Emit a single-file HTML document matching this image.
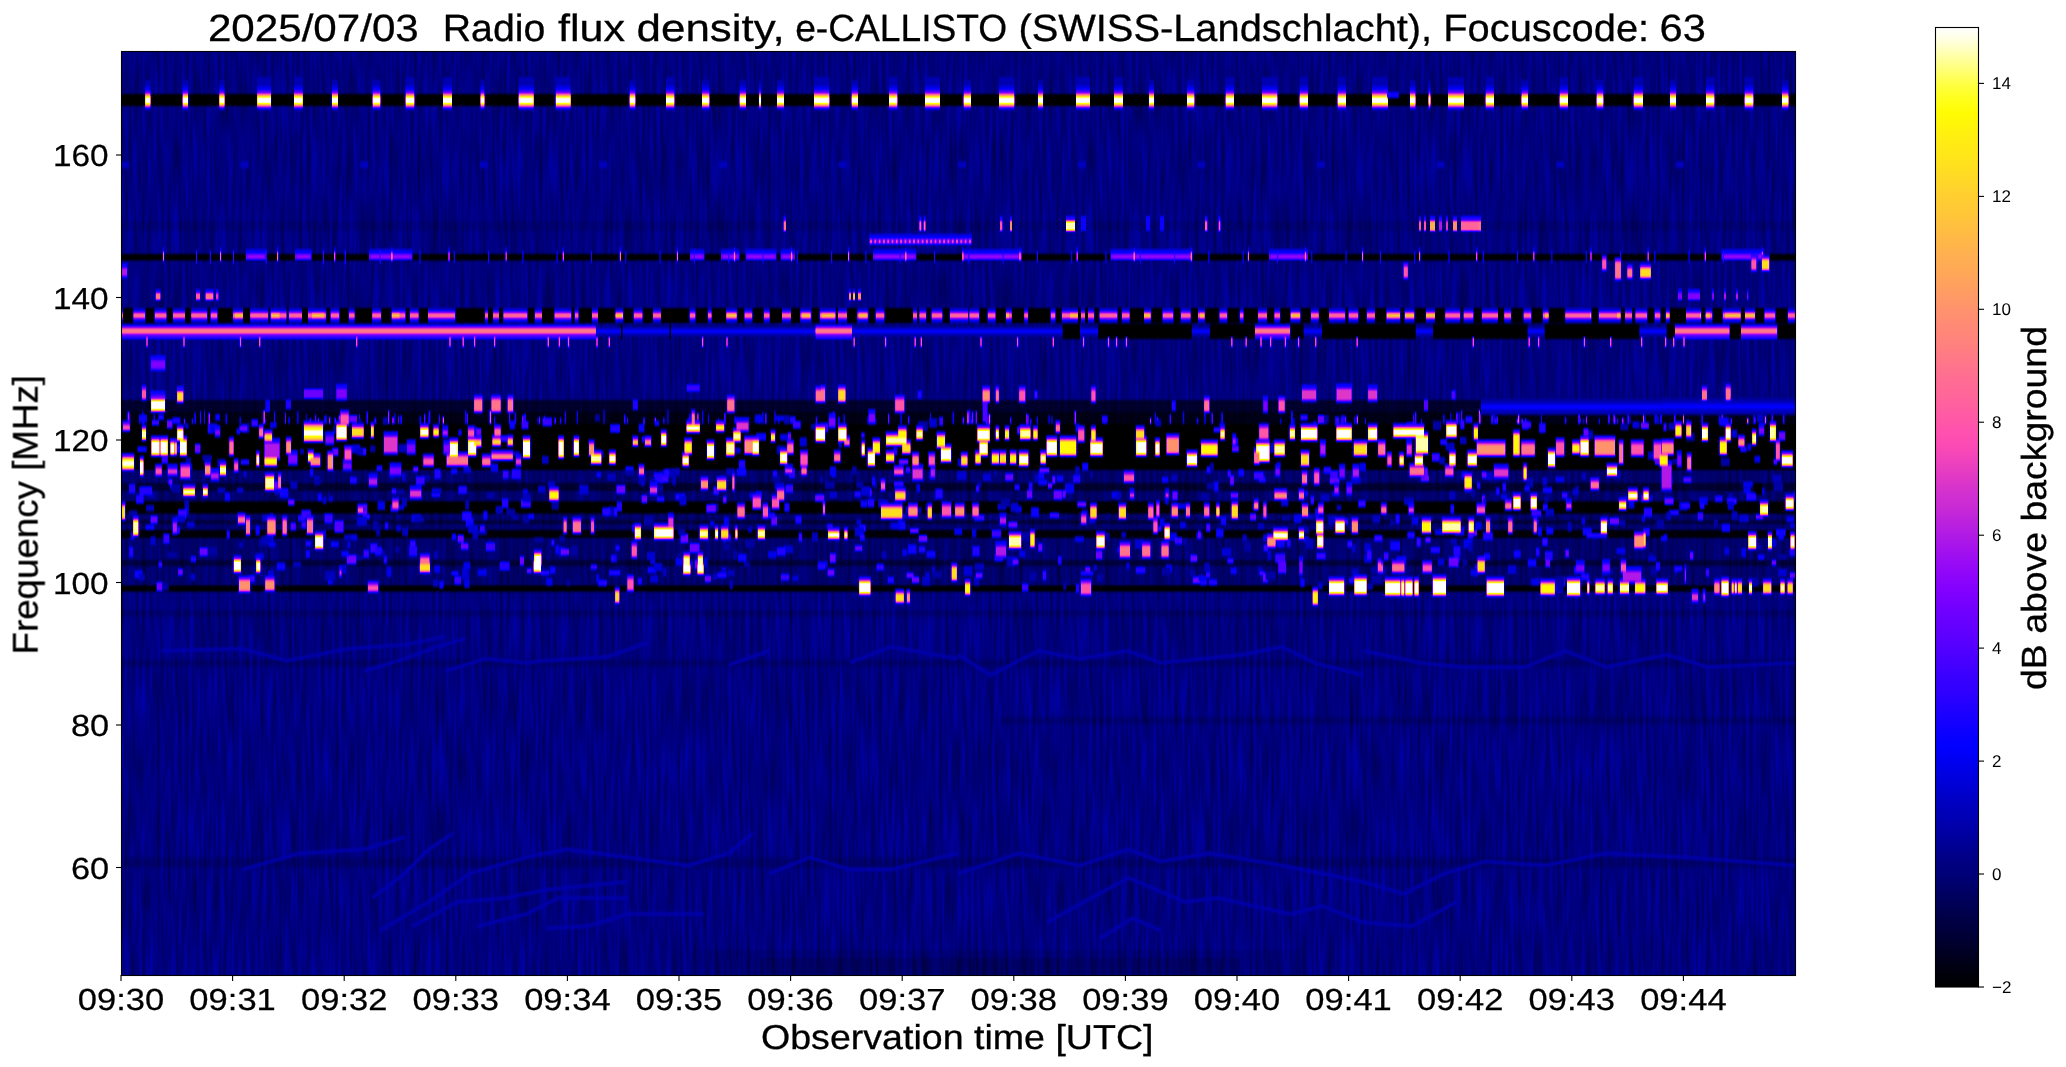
<!DOCTYPE html><html><head><meta charset="utf-8"><style>html,body{margin:0;padding:0;background:#fff}body{width:2066px;height:1067px;overflow:hidden}svg{display:block}text{will-change:transform}</style></head><body>
<svg width="2066" height="1067" viewBox="0 0 2066 1067" font-family="Liberation Sans, sans-serif" text-rendering="geometricPrecision">
<defs>
<linearGradient id="cbar" x1="0" y1="0" x2="0" y2="1"><stop offset="0.0000" stop-color="#ffffff"/><stop offset="0.0147" stop-color="#ffffda"/><stop offset="0.0294" stop-color="#ffffa7"/><stop offset="0.0441" stop-color="#ffff75"/><stop offset="0.0588" stop-color="#ffff43"/><stop offset="0.0735" stop-color="#ffff1e"/><stop offset="0.0882" stop-color="#fffc03"/><stop offset="0.1029" stop-color="#fff40b"/><stop offset="0.1176" stop-color="#ffec13"/><stop offset="0.1324" stop-color="#ffe619"/><stop offset="0.1471" stop-color="#ffde21"/><stop offset="0.1618" stop-color="#ffd629"/><stop offset="0.1765" stop-color="#ffce31"/><stop offset="0.1912" stop-color="#ffc837"/><stop offset="0.2059" stop-color="#ffc03f"/><stop offset="0.2206" stop-color="#ffb847"/><stop offset="0.2353" stop-color="#ffb04f"/><stop offset="0.2500" stop-color="#ffaa55"/><stop offset="0.2647" stop-color="#ffa25d"/><stop offset="0.2794" stop-color="#ff9a65"/><stop offset="0.2941" stop-color="#ff926d"/><stop offset="0.3088" stop-color="#ff8a75"/><stop offset="0.3235" stop-color="#ff847b"/><stop offset="0.3382" stop-color="#ff7c83"/><stop offset="0.3529" stop-color="#ff748b"/><stop offset="0.3676" stop-color="#ff6c93"/><stop offset="0.3824" stop-color="#ff6699"/><stop offset="0.3971" stop-color="#ff5ea1"/><stop offset="0.4118" stop-color="#ff56a9"/><stop offset="0.4265" stop-color="#ff4eb1"/><stop offset="0.4412" stop-color="#f848b7"/><stop offset="0.4559" stop-color="#eb40bf"/><stop offset="0.4706" stop-color="#df38c7"/><stop offset="0.4853" stop-color="#d230cf"/><stop offset="0.5000" stop-color="#c92ad5"/><stop offset="0.5147" stop-color="#bc22dd"/><stop offset="0.5294" stop-color="#b01ae5"/><stop offset="0.5441" stop-color="#a312ed"/><stop offset="0.5588" stop-color="#970af5"/><stop offset="0.5735" stop-color="#8d04fb"/><stop offset="0.5882" stop-color="#8100ff"/><stop offset="0.6029" stop-color="#7400ff"/><stop offset="0.6176" stop-color="#6800ff"/><stop offset="0.6324" stop-color="#5f00ff"/><stop offset="0.6471" stop-color="#5200ff"/><stop offset="0.6618" stop-color="#4600ff"/><stop offset="0.6765" stop-color="#3900ff"/><stop offset="0.6912" stop-color="#3000ff"/><stop offset="0.7059" stop-color="#2300ff"/><stop offset="0.7206" stop-color="#1700ff"/><stop offset="0.7353" stop-color="#0a00ff"/><stop offset="0.7500" stop-color="#0100ff"/><stop offset="0.7647" stop-color="#0000f0"/><stop offset="0.7794" stop-color="#0000e0"/><stop offset="0.7941" stop-color="#0000d0"/><stop offset="0.8088" stop-color="#0000c0"/><stop offset="0.8235" stop-color="#0000b4"/><stop offset="0.8382" stop-color="#0000a4"/><stop offset="0.8529" stop-color="#000094"/><stop offset="0.8676" stop-color="#000084"/><stop offset="0.8824" stop-color="#000078"/><stop offset="0.8971" stop-color="#000068"/><stop offset="0.9118" stop-color="#000058"/><stop offset="0.9265" stop-color="#000048"/><stop offset="0.9412" stop-color="#00003c"/><stop offset="0.9559" stop-color="#00002c"/><stop offset="0.9706" stop-color="#00001c"/><stop offset="0.9853" stop-color="#00000c"/><stop offset="1.0000" stop-color="#000000"/></linearGradient>
<clipPath id="pc"><rect x="121" y="51" width="1674" height="924"/></clipPath>
<filter id="cm" filterUnits="userSpaceOnUse" x="111" y="41" width="1694" height="944" color-interpolation-filters="sRGB">
<feGaussianBlur stdDeviation="0.7 1.3"/>
<feComponentTransfer><feFuncR type="table" tableValues="0.000 0.000 0.000 0.000 0.000 0.000 0.000 0.000 0.000 0.000 0.000 0.000 0.000 0.000 0.000 0.000 0.000 0.000 0.000 0.000 0.000 0.000 0.000 0.000 0.000 0.003 0.028 0.064 0.089 0.126 0.150 0.187 0.211 0.248 0.285 0.309 0.346 0.371 0.407 0.432 0.469 0.493 0.530 0.567 0.591 0.628 0.653 0.689 0.714 0.751 0.787 0.812 0.849 0.873 0.910 0.934 0.971 0.996 1.000 1.000 1.000 1.000 1.000 1.000 1.000 1.000 1.000 1.000 1.000 1.000 1.000 1.000 1.000 1.000 1.000 1.000 1.000 1.000 1.000 1.000 1.000 1.000 1.000 1.000 1.000 1.000 1.000 1.000 1.000 1.000 1.000 1.000 1.000 1.000 1.000 1.000 1.000 1.000 1.000 1.000 1.000"/><feFuncG type="table" tableValues="0.000 0.000 0.000 0.000 0.000 0.000 0.000 0.000 0.000 0.000 0.000 0.000 0.000 0.000 0.000 0.000 0.000 0.000 0.000 0.000 0.000 0.000 0.000 0.000 0.000 0.000 0.000 0.000 0.000 0.000 0.000 0.000 0.000 0.000 0.000 0.000 0.000 0.000 0.000 0.000 0.000 0.000 0.000 0.023 0.038 0.062 0.078 0.101 0.117 0.140 0.164 0.180 0.203 0.219 0.242 0.258 0.282 0.297 0.321 0.344 0.360 0.384 0.399 0.423 0.438 0.462 0.478 0.501 0.525 0.540 0.564 0.580 0.603 0.619 0.642 0.666 0.682 0.705 0.721 0.744 0.760 0.784 0.799 0.823 0.846 0.862 0.885 0.901 0.925 0.940 0.964 0.980 1.000 1.000 1.000 1.000 1.000 1.000 1.000 1.000 1.000"/><feFuncB type="table" tableValues="0.000 0.031 0.078 0.110 0.157 0.188 0.235 0.267 0.314 0.361 0.392 0.439 0.471 0.518 0.549 0.596 0.627 0.675 0.722 0.753 0.800 0.831 0.878 0.910 0.957 1.000 1.000 1.000 1.000 1.000 1.000 1.000 1.000 1.000 1.000 1.000 1.000 1.000 1.000 1.000 1.000 1.000 1.000 0.977 0.962 0.938 0.922 0.899 0.883 0.860 0.836 0.820 0.797 0.781 0.758 0.742 0.718 0.703 0.679 0.656 0.640 0.616 0.601 0.577 0.562 0.538 0.522 0.499 0.475 0.460 0.436 0.420 0.397 0.381 0.358 0.334 0.318 0.295 0.279 0.256 0.240 0.216 0.201 0.177 0.154 0.138 0.115 0.099 0.075 0.060 0.036 0.020 0.020 0.167 0.265 0.412 0.510 0.657 0.755 0.902 1.000"/></feComponentTransfer>
</filter>
<filter id="nz" filterUnits="userSpaceOnUse" x="111" y="41" width="1694" height="944" color-interpolation-filters="sRGB">
<feTurbulence type="fractalNoise" baseFrequency="0.28 0.015" numOctaves="2" seed="3" result="t"/>
<feColorMatrix in="t" type="matrix" values="0.1200 0 0 0 0.0660  0.1200 0 0 0 0.0660  0.1200 0 0 0 0.0660  0 0 0 0 1"/>
</filter>
</defs>
<g clip-path="url(#pc)"><g filter="url(#cm)">
<rect x="111" y="41" width="1694" height="944" fill="#262626" filter="url(#nz)"/>
<rect x="111.0" y="94.0" width="1694.0" height="12.0" fill="#000000"/>
<rect x="145.1" y="80.0" width="5.5" height="6.0" fill="#2d2d2d"/>
<rect x="145.1" y="86.0" width="5.5" height="4.0" fill="#3c3c3c"/>
<rect x="145.1" y="90.0" width="5.5" height="3.0" fill="#575757"/>
<rect x="145.1" y="93.0" width="5.5" height="2.0" fill="#878787"/>
<rect x="145.1" y="95.0" width="5.5" height="2.0" fill="#d2d2d2"/>
<rect x="145.1" y="97.0" width="5.5" height="7.0" fill="#ffffff"/>
<rect x="145.1" y="104.0" width="5.5" height="2.0" fill="#c3c3c3"/>
<rect x="145.1" y="106.0" width="5.5" height="2.0" fill="#696969"/>
<rect x="145.1" y="108.0" width="5.5" height="2.0" fill="#3c3c3c"/>
<rect x="182.5" y="80.0" width="5.7" height="6.0" fill="#2d2d2d"/>
<rect x="182.5" y="86.0" width="5.7" height="4.0" fill="#3c3c3c"/>
<rect x="182.5" y="90.0" width="5.7" height="3.0" fill="#575757"/>
<rect x="182.5" y="93.0" width="5.7" height="2.0" fill="#878787"/>
<rect x="182.5" y="95.0" width="5.7" height="2.0" fill="#d2d2d2"/>
<rect x="182.5" y="97.0" width="5.7" height="7.0" fill="#ffffff"/>
<rect x="182.5" y="104.0" width="5.7" height="2.0" fill="#c3c3c3"/>
<rect x="182.5" y="106.0" width="5.7" height="2.0" fill="#696969"/>
<rect x="182.5" y="108.0" width="5.7" height="2.0" fill="#3c3c3c"/>
<rect x="219.2" y="80.0" width="5.5" height="6.0" fill="#2d2d2d"/>
<rect x="219.2" y="86.0" width="5.5" height="4.0" fill="#3c3c3c"/>
<rect x="219.2" y="90.0" width="5.5" height="3.0" fill="#575757"/>
<rect x="219.2" y="93.0" width="5.5" height="2.0" fill="#878787"/>
<rect x="219.2" y="95.0" width="5.5" height="2.0" fill="#d2d2d2"/>
<rect x="219.2" y="97.0" width="5.5" height="7.0" fill="#ffffff"/>
<rect x="219.2" y="104.0" width="5.5" height="2.0" fill="#c3c3c3"/>
<rect x="219.2" y="106.0" width="5.5" height="2.0" fill="#696969"/>
<rect x="219.2" y="108.0" width="5.5" height="2.0" fill="#3c3c3c"/>
<rect x="257.1" y="77.0" width="14.0" height="9.0" fill="#2d2d2d"/>
<rect x="257.1" y="86.0" width="14.0" height="4.0" fill="#3c3c3c"/>
<rect x="257.1" y="90.0" width="14.0" height="3.0" fill="#575757"/>
<rect x="257.1" y="93.0" width="14.0" height="2.0" fill="#878787"/>
<rect x="257.1" y="95.0" width="14.0" height="2.0" fill="#d2d2d2"/>
<rect x="257.1" y="97.0" width="14.0" height="7.0" fill="#ffffff"/>
<rect x="257.1" y="104.0" width="14.0" height="2.0" fill="#c3c3c3"/>
<rect x="257.1" y="106.0" width="14.0" height="2.0" fill="#696969"/>
<rect x="257.1" y="108.0" width="14.0" height="2.0" fill="#3c3c3c"/>
<rect x="294.0" y="77.0" width="8.9" height="9.0" fill="#2d2d2d"/>
<rect x="294.0" y="86.0" width="8.9" height="4.0" fill="#3c3c3c"/>
<rect x="294.0" y="90.0" width="8.9" height="3.0" fill="#575757"/>
<rect x="294.0" y="93.0" width="8.9" height="2.0" fill="#878787"/>
<rect x="294.0" y="95.0" width="8.9" height="2.0" fill="#d2d2d2"/>
<rect x="294.0" y="97.0" width="8.9" height="7.0" fill="#ffffff"/>
<rect x="294.0" y="104.0" width="8.9" height="2.0" fill="#c3c3c3"/>
<rect x="294.0" y="106.0" width="8.9" height="2.0" fill="#696969"/>
<rect x="294.0" y="108.0" width="8.9" height="2.0" fill="#3c3c3c"/>
<rect x="331.8" y="80.0" width="6.2" height="6.0" fill="#2d2d2d"/>
<rect x="331.8" y="86.0" width="6.2" height="4.0" fill="#3c3c3c"/>
<rect x="331.8" y="90.0" width="6.2" height="3.0" fill="#575757"/>
<rect x="331.8" y="93.0" width="6.2" height="2.0" fill="#878787"/>
<rect x="331.8" y="95.0" width="6.2" height="2.0" fill="#d2d2d2"/>
<rect x="331.8" y="97.0" width="6.2" height="7.0" fill="#ffffff"/>
<rect x="331.8" y="104.0" width="6.2" height="2.0" fill="#c3c3c3"/>
<rect x="331.8" y="106.0" width="6.2" height="2.0" fill="#696969"/>
<rect x="331.8" y="108.0" width="6.2" height="2.0" fill="#3c3c3c"/>
<rect x="372.5" y="80.0" width="8.0" height="6.0" fill="#2d2d2d"/>
<rect x="372.5" y="86.0" width="8.0" height="4.0" fill="#3c3c3c"/>
<rect x="372.5" y="90.0" width="8.0" height="3.0" fill="#575757"/>
<rect x="372.5" y="93.0" width="8.0" height="2.0" fill="#878787"/>
<rect x="372.5" y="95.0" width="8.0" height="2.0" fill="#d2d2d2"/>
<rect x="372.5" y="97.0" width="8.0" height="7.0" fill="#ffffff"/>
<rect x="372.5" y="104.0" width="8.0" height="2.0" fill="#c3c3c3"/>
<rect x="372.5" y="106.0" width="8.0" height="2.0" fill="#696969"/>
<rect x="372.5" y="108.0" width="8.0" height="2.0" fill="#3c3c3c"/>
<rect x="405.5" y="77.0" width="9.0" height="9.0" fill="#2d2d2d"/>
<rect x="405.5" y="86.0" width="9.0" height="4.0" fill="#3c3c3c"/>
<rect x="405.5" y="90.0" width="9.0" height="3.0" fill="#575757"/>
<rect x="405.5" y="93.0" width="9.0" height="2.0" fill="#878787"/>
<rect x="405.5" y="95.0" width="9.0" height="2.0" fill="#d2d2d2"/>
<rect x="405.5" y="97.0" width="9.0" height="7.0" fill="#ffffff"/>
<rect x="405.5" y="104.0" width="9.0" height="2.0" fill="#c3c3c3"/>
<rect x="405.5" y="106.0" width="9.0" height="2.0" fill="#696969"/>
<rect x="405.5" y="108.0" width="9.0" height="2.0" fill="#3c3c3c"/>
<rect x="443.0" y="77.0" width="9.0" height="9.0" fill="#2d2d2d"/>
<rect x="443.0" y="86.0" width="9.0" height="4.0" fill="#3c3c3c"/>
<rect x="443.0" y="90.0" width="9.0" height="3.0" fill="#575757"/>
<rect x="443.0" y="93.0" width="9.0" height="2.0" fill="#878787"/>
<rect x="443.0" y="95.0" width="9.0" height="2.0" fill="#d2d2d2"/>
<rect x="443.0" y="97.0" width="9.0" height="7.0" fill="#ffffff"/>
<rect x="443.0" y="104.0" width="9.0" height="2.0" fill="#c3c3c3"/>
<rect x="443.0" y="106.0" width="9.0" height="2.0" fill="#696969"/>
<rect x="443.0" y="108.0" width="9.0" height="2.0" fill="#3c3c3c"/>
<rect x="480.4" y="80.0" width="4.2" height="6.0" fill="#2d2d2d"/>
<rect x="480.4" y="86.0" width="4.2" height="4.0" fill="#3c3c3c"/>
<rect x="480.4" y="90.0" width="4.2" height="3.0" fill="#575757"/>
<rect x="480.4" y="93.0" width="4.2" height="2.0" fill="#878787"/>
<rect x="480.4" y="95.0" width="4.2" height="2.0" fill="#d2d2d2"/>
<rect x="480.4" y="97.0" width="4.2" height="7.0" fill="#ffffff"/>
<rect x="480.4" y="104.0" width="4.2" height="2.0" fill="#c3c3c3"/>
<rect x="480.4" y="106.0" width="4.2" height="2.0" fill="#696969"/>
<rect x="480.4" y="108.0" width="4.2" height="2.0" fill="#3c3c3c"/>
<rect x="518.5" y="77.0" width="15.3" height="9.0" fill="#2d2d2d"/>
<rect x="518.5" y="86.0" width="15.3" height="4.0" fill="#3c3c3c"/>
<rect x="518.5" y="90.0" width="15.3" height="3.0" fill="#575757"/>
<rect x="518.5" y="93.0" width="15.3" height="2.0" fill="#878787"/>
<rect x="518.5" y="95.0" width="15.3" height="2.0" fill="#d2d2d2"/>
<rect x="518.5" y="97.0" width="15.3" height="7.0" fill="#ffffff"/>
<rect x="518.5" y="104.0" width="15.3" height="2.0" fill="#c3c3c3"/>
<rect x="518.5" y="106.0" width="15.3" height="2.0" fill="#696969"/>
<rect x="518.5" y="108.0" width="15.3" height="2.0" fill="#3c3c3c"/>
<rect x="555.6" y="77.0" width="15.2" height="9.0" fill="#2d2d2d"/>
<rect x="555.6" y="86.0" width="15.2" height="4.0" fill="#3c3c3c"/>
<rect x="555.6" y="90.0" width="15.2" height="3.0" fill="#575757"/>
<rect x="555.6" y="93.0" width="15.2" height="2.0" fill="#878787"/>
<rect x="555.6" y="95.0" width="15.2" height="2.0" fill="#d2d2d2"/>
<rect x="555.6" y="97.0" width="15.2" height="7.0" fill="#ffffff"/>
<rect x="555.6" y="104.0" width="15.2" height="2.0" fill="#c3c3c3"/>
<rect x="555.6" y="106.0" width="15.2" height="2.0" fill="#696969"/>
<rect x="555.6" y="108.0" width="15.2" height="2.0" fill="#3c3c3c"/>
<rect x="629.5" y="80.0" width="6.0" height="6.0" fill="#2d2d2d"/>
<rect x="629.5" y="86.0" width="6.0" height="4.0" fill="#3c3c3c"/>
<rect x="629.5" y="90.0" width="6.0" height="3.0" fill="#575757"/>
<rect x="629.5" y="93.0" width="6.0" height="2.0" fill="#878787"/>
<rect x="629.5" y="95.0" width="6.0" height="2.0" fill="#d2d2d2"/>
<rect x="629.5" y="97.0" width="6.0" height="7.0" fill="#ffffff"/>
<rect x="629.5" y="104.0" width="6.0" height="2.0" fill="#c3c3c3"/>
<rect x="629.5" y="106.0" width="6.0" height="2.0" fill="#696969"/>
<rect x="629.5" y="108.0" width="6.0" height="2.0" fill="#3c3c3c"/>
<rect x="666.0" y="77.0" width="8.5" height="9.0" fill="#2d2d2d"/>
<rect x="666.0" y="86.0" width="8.5" height="4.0" fill="#3c3c3c"/>
<rect x="666.0" y="90.0" width="8.5" height="3.0" fill="#575757"/>
<rect x="666.0" y="93.0" width="8.5" height="2.0" fill="#878787"/>
<rect x="666.0" y="95.0" width="8.5" height="2.0" fill="#d2d2d2"/>
<rect x="666.0" y="97.0" width="8.5" height="7.0" fill="#ffffff"/>
<rect x="666.0" y="104.0" width="8.5" height="2.0" fill="#c3c3c3"/>
<rect x="666.0" y="106.0" width="8.5" height="2.0" fill="#696969"/>
<rect x="666.0" y="108.0" width="8.5" height="2.0" fill="#3c3c3c"/>
<rect x="702.0" y="80.0" width="7.5" height="6.0" fill="#2d2d2d"/>
<rect x="702.0" y="86.0" width="7.5" height="4.0" fill="#3c3c3c"/>
<rect x="702.0" y="90.0" width="7.5" height="3.0" fill="#575757"/>
<rect x="702.0" y="93.0" width="7.5" height="2.0" fill="#878787"/>
<rect x="702.0" y="95.0" width="7.5" height="2.0" fill="#d2d2d2"/>
<rect x="702.0" y="97.0" width="7.5" height="7.0" fill="#ffffff"/>
<rect x="702.0" y="104.0" width="7.5" height="2.0" fill="#c3c3c3"/>
<rect x="702.0" y="106.0" width="7.5" height="2.0" fill="#696969"/>
<rect x="702.0" y="108.0" width="7.5" height="2.0" fill="#3c3c3c"/>
<rect x="739.5" y="80.0" width="6.5" height="6.0" fill="#2d2d2d"/>
<rect x="739.5" y="86.0" width="6.5" height="4.0" fill="#3c3c3c"/>
<rect x="739.5" y="90.0" width="6.5" height="3.0" fill="#575757"/>
<rect x="739.5" y="93.0" width="6.5" height="2.0" fill="#878787"/>
<rect x="739.5" y="95.0" width="6.5" height="2.0" fill="#d2d2d2"/>
<rect x="739.5" y="97.0" width="6.5" height="7.0" fill="#ffffff"/>
<rect x="739.5" y="104.0" width="6.5" height="2.0" fill="#c3c3c3"/>
<rect x="739.5" y="106.0" width="6.5" height="2.0" fill="#696969"/>
<rect x="739.5" y="108.0" width="6.5" height="2.0" fill="#3c3c3c"/>
<rect x="758.9" y="80.0" width="2.2" height="6.0" fill="#2d2d2d"/>
<rect x="758.9" y="86.0" width="2.2" height="4.0" fill="#3c3c3c"/>
<rect x="758.9" y="90.0" width="2.2" height="3.0" fill="#575757"/>
<rect x="758.9" y="93.0" width="2.2" height="2.0" fill="#878787"/>
<rect x="758.9" y="95.0" width="2.2" height="2.0" fill="#d2d2d2"/>
<rect x="758.9" y="97.0" width="2.2" height="7.0" fill="#ffffff"/>
<rect x="758.9" y="104.0" width="2.2" height="2.0" fill="#c3c3c3"/>
<rect x="758.9" y="106.0" width="2.2" height="2.0" fill="#696969"/>
<rect x="758.9" y="108.0" width="2.2" height="2.0" fill="#3c3c3c"/>
<rect x="777.0" y="80.0" width="7.0" height="6.0" fill="#2d2d2d"/>
<rect x="777.0" y="86.0" width="7.0" height="4.0" fill="#3c3c3c"/>
<rect x="777.0" y="90.0" width="7.0" height="3.0" fill="#575757"/>
<rect x="777.0" y="93.0" width="7.0" height="2.0" fill="#878787"/>
<rect x="777.0" y="95.0" width="7.0" height="2.0" fill="#d2d2d2"/>
<rect x="777.0" y="97.0" width="7.0" height="7.0" fill="#ffffff"/>
<rect x="777.0" y="104.0" width="7.0" height="2.0" fill="#c3c3c3"/>
<rect x="777.0" y="106.0" width="7.0" height="2.0" fill="#696969"/>
<rect x="777.0" y="108.0" width="7.0" height="2.0" fill="#3c3c3c"/>
<rect x="814.0" y="77.0" width="15.5" height="9.0" fill="#2d2d2d"/>
<rect x="814.0" y="86.0" width="15.5" height="4.0" fill="#3c3c3c"/>
<rect x="814.0" y="90.0" width="15.5" height="3.0" fill="#575757"/>
<rect x="814.0" y="93.0" width="15.5" height="2.0" fill="#878787"/>
<rect x="814.0" y="95.0" width="15.5" height="2.0" fill="#d2d2d2"/>
<rect x="814.0" y="97.0" width="15.5" height="7.0" fill="#ffffff"/>
<rect x="814.0" y="104.0" width="15.5" height="2.0" fill="#c3c3c3"/>
<rect x="814.0" y="106.0" width="15.5" height="2.0" fill="#696969"/>
<rect x="814.0" y="108.0" width="15.5" height="2.0" fill="#3c3c3c"/>
<rect x="851.5" y="80.0" width="6.5" height="6.0" fill="#2d2d2d"/>
<rect x="851.5" y="86.0" width="6.5" height="4.0" fill="#3c3c3c"/>
<rect x="851.5" y="90.0" width="6.5" height="3.0" fill="#575757"/>
<rect x="851.5" y="93.0" width="6.5" height="2.0" fill="#878787"/>
<rect x="851.5" y="95.0" width="6.5" height="2.0" fill="#d2d2d2"/>
<rect x="851.5" y="97.0" width="6.5" height="7.0" fill="#ffffff"/>
<rect x="851.5" y="104.0" width="6.5" height="2.0" fill="#c3c3c3"/>
<rect x="851.5" y="106.0" width="6.5" height="2.0" fill="#696969"/>
<rect x="851.5" y="108.0" width="6.5" height="2.0" fill="#3c3c3c"/>
<rect x="889.0" y="77.0" width="8.5" height="9.0" fill="#2d2d2d"/>
<rect x="889.0" y="86.0" width="8.5" height="4.0" fill="#3c3c3c"/>
<rect x="889.0" y="90.0" width="8.5" height="3.0" fill="#575757"/>
<rect x="889.0" y="93.0" width="8.5" height="2.0" fill="#878787"/>
<rect x="889.0" y="95.0" width="8.5" height="2.0" fill="#d2d2d2"/>
<rect x="889.0" y="97.0" width="8.5" height="7.0" fill="#ffffff"/>
<rect x="889.0" y="104.0" width="8.5" height="2.0" fill="#c3c3c3"/>
<rect x="889.0" y="106.0" width="8.5" height="2.0" fill="#696969"/>
<rect x="889.0" y="108.0" width="8.5" height="2.0" fill="#3c3c3c"/>
<rect x="925.0" y="77.0" width="15.0" height="9.0" fill="#2d2d2d"/>
<rect x="925.0" y="86.0" width="15.0" height="4.0" fill="#3c3c3c"/>
<rect x="925.0" y="90.0" width="15.0" height="3.0" fill="#575757"/>
<rect x="925.0" y="93.0" width="15.0" height="2.0" fill="#878787"/>
<rect x="925.0" y="95.0" width="15.0" height="2.0" fill="#d2d2d2"/>
<rect x="925.0" y="97.0" width="15.0" height="7.0" fill="#ffffff"/>
<rect x="925.0" y="104.0" width="15.0" height="2.0" fill="#c3c3c3"/>
<rect x="925.0" y="106.0" width="15.0" height="2.0" fill="#696969"/>
<rect x="925.0" y="108.0" width="15.0" height="2.0" fill="#3c3c3c"/>
<rect x="963.5" y="80.0" width="7.5" height="6.0" fill="#2d2d2d"/>
<rect x="963.5" y="86.0" width="7.5" height="4.0" fill="#3c3c3c"/>
<rect x="963.5" y="90.0" width="7.5" height="3.0" fill="#575757"/>
<rect x="963.5" y="93.0" width="7.5" height="2.0" fill="#878787"/>
<rect x="963.5" y="95.0" width="7.5" height="2.0" fill="#d2d2d2"/>
<rect x="963.5" y="97.0" width="7.5" height="7.0" fill="#ffffff"/>
<rect x="963.5" y="104.0" width="7.5" height="2.0" fill="#c3c3c3"/>
<rect x="963.5" y="106.0" width="7.5" height="2.0" fill="#696969"/>
<rect x="963.5" y="108.0" width="7.5" height="2.0" fill="#3c3c3c"/>
<rect x="999.0" y="77.0" width="15.5" height="9.0" fill="#2d2d2d"/>
<rect x="999.0" y="86.0" width="15.5" height="4.0" fill="#3c3c3c"/>
<rect x="999.0" y="90.0" width="15.5" height="3.0" fill="#575757"/>
<rect x="999.0" y="93.0" width="15.5" height="2.0" fill="#878787"/>
<rect x="999.0" y="95.0" width="15.5" height="2.0" fill="#d2d2d2"/>
<rect x="999.0" y="97.0" width="15.5" height="7.0" fill="#ffffff"/>
<rect x="999.0" y="104.0" width="15.5" height="2.0" fill="#c3c3c3"/>
<rect x="999.0" y="106.0" width="15.5" height="2.0" fill="#696969"/>
<rect x="999.0" y="108.0" width="15.5" height="2.0" fill="#3c3c3c"/>
<rect x="1037.9" y="80.0" width="5.2" height="6.0" fill="#2d2d2d"/>
<rect x="1037.9" y="86.0" width="5.2" height="4.0" fill="#3c3c3c"/>
<rect x="1037.9" y="90.0" width="5.2" height="3.0" fill="#575757"/>
<rect x="1037.9" y="93.0" width="5.2" height="2.0" fill="#878787"/>
<rect x="1037.9" y="95.0" width="5.2" height="2.0" fill="#d2d2d2"/>
<rect x="1037.9" y="97.0" width="5.2" height="7.0" fill="#ffffff"/>
<rect x="1037.9" y="104.0" width="5.2" height="2.0" fill="#c3c3c3"/>
<rect x="1037.9" y="106.0" width="5.2" height="2.0" fill="#696969"/>
<rect x="1037.9" y="108.0" width="5.2" height="2.0" fill="#3c3c3c"/>
<rect x="1076.0" y="77.0" width="14.0" height="9.0" fill="#2d2d2d"/>
<rect x="1076.0" y="86.0" width="14.0" height="4.0" fill="#3c3c3c"/>
<rect x="1076.0" y="90.0" width="14.0" height="3.0" fill="#575757"/>
<rect x="1076.0" y="93.0" width="14.0" height="2.0" fill="#878787"/>
<rect x="1076.0" y="95.0" width="14.0" height="2.0" fill="#d2d2d2"/>
<rect x="1076.0" y="97.0" width="14.0" height="7.0" fill="#ffffff"/>
<rect x="1076.0" y="104.0" width="14.0" height="2.0" fill="#c3c3c3"/>
<rect x="1076.0" y="106.0" width="14.0" height="2.0" fill="#696969"/>
<rect x="1076.0" y="108.0" width="14.0" height="2.0" fill="#3c3c3c"/>
<rect x="1114.0" y="77.0" width="9.0" height="9.0" fill="#2d2d2d"/>
<rect x="1114.0" y="86.0" width="9.0" height="4.0" fill="#3c3c3c"/>
<rect x="1114.0" y="90.0" width="9.0" height="3.0" fill="#575757"/>
<rect x="1114.0" y="93.0" width="9.0" height="2.0" fill="#878787"/>
<rect x="1114.0" y="95.0" width="9.0" height="2.0" fill="#d2d2d2"/>
<rect x="1114.0" y="97.0" width="9.0" height="7.0" fill="#ffffff"/>
<rect x="1114.0" y="104.0" width="9.0" height="2.0" fill="#c3c3c3"/>
<rect x="1114.0" y="106.0" width="9.0" height="2.0" fill="#696969"/>
<rect x="1114.0" y="108.0" width="9.0" height="2.0" fill="#3c3c3c"/>
<rect x="1148.9" y="80.0" width="5.2" height="6.0" fill="#2d2d2d"/>
<rect x="1148.9" y="86.0" width="5.2" height="4.0" fill="#3c3c3c"/>
<rect x="1148.9" y="90.0" width="5.2" height="3.0" fill="#575757"/>
<rect x="1148.9" y="93.0" width="5.2" height="2.0" fill="#878787"/>
<rect x="1148.9" y="95.0" width="5.2" height="2.0" fill="#d2d2d2"/>
<rect x="1148.9" y="97.0" width="5.2" height="7.0" fill="#ffffff"/>
<rect x="1148.9" y="104.0" width="5.2" height="2.0" fill="#c3c3c3"/>
<rect x="1148.9" y="106.0" width="5.2" height="2.0" fill="#696969"/>
<rect x="1148.9" y="108.0" width="5.2" height="2.0" fill="#3c3c3c"/>
<rect x="1187.0" y="80.0" width="7.5" height="6.0" fill="#2d2d2d"/>
<rect x="1187.0" y="86.0" width="7.5" height="4.0" fill="#3c3c3c"/>
<rect x="1187.0" y="90.0" width="7.5" height="3.0" fill="#575757"/>
<rect x="1187.0" y="93.0" width="7.5" height="2.0" fill="#878787"/>
<rect x="1187.0" y="95.0" width="7.5" height="2.0" fill="#d2d2d2"/>
<rect x="1187.0" y="97.0" width="7.5" height="7.0" fill="#ffffff"/>
<rect x="1187.0" y="104.0" width="7.5" height="2.0" fill="#c3c3c3"/>
<rect x="1187.0" y="106.0" width="7.5" height="2.0" fill="#696969"/>
<rect x="1187.0" y="108.0" width="7.5" height="2.0" fill="#3c3c3c"/>
<rect x="1225.5" y="77.0" width="8.5" height="9.0" fill="#2d2d2d"/>
<rect x="1225.5" y="86.0" width="8.5" height="4.0" fill="#3c3c3c"/>
<rect x="1225.5" y="90.0" width="8.5" height="3.0" fill="#575757"/>
<rect x="1225.5" y="93.0" width="8.5" height="2.0" fill="#878787"/>
<rect x="1225.5" y="95.0" width="8.5" height="2.0" fill="#d2d2d2"/>
<rect x="1225.5" y="97.0" width="8.5" height="7.0" fill="#ffffff"/>
<rect x="1225.5" y="104.0" width="8.5" height="2.0" fill="#c3c3c3"/>
<rect x="1225.5" y="106.0" width="8.5" height="2.0" fill="#696969"/>
<rect x="1225.5" y="108.0" width="8.5" height="2.0" fill="#3c3c3c"/>
<rect x="1262.0" y="77.0" width="15.5" height="9.0" fill="#2d2d2d"/>
<rect x="1262.0" y="86.0" width="15.5" height="4.0" fill="#3c3c3c"/>
<rect x="1262.0" y="90.0" width="15.5" height="3.0" fill="#575757"/>
<rect x="1262.0" y="93.0" width="15.5" height="2.0" fill="#878787"/>
<rect x="1262.0" y="95.0" width="15.5" height="2.0" fill="#d2d2d2"/>
<rect x="1262.0" y="97.0" width="15.5" height="7.0" fill="#ffffff"/>
<rect x="1262.0" y="104.0" width="15.5" height="2.0" fill="#c3c3c3"/>
<rect x="1262.0" y="106.0" width="15.5" height="2.0" fill="#696969"/>
<rect x="1262.0" y="108.0" width="15.5" height="2.0" fill="#3c3c3c"/>
<rect x="1299.5" y="77.0" width="8.5" height="9.0" fill="#2d2d2d"/>
<rect x="1299.5" y="86.0" width="8.5" height="4.0" fill="#3c3c3c"/>
<rect x="1299.5" y="90.0" width="8.5" height="3.0" fill="#575757"/>
<rect x="1299.5" y="93.0" width="8.5" height="2.0" fill="#878787"/>
<rect x="1299.5" y="95.0" width="8.5" height="2.0" fill="#d2d2d2"/>
<rect x="1299.5" y="97.0" width="8.5" height="7.0" fill="#ffffff"/>
<rect x="1299.5" y="104.0" width="8.5" height="2.0" fill="#c3c3c3"/>
<rect x="1299.5" y="106.0" width="8.5" height="2.0" fill="#696969"/>
<rect x="1299.5" y="108.0" width="8.5" height="2.0" fill="#3c3c3c"/>
<rect x="1337.5" y="77.0" width="8.5" height="9.0" fill="#2d2d2d"/>
<rect x="1337.5" y="86.0" width="8.5" height="4.0" fill="#3c3c3c"/>
<rect x="1337.5" y="90.0" width="8.5" height="3.0" fill="#575757"/>
<rect x="1337.5" y="93.0" width="8.5" height="2.0" fill="#878787"/>
<rect x="1337.5" y="95.0" width="8.5" height="2.0" fill="#d2d2d2"/>
<rect x="1337.5" y="97.0" width="8.5" height="7.0" fill="#ffffff"/>
<rect x="1337.5" y="104.0" width="8.5" height="2.0" fill="#c3c3c3"/>
<rect x="1337.5" y="106.0" width="8.5" height="2.0" fill="#696969"/>
<rect x="1337.5" y="108.0" width="8.5" height="2.0" fill="#3c3c3c"/>
<rect x="1372.0" y="77.0" width="16.0" height="9.0" fill="#2d2d2d"/>
<rect x="1372.0" y="86.0" width="16.0" height="4.0" fill="#3c3c3c"/>
<rect x="1372.0" y="90.0" width="16.0" height="3.0" fill="#575757"/>
<rect x="1372.0" y="93.0" width="16.0" height="2.0" fill="#878787"/>
<rect x="1372.0" y="95.0" width="16.0" height="2.0" fill="#d2d2d2"/>
<rect x="1372.0" y="97.0" width="16.0" height="7.0" fill="#ffffff"/>
<rect x="1372.0" y="104.0" width="16.0" height="2.0" fill="#c3c3c3"/>
<rect x="1372.0" y="106.0" width="16.0" height="2.0" fill="#696969"/>
<rect x="1372.0" y="108.0" width="16.0" height="2.0" fill="#3c3c3c"/>
<rect x="1409.9" y="80.0" width="5.7" height="6.0" fill="#2d2d2d"/>
<rect x="1409.9" y="86.0" width="5.7" height="4.0" fill="#3c3c3c"/>
<rect x="1409.9" y="90.0" width="5.7" height="3.0" fill="#575757"/>
<rect x="1409.9" y="93.0" width="5.7" height="2.0" fill="#878787"/>
<rect x="1409.9" y="95.0" width="5.7" height="2.0" fill="#d2d2d2"/>
<rect x="1409.9" y="97.0" width="5.7" height="7.0" fill="#ffffff"/>
<rect x="1409.9" y="104.0" width="5.7" height="2.0" fill="#c3c3c3"/>
<rect x="1409.9" y="106.0" width="5.7" height="2.0" fill="#696969"/>
<rect x="1409.9" y="108.0" width="5.7" height="2.0" fill="#3c3c3c"/>
<rect x="1428.4" y="80.0" width="2.2" height="6.0" fill="#2d2d2d"/>
<rect x="1428.4" y="86.0" width="2.2" height="4.0" fill="#3c3c3c"/>
<rect x="1428.4" y="90.0" width="2.2" height="3.0" fill="#575757"/>
<rect x="1428.4" y="93.0" width="2.2" height="2.0" fill="#878787"/>
<rect x="1428.4" y="95.0" width="2.2" height="2.0" fill="#d2d2d2"/>
<rect x="1428.4" y="97.0" width="2.2" height="7.0" fill="#ffffff"/>
<rect x="1428.4" y="104.0" width="2.2" height="2.0" fill="#c3c3c3"/>
<rect x="1428.4" y="106.0" width="2.2" height="2.0" fill="#696969"/>
<rect x="1428.4" y="108.0" width="2.2" height="2.0" fill="#3c3c3c"/>
<rect x="1448.0" y="77.0" width="16.0" height="9.0" fill="#2d2d2d"/>
<rect x="1448.0" y="86.0" width="16.0" height="4.0" fill="#3c3c3c"/>
<rect x="1448.0" y="90.0" width="16.0" height="3.0" fill="#575757"/>
<rect x="1448.0" y="93.0" width="16.0" height="2.0" fill="#878787"/>
<rect x="1448.0" y="95.0" width="16.0" height="2.0" fill="#d2d2d2"/>
<rect x="1448.0" y="97.0" width="16.0" height="7.0" fill="#ffffff"/>
<rect x="1448.0" y="104.0" width="16.0" height="2.0" fill="#c3c3c3"/>
<rect x="1448.0" y="106.0" width="16.0" height="2.0" fill="#696969"/>
<rect x="1448.0" y="108.0" width="16.0" height="2.0" fill="#3c3c3c"/>
<rect x="1485.5" y="77.0" width="8.5" height="9.0" fill="#2d2d2d"/>
<rect x="1485.5" y="86.0" width="8.5" height="4.0" fill="#3c3c3c"/>
<rect x="1485.5" y="90.0" width="8.5" height="3.0" fill="#575757"/>
<rect x="1485.5" y="93.0" width="8.5" height="2.0" fill="#878787"/>
<rect x="1485.5" y="95.0" width="8.5" height="2.0" fill="#d2d2d2"/>
<rect x="1485.5" y="97.0" width="8.5" height="7.0" fill="#ffffff"/>
<rect x="1485.5" y="104.0" width="8.5" height="2.0" fill="#c3c3c3"/>
<rect x="1485.5" y="106.0" width="8.5" height="2.0" fill="#696969"/>
<rect x="1485.5" y="108.0" width="8.5" height="2.0" fill="#3c3c3c"/>
<rect x="1521.4" y="80.0" width="6.7" height="6.0" fill="#2d2d2d"/>
<rect x="1521.4" y="86.0" width="6.7" height="4.0" fill="#3c3c3c"/>
<rect x="1521.4" y="90.0" width="6.7" height="3.0" fill="#575757"/>
<rect x="1521.4" y="93.0" width="6.7" height="2.0" fill="#878787"/>
<rect x="1521.4" y="95.0" width="6.7" height="2.0" fill="#d2d2d2"/>
<rect x="1521.4" y="97.0" width="6.7" height="7.0" fill="#ffffff"/>
<rect x="1521.4" y="104.0" width="6.7" height="2.0" fill="#c3c3c3"/>
<rect x="1521.4" y="106.0" width="6.7" height="2.0" fill="#696969"/>
<rect x="1521.4" y="108.0" width="6.7" height="2.0" fill="#3c3c3c"/>
<rect x="1559.5" y="77.0" width="8.5" height="9.0" fill="#2d2d2d"/>
<rect x="1559.5" y="86.0" width="8.5" height="4.0" fill="#3c3c3c"/>
<rect x="1559.5" y="90.0" width="8.5" height="3.0" fill="#575757"/>
<rect x="1559.5" y="93.0" width="8.5" height="2.0" fill="#878787"/>
<rect x="1559.5" y="95.0" width="8.5" height="2.0" fill="#d2d2d2"/>
<rect x="1559.5" y="97.0" width="8.5" height="7.0" fill="#ffffff"/>
<rect x="1559.5" y="104.0" width="8.5" height="2.0" fill="#c3c3c3"/>
<rect x="1559.5" y="106.0" width="8.5" height="2.0" fill="#696969"/>
<rect x="1559.5" y="108.0" width="8.5" height="2.0" fill="#3c3c3c"/>
<rect x="1596.5" y="80.0" width="7.0" height="6.0" fill="#2d2d2d"/>
<rect x="1596.5" y="86.0" width="7.0" height="4.0" fill="#3c3c3c"/>
<rect x="1596.5" y="90.0" width="7.0" height="3.0" fill="#575757"/>
<rect x="1596.5" y="93.0" width="7.0" height="2.0" fill="#878787"/>
<rect x="1596.5" y="95.0" width="7.0" height="2.0" fill="#d2d2d2"/>
<rect x="1596.5" y="97.0" width="7.0" height="7.0" fill="#ffffff"/>
<rect x="1596.5" y="104.0" width="7.0" height="2.0" fill="#c3c3c3"/>
<rect x="1596.5" y="106.0" width="7.0" height="2.0" fill="#696969"/>
<rect x="1596.5" y="108.0" width="7.0" height="2.0" fill="#3c3c3c"/>
<rect x="1633.5" y="77.0" width="9.5" height="9.0" fill="#2d2d2d"/>
<rect x="1633.5" y="86.0" width="9.5" height="4.0" fill="#3c3c3c"/>
<rect x="1633.5" y="90.0" width="9.5" height="3.0" fill="#575757"/>
<rect x="1633.5" y="93.0" width="9.5" height="2.0" fill="#878787"/>
<rect x="1633.5" y="95.0" width="9.5" height="2.0" fill="#d2d2d2"/>
<rect x="1633.5" y="97.0" width="9.5" height="7.0" fill="#ffffff"/>
<rect x="1633.5" y="104.0" width="9.5" height="2.0" fill="#c3c3c3"/>
<rect x="1633.5" y="106.0" width="9.5" height="2.0" fill="#696969"/>
<rect x="1633.5" y="108.0" width="9.5" height="2.0" fill="#3c3c3c"/>
<rect x="1669.9" y="80.0" width="6.2" height="6.0" fill="#2d2d2d"/>
<rect x="1669.9" y="86.0" width="6.2" height="4.0" fill="#3c3c3c"/>
<rect x="1669.9" y="90.0" width="6.2" height="3.0" fill="#575757"/>
<rect x="1669.9" y="93.0" width="6.2" height="2.0" fill="#878787"/>
<rect x="1669.9" y="95.0" width="6.2" height="2.0" fill="#d2d2d2"/>
<rect x="1669.9" y="97.0" width="6.2" height="7.0" fill="#ffffff"/>
<rect x="1669.9" y="104.0" width="6.2" height="2.0" fill="#c3c3c3"/>
<rect x="1669.9" y="106.0" width="6.2" height="2.0" fill="#696969"/>
<rect x="1669.9" y="108.0" width="6.2" height="2.0" fill="#3c3c3c"/>
<rect x="1706.0" y="77.0" width="8.5" height="9.0" fill="#2d2d2d"/>
<rect x="1706.0" y="86.0" width="8.5" height="4.0" fill="#3c3c3c"/>
<rect x="1706.0" y="90.0" width="8.5" height="3.0" fill="#575757"/>
<rect x="1706.0" y="93.0" width="8.5" height="2.0" fill="#878787"/>
<rect x="1706.0" y="95.0" width="8.5" height="2.0" fill="#d2d2d2"/>
<rect x="1706.0" y="97.0" width="8.5" height="7.0" fill="#ffffff"/>
<rect x="1706.0" y="104.0" width="8.5" height="2.0" fill="#c3c3c3"/>
<rect x="1706.0" y="106.0" width="8.5" height="2.0" fill="#696969"/>
<rect x="1706.0" y="108.0" width="8.5" height="2.0" fill="#3c3c3c"/>
<rect x="1744.5" y="77.0" width="9.0" height="9.0" fill="#2d2d2d"/>
<rect x="1744.5" y="86.0" width="9.0" height="4.0" fill="#3c3c3c"/>
<rect x="1744.5" y="90.0" width="9.0" height="3.0" fill="#575757"/>
<rect x="1744.5" y="93.0" width="9.0" height="2.0" fill="#878787"/>
<rect x="1744.5" y="95.0" width="9.0" height="2.0" fill="#d2d2d2"/>
<rect x="1744.5" y="97.0" width="9.0" height="7.0" fill="#ffffff"/>
<rect x="1744.5" y="104.0" width="9.0" height="2.0" fill="#c3c3c3"/>
<rect x="1744.5" y="106.0" width="9.0" height="2.0" fill="#696969"/>
<rect x="1744.5" y="108.0" width="9.0" height="2.0" fill="#3c3c3c"/>
<rect x="1781.9" y="80.0" width="6.7" height="6.0" fill="#2d2d2d"/>
<rect x="1781.9" y="86.0" width="6.7" height="4.0" fill="#3c3c3c"/>
<rect x="1781.9" y="90.0" width="6.7" height="3.0" fill="#575757"/>
<rect x="1781.9" y="93.0" width="6.7" height="2.0" fill="#878787"/>
<rect x="1781.9" y="95.0" width="6.7" height="2.0" fill="#d2d2d2"/>
<rect x="1781.9" y="97.0" width="6.7" height="7.0" fill="#ffffff"/>
<rect x="1781.9" y="104.0" width="6.7" height="2.0" fill="#c3c3c3"/>
<rect x="1781.9" y="106.0" width="6.7" height="2.0" fill="#696969"/>
<rect x="1781.9" y="108.0" width="6.7" height="2.0" fill="#3c3c3c"/>
<rect x="1387.0" y="92.0" width="12.0" height="6.0" fill="#444444"/>
<rect x="121.0" y="161.5" width="8.0" height="6.5" fill="#303030"/>
<rect x="240.6" y="161.5" width="8.0" height="6.5" fill="#303030"/>
<rect x="360.2" y="161.5" width="8.0" height="6.5" fill="#303030"/>
<rect x="479.8" y="161.5" width="8.0" height="6.5" fill="#303030"/>
<rect x="599.4" y="161.5" width="8.0" height="6.5" fill="#303030"/>
<rect x="719.0" y="161.5" width="8.0" height="6.5" fill="#303030"/>
<rect x="838.6" y="161.5" width="8.0" height="6.5" fill="#303030"/>
<rect x="958.2" y="161.5" width="8.0" height="6.5" fill="#303030"/>
<rect x="1077.8" y="161.5" width="8.0" height="6.5" fill="#303030"/>
<rect x="1197.4" y="161.5" width="8.0" height="6.5" fill="#303030"/>
<rect x="1317.0" y="161.5" width="8.0" height="6.5" fill="#303030"/>
<rect x="1436.6" y="161.5" width="8.0" height="6.5" fill="#303030"/>
<rect x="1556.2" y="161.5" width="8.0" height="6.5" fill="#303030"/>
<rect x="1675.8" y="161.5" width="8.0" height="6.5" fill="#303030"/>
<rect x="1795.4" y="161.5" width="8.0" height="6.5" fill="#303030"/>
<rect x="111.0" y="221.0" width="1694.0" height="10.0" fill="#000" fill-opacity="0.087"/>
<rect x="783.5" y="221.0" width="2.5" height="10.0" fill="#a5a5a5"/>
<rect x="783.5" y="216.0" width="2.5" height="5.0" fill="#4b4b4b"/>
<rect x="919.3" y="221.0" width="2.2" height="10.0" fill="#a5a5a5"/>
<rect x="919.3" y="216.0" width="2.2" height="5.0" fill="#4b4b4b"/>
<rect x="923.5" y="221.0" width="2.2" height="10.0" fill="#a5a5a5"/>
<rect x="923.5" y="216.0" width="2.2" height="5.0" fill="#4b4b4b"/>
<rect x="1000.0" y="221.0" width="2.5" height="10.0" fill="#969696"/>
<rect x="1000.0" y="216.0" width="2.5" height="5.0" fill="#4b4b4b"/>
<rect x="1010.0" y="221.0" width="2.0" height="10.0" fill="#b4b4b4"/>
<rect x="1010.0" y="216.0" width="2.0" height="5.0" fill="#4b4b4b"/>
<rect x="1066.0" y="221.0" width="9.0" height="10.0" fill="#f8f8f8"/>
<rect x="1066.0" y="216.0" width="9.0" height="5.0" fill="#4b4b4b"/>
<rect x="1081.0" y="221.0" width="5.0" height="10.0" fill="#444444"/>
<rect x="1081.0" y="216.0" width="5.0" height="5.0" fill="#444444"/>
<rect x="1146.0" y="221.0" width="4.0" height="10.0" fill="#444444"/>
<rect x="1146.0" y="216.0" width="4.0" height="5.0" fill="#444444"/>
<rect x="1160.0" y="221.0" width="4.0" height="10.0" fill="#444444"/>
<rect x="1160.0" y="216.0" width="4.0" height="5.0" fill="#444444"/>
<rect x="1205.0" y="221.0" width="2.5" height="10.0" fill="#9e9e9e"/>
<rect x="1205.0" y="216.0" width="2.5" height="5.0" fill="#4b4b4b"/>
<rect x="1218.5" y="221.0" width="2.0" height="10.0" fill="#9e9e9e"/>
<rect x="1218.5" y="216.0" width="2.0" height="5.0" fill="#4b4b4b"/>
<rect x="1419.0" y="221.0" width="2.0" height="10.0" fill="#969696"/>
<rect x="1419.0" y="216.0" width="2.0" height="5.0" fill="#4b4b4b"/>
<rect x="1424.0" y="221.0" width="2.0" height="10.0" fill="#969696"/>
<rect x="1424.0" y="216.0" width="2.0" height="5.0" fill="#4b4b4b"/>
<rect x="1430.0" y="221.0" width="5.0" height="10.0" fill="#c3c3c3"/>
<rect x="1430.0" y="216.0" width="5.0" height="5.0" fill="#4b4b4b"/>
<rect x="1439.0" y="221.0" width="3.0" height="10.0" fill="#787878"/>
<rect x="1439.0" y="216.0" width="3.0" height="5.0" fill="#4b4b4b"/>
<rect x="1446.0" y="221.0" width="2.0" height="10.0" fill="#878787"/>
<rect x="1446.0" y="216.0" width="2.0" height="5.0" fill="#4b4b4b"/>
<rect x="1453.0" y="221.0" width="4.0" height="10.0" fill="#b4b4b4"/>
<rect x="1453.0" y="216.0" width="4.0" height="5.0" fill="#4b4b4b"/>
<rect x="1461.0" y="221.0" width="17.0" height="10.0" fill="#9e9e9e"/>
<rect x="1461.0" y="216.0" width="17.0" height="5.0" fill="#4b4b4b"/>
<rect x="1478.0" y="221.0" width="3.0" height="10.0" fill="#a5a5a5"/>
<rect x="1478.0" y="216.0" width="3.0" height="5.0" fill="#4b4b4b"/>
<rect x="869.0" y="234.0" width="103.0" height="11.0" fill="#3c3c3c"/>
<rect x="869.0" y="238.5" width="103.0" height="5.5" fill="#5a5a5a"/>
<rect x="870.0" y="239.5" width="2.0" height="4.0" fill="#969696"/>
<rect x="874.3" y="239.5" width="2.0" height="4.0" fill="#969696"/>
<rect x="878.6" y="239.5" width="2.0" height="4.0" fill="#969696"/>
<rect x="882.9" y="239.5" width="2.0" height="4.0" fill="#969696"/>
<rect x="887.2" y="239.5" width="2.0" height="4.0" fill="#969696"/>
<rect x="891.5" y="239.5" width="2.0" height="4.0" fill="#969696"/>
<rect x="895.8" y="239.5" width="2.0" height="4.0" fill="#969696"/>
<rect x="900.1" y="239.5" width="2.0" height="4.0" fill="#969696"/>
<rect x="904.4" y="239.5" width="2.0" height="4.0" fill="#969696"/>
<rect x="908.7" y="239.5" width="2.0" height="4.0" fill="#969696"/>
<rect x="913.0" y="239.5" width="2.0" height="4.0" fill="#969696"/>
<rect x="917.3" y="239.5" width="2.0" height="4.0" fill="#969696"/>
<rect x="921.6" y="239.5" width="2.0" height="4.0" fill="#969696"/>
<rect x="925.9" y="239.5" width="2.0" height="4.0" fill="#969696"/>
<rect x="930.2" y="239.5" width="2.0" height="4.0" fill="#969696"/>
<rect x="934.5" y="239.5" width="2.0" height="4.0" fill="#969696"/>
<rect x="938.8" y="239.5" width="2.0" height="4.0" fill="#969696"/>
<rect x="943.1" y="239.5" width="2.0" height="4.0" fill="#969696"/>
<rect x="947.4" y="239.5" width="2.0" height="4.0" fill="#969696"/>
<rect x="951.7" y="239.5" width="2.0" height="4.0" fill="#969696"/>
<rect x="956.0" y="239.5" width="2.0" height="4.0" fill="#969696"/>
<rect x="960.3" y="239.5" width="2.0" height="4.0" fill="#969696"/>
<rect x="964.6" y="239.5" width="2.0" height="4.0" fill="#969696"/>
<rect x="968.9" y="239.5" width="2.0" height="4.0" fill="#969696"/>
<rect x="111.0" y="254.0" width="1694.0" height="6.5" fill="#000000"/>
<rect x="245.8" y="249.0" width="20.5" height="4.5" fill="#3c3c3c"/>
<rect x="245.8" y="253.5" width="20.5" height="6.5" fill="#626262"/>
<rect x="247.8" y="255.0" width="16.5" height="3.0" fill="#707070"/>
<rect x="295.0" y="249.0" width="16.6" height="4.5" fill="#3c3c3c"/>
<rect x="295.0" y="253.5" width="16.6" height="6.5" fill="#626262"/>
<rect x="297.0" y="255.0" width="12.6" height="3.0" fill="#707070"/>
<rect x="369.0" y="249.0" width="43.4" height="4.5" fill="#3c3c3c"/>
<rect x="369.0" y="253.5" width="43.4" height="6.5" fill="#626262"/>
<rect x="371.0" y="255.0" width="39.4" height="3.0" fill="#707070"/>
<rect x="690.0" y="249.0" width="14.5" height="4.5" fill="#3c3c3c"/>
<rect x="690.0" y="253.5" width="14.5" height="6.5" fill="#626262"/>
<rect x="692.0" y="255.0" width="10.5" height="3.0" fill="#707070"/>
<rect x="721.0" y="249.0" width="18.5" height="4.5" fill="#3c3c3c"/>
<rect x="721.0" y="253.5" width="18.5" height="6.5" fill="#626262"/>
<rect x="723.0" y="255.0" width="14.5" height="3.0" fill="#707070"/>
<rect x="745.6" y="249.0" width="30.9" height="4.5" fill="#3c3c3c"/>
<rect x="745.6" y="253.5" width="30.9" height="6.5" fill="#626262"/>
<rect x="747.6" y="255.0" width="26.9" height="3.0" fill="#707070"/>
<rect x="780.6" y="249.0" width="14.4" height="4.5" fill="#3c3c3c"/>
<rect x="780.6" y="253.5" width="14.4" height="6.5" fill="#626262"/>
<rect x="782.6" y="255.0" width="10.4" height="3.0" fill="#707070"/>
<rect x="873.0" y="249.0" width="43.4" height="4.5" fill="#3c3c3c"/>
<rect x="873.0" y="253.5" width="43.4" height="6.5" fill="#626262"/>
<rect x="875.0" y="255.0" width="39.4" height="3.0" fill="#707070"/>
<rect x="962.0" y="249.0" width="60.0" height="4.5" fill="#3c3c3c"/>
<rect x="962.0" y="253.5" width="60.0" height="6.5" fill="#626262"/>
<rect x="964.0" y="255.0" width="56.0" height="3.0" fill="#707070"/>
<rect x="1110.5" y="249.0" width="82.2" height="4.5" fill="#3c3c3c"/>
<rect x="1110.5" y="253.5" width="82.2" height="6.5" fill="#626262"/>
<rect x="1112.5" y="255.0" width="78.2" height="3.0" fill="#707070"/>
<rect x="1269.0" y="249.0" width="39.0" height="4.5" fill="#3c3c3c"/>
<rect x="1269.0" y="253.5" width="39.0" height="6.5" fill="#626262"/>
<rect x="1271.0" y="255.0" width="35.0" height="3.0" fill="#707070"/>
<rect x="1721.4" y="249.0" width="43.2" height="4.5" fill="#3c3c3c"/>
<rect x="1721.4" y="253.5" width="43.2" height="6.5" fill="#626262"/>
<rect x="1723.4" y="255.0" width="39.2" height="3.0" fill="#707070"/>
<rect x="162.8" y="252.0" width="1.4" height="9.0" fill="#a5a5a5"/>
<rect x="162.8" y="247.0" width="1.4" height="5.0" fill="#444444"/>
<rect x="219.9" y="252.0" width="1.4" height="9.0" fill="#a5a5a5"/>
<rect x="219.9" y="247.0" width="1.4" height="5.0" fill="#444444"/>
<rect x="277.0" y="252.0" width="1.4" height="9.0" fill="#a5a5a5"/>
<rect x="277.0" y="247.0" width="1.4" height="5.0" fill="#444444"/>
<rect x="334.1" y="252.0" width="1.4" height="9.0" fill="#a5a5a5"/>
<rect x="334.1" y="247.0" width="1.4" height="5.0" fill="#444444"/>
<rect x="391.2" y="252.0" width="1.4" height="9.0" fill="#a5a5a5"/>
<rect x="391.2" y="247.0" width="1.4" height="5.0" fill="#444444"/>
<rect x="448.3" y="252.0" width="1.4" height="9.0" fill="#a5a5a5"/>
<rect x="448.3" y="247.0" width="1.4" height="5.0" fill="#444444"/>
<rect x="505.4" y="252.0" width="1.4" height="9.0" fill="#a5a5a5"/>
<rect x="505.4" y="247.0" width="1.4" height="5.0" fill="#444444"/>
<rect x="562.5" y="252.0" width="1.4" height="9.0" fill="#a5a5a5"/>
<rect x="562.5" y="247.0" width="1.4" height="5.0" fill="#444444"/>
<rect x="619.6" y="252.0" width="1.4" height="9.0" fill="#a5a5a5"/>
<rect x="619.6" y="247.0" width="1.4" height="5.0" fill="#444444"/>
<rect x="676.7" y="252.0" width="1.4" height="9.0" fill="#a5a5a5"/>
<rect x="676.7" y="247.0" width="1.4" height="5.0" fill="#444444"/>
<rect x="733.8" y="252.0" width="1.4" height="9.0" fill="#a5a5a5"/>
<rect x="733.8" y="247.0" width="1.4" height="5.0" fill="#444444"/>
<rect x="790.9" y="252.0" width="1.4" height="9.0" fill="#a5a5a5"/>
<rect x="790.9" y="247.0" width="1.4" height="5.0" fill="#444444"/>
<rect x="848.0" y="252.0" width="1.4" height="9.0" fill="#a5a5a5"/>
<rect x="848.0" y="247.0" width="1.4" height="5.0" fill="#444444"/>
<rect x="905.1" y="252.0" width="1.4" height="9.0" fill="#a5a5a5"/>
<rect x="905.1" y="247.0" width="1.4" height="5.0" fill="#444444"/>
<rect x="962.2" y="252.0" width="1.4" height="9.0" fill="#a5a5a5"/>
<rect x="962.2" y="247.0" width="1.4" height="5.0" fill="#444444"/>
<rect x="1019.3" y="252.0" width="1.4" height="9.0" fill="#a5a5a5"/>
<rect x="1019.3" y="247.0" width="1.4" height="5.0" fill="#444444"/>
<rect x="1076.4" y="252.0" width="1.4" height="9.0" fill="#a5a5a5"/>
<rect x="1076.4" y="247.0" width="1.4" height="5.0" fill="#444444"/>
<rect x="1133.5" y="252.0" width="1.4" height="9.0" fill="#a5a5a5"/>
<rect x="1133.5" y="247.0" width="1.4" height="5.0" fill="#444444"/>
<rect x="1190.6" y="252.0" width="1.4" height="9.0" fill="#a5a5a5"/>
<rect x="1190.6" y="247.0" width="1.4" height="5.0" fill="#444444"/>
<rect x="1247.7" y="252.0" width="1.4" height="9.0" fill="#a5a5a5"/>
<rect x="1247.7" y="247.0" width="1.4" height="5.0" fill="#444444"/>
<rect x="1304.8" y="252.0" width="1.4" height="9.0" fill="#a5a5a5"/>
<rect x="1304.8" y="247.0" width="1.4" height="5.0" fill="#444444"/>
<rect x="1361.9" y="252.0" width="1.4" height="9.0" fill="#a5a5a5"/>
<rect x="1361.9" y="247.0" width="1.4" height="5.0" fill="#444444"/>
<rect x="1419.0" y="252.0" width="1.4" height="9.0" fill="#a5a5a5"/>
<rect x="1419.0" y="247.0" width="1.4" height="5.0" fill="#444444"/>
<rect x="1476.1" y="252.0" width="1.4" height="9.0" fill="#a5a5a5"/>
<rect x="1476.1" y="247.0" width="1.4" height="5.0" fill="#444444"/>
<rect x="1533.2" y="252.0" width="1.4" height="9.0" fill="#a5a5a5"/>
<rect x="1533.2" y="247.0" width="1.4" height="5.0" fill="#444444"/>
<rect x="1590.3" y="252.0" width="1.4" height="9.0" fill="#a5a5a5"/>
<rect x="1590.3" y="247.0" width="1.4" height="5.0" fill="#444444"/>
<rect x="1647.4" y="252.0" width="1.4" height="9.0" fill="#a5a5a5"/>
<rect x="1647.4" y="247.0" width="1.4" height="5.0" fill="#444444"/>
<rect x="1704.5" y="252.0" width="1.4" height="9.0" fill="#a5a5a5"/>
<rect x="1704.5" y="247.0" width="1.4" height="5.0" fill="#444444"/>
<rect x="1761.6" y="252.0" width="1.4" height="9.0" fill="#a5a5a5"/>
<rect x="1761.6" y="247.0" width="1.4" height="5.0" fill="#444444"/>
<rect x="195.9" y="250.0" width="1.2" height="14.0" fill="#525252"/>
<rect x="209.7" y="250.0" width="1.2" height="14.0" fill="#525252"/>
<rect x="232.9" y="250.0" width="1.2" height="14.0" fill="#525252"/>
<rect x="265.6" y="250.0" width="1.2" height="14.0" fill="#525252"/>
<rect x="322.9" y="250.0" width="1.2" height="14.0" fill="#525252"/>
<rect x="344.7" y="250.0" width="1.2" height="14.0" fill="#525252"/>
<rect x="379.6" y="250.0" width="1.2" height="14.0" fill="#525252"/>
<rect x="419.4" y="251.0" width="1.2" height="12.0" fill="#4b4b4b"/>
<rect x="453.7" y="251.0" width="1.2" height="12.0" fill="#4b4b4b"/>
<rect x="488.0" y="251.0" width="1.2" height="12.0" fill="#4b4b4b"/>
<rect x="522.3" y="251.0" width="1.2" height="12.0" fill="#4b4b4b"/>
<rect x="556.6" y="251.0" width="1.2" height="12.0" fill="#4b4b4b"/>
<rect x="590.9" y="251.0" width="1.2" height="12.0" fill="#4b4b4b"/>
<rect x="625.2" y="251.0" width="1.2" height="12.0" fill="#4b4b4b"/>
<rect x="659.5" y="251.0" width="1.2" height="12.0" fill="#4b4b4b"/>
<rect x="693.8" y="251.0" width="1.2" height="12.0" fill="#4b4b4b"/>
<rect x="728.1" y="251.0" width="1.2" height="12.0" fill="#4b4b4b"/>
<rect x="762.4" y="251.0" width="1.2" height="12.0" fill="#4b4b4b"/>
<rect x="796.7" y="251.0" width="1.2" height="12.0" fill="#4b4b4b"/>
<rect x="831.0" y="251.0" width="1.2" height="12.0" fill="#4b4b4b"/>
<rect x="865.3" y="251.0" width="1.2" height="12.0" fill="#4b4b4b"/>
<rect x="899.6" y="251.0" width="1.2" height="12.0" fill="#4b4b4b"/>
<rect x="933.9" y="251.0" width="1.2" height="12.0" fill="#4b4b4b"/>
<rect x="968.2" y="251.0" width="1.2" height="12.0" fill="#4b4b4b"/>
<rect x="1002.5" y="251.0" width="1.2" height="12.0" fill="#4b4b4b"/>
<rect x="1036.8" y="251.0" width="1.2" height="12.0" fill="#4b4b4b"/>
<rect x="1071.1" y="251.0" width="1.2" height="12.0" fill="#4b4b4b"/>
<rect x="1105.4" y="251.0" width="1.2" height="12.0" fill="#4b4b4b"/>
<rect x="1139.7" y="251.0" width="1.2" height="12.0" fill="#4b4b4b"/>
<rect x="1174.0" y="251.0" width="1.2" height="12.0" fill="#4b4b4b"/>
<rect x="1208.3" y="251.0" width="1.2" height="12.0" fill="#4b4b4b"/>
<rect x="1242.6" y="251.0" width="1.2" height="12.0" fill="#4b4b4b"/>
<rect x="1276.9" y="251.0" width="1.2" height="12.0" fill="#4b4b4b"/>
<rect x="1311.2" y="251.0" width="1.2" height="12.0" fill="#4b4b4b"/>
<rect x="1345.5" y="251.0" width="1.2" height="12.0" fill="#4b4b4b"/>
<rect x="1379.8" y="251.0" width="1.2" height="12.0" fill="#4b4b4b"/>
<rect x="1414.1" y="251.0" width="1.2" height="12.0" fill="#4b4b4b"/>
<rect x="1448.4" y="251.0" width="1.2" height="12.0" fill="#4b4b4b"/>
<rect x="1482.7" y="251.0" width="1.2" height="12.0" fill="#4b4b4b"/>
<rect x="1517.0" y="251.0" width="1.2" height="12.0" fill="#4b4b4b"/>
<rect x="1551.3" y="251.0" width="1.2" height="12.0" fill="#4b4b4b"/>
<rect x="1585.6" y="251.0" width="1.2" height="12.0" fill="#4b4b4b"/>
<rect x="1619.9" y="251.0" width="1.2" height="12.0" fill="#4b4b4b"/>
<rect x="1654.2" y="251.0" width="1.2" height="12.0" fill="#4b4b4b"/>
<rect x="1688.5" y="251.0" width="1.2" height="12.0" fill="#4b4b4b"/>
<rect x="1722.8" y="251.0" width="1.2" height="12.0" fill="#4b4b4b"/>
<rect x="1757.1" y="251.0" width="1.2" height="12.0" fill="#4b4b4b"/>
<rect x="111.0" y="308.0" width="1694.0" height="15.0" fill="#343434"/>
<rect x="111.0" y="311.0" width="1694.0" height="9.0" fill="#626262"/>
<rect x="111.0" y="313.5" width="1694.0" height="4.0" fill="#a5a5a5"/>
<rect x="234.8" y="313.5" width="8.2" height="4.0" fill="#d2d2d2"/>
<rect x="271.4" y="313.5" width="8.2" height="4.0" fill="#d2d2d2"/>
<rect x="312.0" y="313.5" width="12.3" height="4.0" fill="#d2d2d2"/>
<rect x="391.4" y="313.5" width="8.1" height="4.0" fill="#d2d2d2"/>
<rect x="615.0" y="313.5" width="8.0" height="4.0" fill="#d2d2d2"/>
<rect x="802.0" y="313.5" width="8.0" height="4.0" fill="#d2d2d2"/>
<rect x="821.6" y="313.5" width="13.2" height="4.0" fill="#d2d2d2"/>
<rect x="727.0" y="313.5" width="9.0" height="4.0" fill="#d2d2d2"/>
<rect x="859.0" y="313.5" width="8.0" height="4.0" fill="#d2d2d2"/>
<rect x="1700.0" y="313.5" width="10.0" height="4.0" fill="#d2d2d2"/>
<rect x="1745.0" y="313.5" width="10.0" height="4.0" fill="#d2d2d2"/>
<rect x="1663.0" y="313.5" width="7.0" height="4.0" fill="#d2d2d2"/>
<rect x="1545.0" y="313.5" width="7.0" height="4.0" fill="#d2d2d2"/>
<rect x="1387.0" y="313.5" width="13.0" height="4.0" fill="#d2d2d2"/>
<rect x="1405.0" y="313.5" width="9.0" height="4.0" fill="#d2d2d2"/>
<rect x="1426.0" y="313.5" width="9.0" height="4.0" fill="#d2d2d2"/>
<rect x="1590.0" y="313.5" width="3.0" height="4.0" fill="#d2d2d2"/>
<rect x="1617.0" y="313.5" width="3.0" height="4.0" fill="#d2d2d2"/>
<rect x="1725.0" y="313.5" width="15.0" height="4.0" fill="#d2d2d2"/>
<rect x="1003.0" y="313.5" width="6.0" height="4.0" fill="#d2d2d2"/>
<rect x="1070.0" y="313.5" width="8.0" height="4.0" fill="#d2d2d2"/>
<rect x="1142.0" y="313.5" width="8.0" height="4.0" fill="#d2d2d2"/>
<rect x="1200.0" y="313.5" width="4.0" height="4.0" fill="#d2d2d2"/>
<rect x="1290.0" y="313.5" width="10.0" height="4.0" fill="#d2d2d2"/>
<rect x="123.0" y="308.0" width="10.2" height="15.0" fill="#000000"/>
<rect x="145.4" y="308.0" width="9.1" height="15.0" fill="#000000"/>
<rect x="166.7" y="308.0" width="6.1" height="15.0" fill="#000000"/>
<rect x="185.0" y="308.0" width="6.1" height="15.0" fill="#000000"/>
<rect x="207.4" y="308.0" width="3.0" height="15.0" fill="#000000"/>
<rect x="217.6" y="308.0" width="15.2" height="15.0" fill="#000000"/>
<rect x="243.0" y="308.0" width="7.1" height="15.0" fill="#000000"/>
<rect x="268.4" y="308.0" width="2.0" height="15.0" fill="#000000"/>
<rect x="286.7" y="308.0" width="2.0" height="15.0" fill="#000000"/>
<rect x="302.0" y="308.0" width="6.0" height="15.0" fill="#000000"/>
<rect x="326.3" y="308.0" width="4.1" height="15.0" fill="#000000"/>
<rect x="339.5" y="308.0" width="9.2" height="15.0" fill="#000000"/>
<rect x="354.8" y="308.0" width="17.3" height="15.0" fill="#000000"/>
<rect x="381.2" y="308.0" width="10.2" height="15.0" fill="#000000"/>
<rect x="405.6" y="308.0" width="4.1" height="15.0" fill="#000000"/>
<rect x="418.8" y="308.0" width="9.2" height="15.0" fill="#000000"/>
<rect x="455.4" y="308.0" width="29.5" height="15.0" fill="#000000"/>
<rect x="488.0" y="308.0" width="5.0" height="15.0" fill="#000000"/>
<rect x="499.0" y="308.0" width="4.2" height="15.0" fill="#000000"/>
<rect x="527.6" y="308.0" width="7.1" height="15.0" fill="#000000"/>
<rect x="542.0" y="308.0" width="12.3" height="15.0" fill="#000000"/>
<rect x="571.5" y="308.0" width="3.1" height="15.0" fill="#000000"/>
<rect x="578.7" y="308.0" width="13.2" height="15.0" fill="#000000"/>
<rect x="598.0" y="308.0" width="17.3" height="15.0" fill="#000000"/>
<rect x="623.4" y="308.0" width="10.1" height="15.0" fill="#000000"/>
<rect x="642.7" y="308.0" width="10.2" height="15.0" fill="#000000"/>
<rect x="661.0" y="308.0" width="28.5" height="15.0" fill="#000000"/>
<rect x="695.6" y="308.0" width="12.1" height="15.0" fill="#000000"/>
<rect x="711.8" y="308.0" width="14.2" height="15.0" fill="#000000"/>
<rect x="737.2" y="308.0" width="7.1" height="15.0" fill="#000000"/>
<rect x="752.5" y="308.0" width="11.2" height="15.0" fill="#000000"/>
<rect x="769.8" y="308.0" width="12.2" height="15.0" fill="#000000"/>
<rect x="791.0" y="308.0" width="9.2" height="15.0" fill="#000000"/>
<rect x="811.4" y="308.0" width="8.2" height="15.0" fill="#000000"/>
<rect x="835.8" y="308.0" width="2.1" height="15.0" fill="#000000"/>
<rect x="847.0" y="308.0" width="10.2" height="15.0" fill="#000000"/>
<rect x="868.4" y="308.0" width="7.1" height="15.0" fill="#000000"/>
<rect x="884.6" y="308.0" width="28.4" height="15.0" fill="#000000"/>
<rect x="917.1" y="308.0" width="2.1" height="15.0" fill="#000000"/>
<rect x="926.3" y="308.0" width="5.1" height="15.0" fill="#000000"/>
<rect x="942.6" y="308.0" width="7.1" height="15.0" fill="#000000"/>
<rect x="968.2" y="308.0" width="1.0" height="15.0" fill="#000000"/>
<rect x="979.4" y="308.0" width="8.1" height="15.0" fill="#000000"/>
<rect x="995.7" y="308.0" width="10.1" height="15.0" fill="#000000"/>
<rect x="1011.9" y="308.0" width="12.2" height="15.0" fill="#000000"/>
<rect x="1028.2" y="308.0" width="22.3" height="15.0" fill="#000000"/>
<rect x="1055.6" y="308.0" width="6.1" height="15.0" fill="#000000"/>
<rect x="1078.0" y="308.0" width="3.0" height="15.0" fill="#000000"/>
<rect x="1085.0" y="308.0" width="3.0" height="15.0" fill="#000000"/>
<rect x="1094.3" y="308.0" width="5.0" height="15.0" fill="#000000"/>
<rect x="1117.6" y="308.0" width="4.1" height="15.0" fill="#000000"/>
<rect x="1129.8" y="308.0" width="14.2" height="15.0" fill="#000000"/>
<rect x="1151.2" y="308.0" width="11.2" height="15.0" fill="#000000"/>
<rect x="1173.5" y="308.0" width="7.2" height="15.0" fill="#000000"/>
<rect x="1190.8" y="308.0" width="7.2" height="15.0" fill="#000000"/>
<rect x="1205.0" y="308.0" width="14.3" height="15.0" fill="#000000"/>
<rect x="1227.4" y="308.0" width="12.2" height="15.0" fill="#000000"/>
<rect x="1243.7" y="308.0" width="14.2" height="15.0" fill="#000000"/>
<rect x="1267.0" y="308.0" width="7.2" height="15.0" fill="#000000"/>
<rect x="1280.3" y="308.0" width="10.1" height="15.0" fill="#000000"/>
<rect x="1300.6" y="308.0" width="10.2" height="15.0" fill="#000000"/>
<rect x="1318.9" y="308.0" width="10.1" height="15.0" fill="#000000"/>
<rect x="1345.3" y="308.0" width="3.1" height="15.0" fill="#000000"/>
<rect x="1358.5" y="308.0" width="8.2" height="15.0" fill="#000000"/>
<rect x="1375.0" y="308.0" width="11.2" height="15.0" fill="#000000"/>
<rect x="1400.4" y="308.0" width="4.1" height="15.0" fill="#000000"/>
<rect x="1414.6" y="308.0" width="11.2" height="15.0" fill="#000000"/>
<rect x="1435.0" y="308.0" width="10.1" height="15.0" fill="#000000"/>
<rect x="1460.4" y="308.0" width="3.0" height="15.0" fill="#000000"/>
<rect x="1473.6" y="308.0" width="8.1" height="15.0" fill="#000000"/>
<rect x="1498.0" y="308.0" width="6.1" height="15.0" fill="#000000"/>
<rect x="1511.2" y="308.0" width="12.2" height="15.0" fill="#000000"/>
<rect x="1531.5" y="308.0" width="11.2" height="15.0" fill="#000000"/>
<rect x="1548.8" y="308.0" width="16.3" height="15.0" fill="#000000"/>
<rect x="1591.5" y="308.0" width="7.1" height="15.0" fill="#000000"/>
<rect x="1621.0" y="308.0" width="4.0" height="15.0" fill="#000000"/>
<rect x="1632.2" y="308.0" width="3.0" height="15.0" fill="#000000"/>
<rect x="1647.4" y="308.0" width="7.1" height="15.0" fill="#000000"/>
<rect x="1660.6" y="308.0" width="5.1" height="15.0" fill="#000000"/>
<rect x="1669.8" y="308.0" width="16.2" height="15.0" fill="#000000"/>
<rect x="1701.3" y="308.0" width="4.1" height="15.0" fill="#000000"/>
<rect x="1712.5" y="308.0" width="10.1" height="15.0" fill="#000000"/>
<rect x="1741.0" y="308.0" width="4.0" height="15.0" fill="#000000"/>
<rect x="1755.2" y="308.0" width="9.1" height="15.0" fill="#000000"/>
<rect x="1775.5" y="308.0" width="12.2" height="15.0" fill="#000000"/>
<rect x="155.6" y="293.0" width="5.0" height="7.0" fill="#a5a5a5"/>
<rect x="155.6" y="289.0" width="5.0" height="4.0" fill="#444444"/>
<rect x="196.0" y="293.0" width="4.0" height="7.0" fill="#969696"/>
<rect x="196.0" y="289.0" width="4.0" height="4.0" fill="#444444"/>
<rect x="205.4" y="293.0" width="8.1" height="7.0" fill="#a5a5a5"/>
<rect x="205.4" y="289.0" width="8.1" height="4.0" fill="#444444"/>
<rect x="216.0" y="293.0" width="2.6" height="7.0" fill="#878787"/>
<rect x="216.0" y="289.0" width="2.6" height="4.0" fill="#444444"/>
<rect x="849.0" y="293.0" width="2.0" height="7.0" fill="#b4b4b4"/>
<rect x="849.0" y="289.0" width="2.0" height="4.0" fill="#444444"/>
<rect x="853.0" y="293.0" width="2.0" height="7.0" fill="#d2d2d2"/>
<rect x="853.0" y="289.0" width="2.0" height="4.0" fill="#444444"/>
<rect x="858.0" y="293.0" width="3.0" height="7.0" fill="#b4b4b4"/>
<rect x="858.0" y="289.0" width="3.0" height="4.0" fill="#444444"/>
<rect x="1678.0" y="293.0" width="4.0" height="7.0" fill="#696969"/>
<rect x="1678.0" y="289.0" width="4.0" height="4.0" fill="#444444"/>
<rect x="1688.0" y="293.0" width="12.0" height="7.0" fill="#696969"/>
<rect x="1688.0" y="289.0" width="12.0" height="4.0" fill="#444444"/>
<rect x="1712.0" y="293.0" width="2.0" height="7.0" fill="#696969"/>
<rect x="1712.0" y="289.0" width="2.0" height="4.0" fill="#444444"/>
<rect x="1724.0" y="293.0" width="2.0" height="7.0" fill="#787878"/>
<rect x="1724.0" y="289.0" width="2.0" height="4.0" fill="#444444"/>
<rect x="1736.0" y="293.0" width="2.0" height="7.0" fill="#787878"/>
<rect x="1736.0" y="289.0" width="2.0" height="4.0" fill="#444444"/>
<rect x="1747.0" y="293.0" width="1.5" height="7.0" fill="#696969"/>
<rect x="1747.0" y="289.0" width="1.5" height="4.0" fill="#444444"/>
<rect x="111.0" y="327.0" width="1694.0" height="9.0" fill="#2d2d2d"/>
<rect x="111.0" y="329.5" width="1694.0" height="3.5" fill="#424242"/>
<rect x="111.0" y="325.0" width="484.9" height="14.0" fill="#525252"/>
<rect x="111.0" y="327.0" width="484.9" height="8.0" fill="#787878"/>
<rect x="111.0" y="329.0" width="484.9" height="4.0" fill="#acacac"/>
<rect x="815.5" y="325.0" width="36.5" height="14.0" fill="#525252"/>
<rect x="815.5" y="327.0" width="36.5" height="8.0" fill="#787878"/>
<rect x="815.5" y="329.0" width="36.5" height="4.0" fill="#acacac"/>
<rect x="1254.9" y="325.0" width="35.5" height="14.0" fill="#525252"/>
<rect x="1254.9" y="327.0" width="35.5" height="8.0" fill="#787878"/>
<rect x="1254.9" y="329.0" width="35.5" height="4.0" fill="#acacac"/>
<rect x="1674.9" y="325.0" width="54.9" height="14.0" fill="#525252"/>
<rect x="1674.9" y="327.0" width="54.9" height="8.0" fill="#787878"/>
<rect x="1674.9" y="329.0" width="54.9" height="4.0" fill="#acacac"/>
<rect x="1741.0" y="325.0" width="36.5" height="14.0" fill="#525252"/>
<rect x="1741.0" y="327.0" width="36.5" height="8.0" fill="#787878"/>
<rect x="1741.0" y="329.0" width="36.5" height="4.0" fill="#acacac"/>
<rect x="621.0" y="323.6" width="1.5" height="15.4" fill="#000000"/>
<rect x="669.5" y="323.6" width="1.5" height="15.4" fill="#000000"/>
<rect x="1062.7" y="323.6" width="17.3" height="15.4" fill="#000000"/>
<rect x="1098.3" y="323.6" width="93.5" height="15.4" fill="#000000"/>
<rect x="1210.1" y="323.6" width="44.8" height="15.4" fill="#000000"/>
<rect x="1290.4" y="323.6" width="13.2" height="15.4" fill="#000000"/>
<rect x="1322.0" y="323.6" width="93.7" height="15.4" fill="#000000"/>
<rect x="1433.0" y="323.6" width="94.5" height="15.4" fill="#000000"/>
<rect x="1544.7" y="323.6" width="94.6" height="15.4" fill="#000000"/>
<rect x="1666.7" y="323.6" width="8.2" height="15.4" fill="#000000"/>
<rect x="1729.8" y="323.6" width="11.2" height="15.4" fill="#000000"/>
<rect x="1777.5" y="323.6" width="27.5" height="15.4" fill="#000000"/>
<rect x="146.2" y="337.0" width="1.6" height="10.0" fill="#969696"/>
<rect x="183.2" y="337.0" width="1.6" height="10.0" fill="#969696"/>
<rect x="239.7" y="337.0" width="1.6" height="10.0" fill="#969696"/>
<rect x="259.0" y="337.0" width="1.6" height="10.0" fill="#969696"/>
<rect x="356.0" y="337.0" width="1.6" height="10.0" fill="#969696"/>
<rect x="449.2" y="337.0" width="1.6" height="10.0" fill="#969696"/>
<rect x="462.3" y="337.0" width="1.6" height="10.0" fill="#969696"/>
<rect x="473.9" y="337.0" width="1.6" height="10.0" fill="#969696"/>
<rect x="493.9" y="337.0" width="1.6" height="10.0" fill="#969696"/>
<rect x="547.4" y="337.0" width="1.6" height="10.0" fill="#969696"/>
<rect x="558.5" y="337.0" width="1.6" height="10.0" fill="#969696"/>
<rect x="567.7" y="337.0" width="1.6" height="10.0" fill="#969696"/>
<rect x="596.2" y="337.0" width="1.6" height="10.0" fill="#969696"/>
<rect x="608.4" y="337.0" width="1.6" height="10.0" fill="#969696"/>
<rect x="701.9" y="337.0" width="1.6" height="10.0" fill="#969696"/>
<rect x="726.2" y="337.0" width="1.6" height="10.0" fill="#969696"/>
<rect x="853.3" y="337.0" width="1.6" height="10.0" fill="#969696"/>
<rect x="884.8" y="337.0" width="1.6" height="10.0" fill="#969696"/>
<rect x="914.3" y="337.0" width="1.6" height="10.0" fill="#969696"/>
<rect x="920.4" y="337.0" width="1.6" height="10.0" fill="#969696"/>
<rect x="980.2" y="337.0" width="1.6" height="10.0" fill="#969696"/>
<rect x="1016.8" y="337.0" width="1.6" height="10.0" fill="#969696"/>
<rect x="1052.4" y="337.0" width="1.6" height="10.0" fill="#969696"/>
<rect x="1082.7" y="337.0" width="1.6" height="10.0" fill="#969696"/>
<rect x="1107.7" y="337.0" width="1.6" height="10.0" fill="#969696"/>
<rect x="1115.8" y="337.0" width="1.6" height="10.0" fill="#969696"/>
<rect x="1125.6" y="337.0" width="1.6" height="10.0" fill="#969696"/>
<rect x="1231.1" y="337.0" width="1.6" height="10.0" fill="#969696"/>
<rect x="1245.3" y="337.0" width="1.6" height="10.0" fill="#969696"/>
<rect x="1260.2" y="337.0" width="1.6" height="10.0" fill="#969696"/>
<rect x="1269.9" y="337.0" width="1.6" height="10.0" fill="#969696"/>
<rect x="1284.6" y="337.0" width="1.6" height="10.0" fill="#969696"/>
<rect x="1297.8" y="337.0" width="1.6" height="10.0" fill="#969696"/>
<rect x="1315.0" y="337.0" width="1.6" height="10.0" fill="#969696"/>
<rect x="1356.3" y="337.0" width="1.6" height="10.0" fill="#969696"/>
<rect x="1472.4" y="337.0" width="1.6" height="10.0" fill="#969696"/>
<rect x="1528.3" y="337.0" width="1.6" height="10.0" fill="#969696"/>
<rect x="1537.9" y="337.0" width="1.6" height="10.0" fill="#969696"/>
<rect x="1583.6" y="337.0" width="1.6" height="10.0" fill="#969696"/>
<rect x="1610.0" y="337.0" width="1.6" height="10.0" fill="#969696"/>
<rect x="1640.9" y="337.0" width="1.6" height="10.0" fill="#969696"/>
<rect x="1664.9" y="337.0" width="1.6" height="10.0" fill="#969696"/>
<rect x="1673.0" y="337.0" width="1.6" height="10.0" fill="#969696"/>
<rect x="1683.2" y="337.0" width="1.6" height="10.0" fill="#969696"/>
<rect x="111.0" y="400.0" width="1694.0" height="12.0" fill="#000" fill-opacity="0.615"/>
<rect x="111.0" y="412.0" width="1694.0" height="12.0" fill="#000" fill-opacity="0.808"/>
<rect x="111.0" y="424.0" width="1694.0" height="46.0" fill="#000000"/>
<rect x="111.0" y="483.0" width="1694.0" height="8.0" fill="#000" fill-opacity="0.519"/>
<rect x="111.0" y="470.0" width="1694.0" height="115.5" fill="#000" fill-opacity="0.135"/>
<rect x="111.0" y="501.4" width="1694.0" height="12.2" fill="#000000"/>
<rect x="111.0" y="520.0" width="1694.0" height="4.0" fill="#000" fill-opacity="0.423"/>
<rect x="111.0" y="530.0" width="1694.0" height="8.0" fill="#000" fill-opacity="0.904"/>
<rect x="111.0" y="560.0" width="1694.0" height="6.0" fill="#000" fill-opacity="0.423"/>
<rect x="111.0" y="585.5" width="1694.0" height="6.1" fill="#000000"/>
<rect x="663.4" y="417.6" width="1.0" height="6.4" fill="#787878"/>
<rect x="1495.2" y="418.2" width="1.0" height="5.8" fill="#696969"/>
<rect x="970.4" y="418.7" width="1.3" height="5.3" fill="#5a5a5a"/>
<rect x="524.4" y="414.0" width="1.7" height="10.0" fill="#444444"/>
<rect x="329.0" y="417.0" width="1.5" height="7.0" fill="#787878"/>
<rect x="225.4" y="413.7" width="1.8" height="10.3" fill="#444444"/>
<rect x="199.9" y="411.3" width="1.3" height="12.7" fill="#525252"/>
<rect x="1026.0" y="413.9" width="1.7" height="10.1" fill="#696969"/>
<rect x="424.2" y="413.8" width="1.2" height="10.2" fill="#787878"/>
<rect x="284.9" y="412.6" width="1.0" height="11.4" fill="#696969"/>
<rect x="466.4" y="412.9" width="1.6" height="11.1" fill="#5a5a5a"/>
<rect x="900.5" y="410.7" width="1.2" height="13.3" fill="#525252"/>
<rect x="1450.2" y="412.7" width="1.1" height="11.3" fill="#4b4b4b"/>
<rect x="624.0" y="414.5" width="1.6" height="9.5" fill="#525252"/>
<rect x="603.4" y="410.2" width="1.4" height="13.8" fill="#444444"/>
<rect x="397.8" y="415.9" width="1.3" height="8.1" fill="#5a5a5a"/>
<rect x="1730.5" y="418.3" width="1.5" height="5.7" fill="#696969"/>
<rect x="1585.8" y="416.2" width="1.3" height="7.8" fill="#787878"/>
<rect x="952.4" y="411.8" width="1.7" height="12.2" fill="#444444"/>
<rect x="1701.5" y="414.7" width="1.1" height="9.3" fill="#787878"/>
<rect x="1344.5" y="416.2" width="1.8" height="7.8" fill="#696969"/>
<rect x="1496.3" y="416.4" width="1.7" height="7.6" fill="#5a5a5a"/>
<rect x="702.2" y="410.5" width="1.1" height="13.5" fill="#525252"/>
<rect x="317.8" y="418.5" width="1.2" height="5.5" fill="#969696"/>
<rect x="1356.5" y="415.4" width="1.4" height="8.6" fill="#969696"/>
<rect x="400.2" y="415.4" width="1.7" height="8.6" fill="#525252"/>
<rect x="1491.8" y="411.2" width="1.6" height="12.8" fill="#525252"/>
<rect x="1771.4" y="412.9" width="1.8" height="11.1" fill="#5a5a5a"/>
<rect x="374.3" y="417.4" width="1.5" height="6.6" fill="#4b4b4b"/>
<rect x="142.2" y="411.5" width="1.2" height="12.5" fill="#4b4b4b"/>
<rect x="128.8" y="415.2" width="1.5" height="8.8" fill="#525252"/>
<rect x="654.7" y="417.9" width="1.4" height="6.1" fill="#969696"/>
<rect x="1154.6" y="412.9" width="1.4" height="11.1" fill="#444444"/>
<rect x="1578.3" y="410.4" width="1.6" height="13.6" fill="#787878"/>
<rect x="778.1" y="415.4" width="1.4" height="8.6" fill="#444444"/>
<rect x="791.5" y="417.3" width="1.4" height="6.7" fill="#4b4b4b"/>
<rect x="305.8" y="413.6" width="1.0" height="10.4" fill="#444444"/>
<rect x="374.9" y="418.1" width="1.5" height="5.9" fill="#525252"/>
<rect x="239.6" y="417.1" width="1.1" height="6.9" fill="#5a5a5a"/>
<rect x="543.8" y="415.9" width="1.4" height="8.1" fill="#525252"/>
<rect x="314.9" y="414.6" width="1.4" height="9.4" fill="#5a5a5a"/>
<rect x="643.4" y="417.7" width="1.3" height="6.3" fill="#787878"/>
<rect x="564.7" y="411.5" width="1.4" height="12.5" fill="#4b4b4b"/>
<rect x="465.1" y="410.4" width="1.1" height="13.6" fill="#525252"/>
<rect x="1030.2" y="418.8" width="1.2" height="5.2" fill="#696969"/>
<rect x="1197.0" y="418.2" width="1.2" height="5.8" fill="#969696"/>
<rect x="735.1" y="417.5" width="1.2" height="6.5" fill="#969696"/>
<rect x="1027.5" y="414.5" width="1.2" height="9.5" fill="#787878"/>
<rect x="1478.8" y="410.1" width="1.2" height="13.9" fill="#969696"/>
<rect x="522.3" y="415.4" width="1.2" height="8.6" fill="#969696"/>
<rect x="987.5" y="415.8" width="1.8" height="8.2" fill="#444444"/>
<rect x="1443.1" y="414.7" width="1.6" height="9.3" fill="#4b4b4b"/>
<rect x="1721.3" y="415.0" width="1.8" height="9.0" fill="#787878"/>
<rect x="1718.8" y="415.7" width="1.1" height="8.3" fill="#4b4b4b"/>
<rect x="908.0" y="416.0" width="1.5" height="8.0" fill="#5a5a5a"/>
<rect x="1627.3" y="411.4" width="1.7" height="12.6" fill="#5a5a5a"/>
<rect x="697.2" y="413.2" width="1.5" height="10.8" fill="#969696"/>
<rect x="1643.1" y="412.0" width="1.2" height="12.0" fill="#969696"/>
<rect x="1608.4" y="415.1" width="1.3" height="8.9" fill="#787878"/>
<rect x="1461.0" y="410.3" width="1.4" height="13.7" fill="#5a5a5a"/>
<rect x="1364.9" y="418.2" width="1.1" height="5.8" fill="#4b4b4b"/>
<rect x="334.4" y="417.6" width="1.6" height="6.4" fill="#5a5a5a"/>
<rect x="366.4" y="411.6" width="1.5" height="12.4" fill="#5a5a5a"/>
<rect x="707.9" y="414.1" width="1.0" height="9.9" fill="#4b4b4b"/>
<rect x="1458.5" y="412.5" width="1.4" height="11.5" fill="#444444"/>
<rect x="1683.0" y="415.1" width="1.2" height="8.9" fill="#969696"/>
<rect x="1583.2" y="418.7" width="1.2" height="5.3" fill="#4b4b4b"/>
<rect x="524.2" y="413.7" width="1.4" height="10.3" fill="#525252"/>
<rect x="1516.8" y="418.5" width="1.3" height="5.5" fill="#787878"/>
<rect x="888.0" y="413.7" width="1.3" height="10.3" fill="#696969"/>
<rect x="1656.4" y="414.5" width="1.1" height="9.5" fill="#696969"/>
<rect x="975.6" y="411.1" width="1.1" height="12.9" fill="#969696"/>
<rect x="128.6" y="411.8" width="1.1" height="12.2" fill="#4b4b4b"/>
<rect x="1157.1" y="417.9" width="1.3" height="6.1" fill="#444444"/>
<rect x="988.7" y="414.0" width="1.6" height="10.0" fill="#969696"/>
<rect x="1598.8" y="418.5" width="1.2" height="5.5" fill="#4b4b4b"/>
<rect x="1413.2" y="414.4" width="1.0" height="9.6" fill="#696969"/>
<rect x="1616.8" y="418.4" width="1.5" height="5.6" fill="#525252"/>
<rect x="967.3" y="414.4" width="1.2" height="9.6" fill="#787878"/>
<rect x="971.6" y="411.7" width="1.8" height="12.3" fill="#696969"/>
<rect x="1291.1" y="411.1" width="1.7" height="12.9" fill="#525252"/>
<rect x="1614.7" y="417.2" width="1.1" height="6.8" fill="#5a5a5a"/>
<rect x="325.4" y="415.0" width="1.5" height="9.0" fill="#444444"/>
<rect x="838.2" y="417.1" width="1.6" height="6.9" fill="#525252"/>
<rect x="1621.8" y="417.6" width="1.5" height="6.4" fill="#787878"/>
<rect x="734.3" y="416.7" width="1.8" height="7.3" fill="#4b4b4b"/>
<rect x="489.2" y="410.4" width="1.7" height="13.6" fill="#5a5a5a"/>
<rect x="394.2" y="413.0" width="1.1" height="11.0" fill="#4b4b4b"/>
<rect x="843.5" y="414.4" width="1.3" height="9.6" fill="#525252"/>
<rect x="718.3" y="418.2" width="1.0" height="5.8" fill="#525252"/>
<rect x="1048.4" y="415.0" width="1.3" height="9.0" fill="#444444"/>
<rect x="987.1" y="416.3" width="1.1" height="7.7" fill="#444444"/>
<rect x="1657.8" y="416.9" width="1.1" height="7.1" fill="#444444"/>
<rect x="576.7" y="410.8" width="1.2" height="13.2" fill="#4b4b4b"/>
<rect x="338.6" y="415.2" width="1.7" height="8.8" fill="#787878"/>
<rect x="554.4" y="417.7" width="1.5" height="6.3" fill="#696969"/>
<rect x="1293.1" y="418.2" width="1.6" height="5.8" fill="#444444"/>
<rect x="428.6" y="410.9" width="1.8" height="13.1" fill="#525252"/>
<rect x="1182.8" y="411.8" width="1.5" height="12.2" fill="#444444"/>
<rect x="493.9" y="416.6" width="1.4" height="7.4" fill="#444444"/>
<rect x="689.1" y="414.0" width="1.5" height="10.0" fill="#525252"/>
<rect x="194.2" y="412.6" width="1.8" height="11.4" fill="#444444"/>
<rect x="559.9" y="417.4" width="1.5" height="6.6" fill="#525252"/>
<rect x="1010.0" y="417.1" width="1.4" height="6.9" fill="#5a5a5a"/>
<rect x="419.4" y="415.9" width="1.8" height="8.1" fill="#444444"/>
<rect x="183.8" y="418.8" width="1.4" height="5.2" fill="#696969"/>
<rect x="438.8" y="414.7" width="1.1" height="9.3" fill="#5a5a5a"/>
<rect x="1491.2" y="415.1" width="1.4" height="8.9" fill="#5a5a5a"/>
<rect x="1607.9" y="410.3" width="1.6" height="13.7" fill="#525252"/>
<rect x="1764.6" y="415.9" width="1.7" height="8.1" fill="#969696"/>
<rect x="1340.6" y="417.7" width="1.8" height="6.3" fill="#525252"/>
<rect x="1521.4" y="418.9" width="1.6" height="5.1" fill="#787878"/>
<rect x="549.4" y="417.5" width="1.5" height="6.5" fill="#444444"/>
<rect x="758.8" y="414.4" width="1.5" height="9.6" fill="#525252"/>
<rect x="1280.2" y="418.6" width="1.1" height="5.4" fill="#4b4b4b"/>
<rect x="867.4" y="416.6" width="1.8" height="7.4" fill="#525252"/>
<rect x="1036.7" y="416.8" width="1.2" height="7.2" fill="#525252"/>
<rect x="427.9" y="416.0" width="1.4" height="8.0" fill="#444444"/>
<rect x="962.6" y="417.2" width="1.6" height="6.8" fill="#696969"/>
<rect x="273.9" y="411.6" width="1.3" height="12.4" fill="#4b4b4b"/>
<rect x="191.7" y="418.8" width="1.5" height="5.2" fill="#525252"/>
<rect x="263.3" y="410.4" width="1.6" height="13.6" fill="#969696"/>
<rect x="1221.4" y="412.6" width="1.3" height="11.4" fill="#696969"/>
<rect x="667.3" y="410.1" width="1.2" height="13.9" fill="#4b4b4b"/>
<rect x="1156.5" y="417.7" width="1.7" height="6.3" fill="#969696"/>
<rect x="1613.3" y="413.4" width="1.6" height="10.6" fill="#787878"/>
<rect x="967.3" y="410.8" width="1.4" height="13.2" fill="#969696"/>
<rect x="1518.0" y="411.8" width="1.5" height="12.2" fill="#969696"/>
<rect x="1456.2" y="412.6" width="1.5" height="11.4" fill="#787878"/>
<rect x="264.3" y="418.6" width="1.3" height="5.4" fill="#787878"/>
<rect x="297.4" y="411.5" width="1.0" height="12.5" fill="#696969"/>
<rect x="153.5" y="414.2" width="1.4" height="9.8" fill="#4b4b4b"/>
<rect x="127.5" y="411.8" width="1.7" height="12.2" fill="#787878"/>
<rect x="1623.2" y="418.2" width="1.1" height="5.8" fill="#696969"/>
<rect x="1353.9" y="416.7" width="1.7" height="7.3" fill="#444444"/>
<rect x="514.6" y="412.2" width="1.6" height="11.8" fill="#4b4b4b"/>
<rect x="1753.4" y="414.6" width="1.1" height="9.4" fill="#5a5a5a"/>
<rect x="1644.3" y="416.4" width="1.5" height="7.6" fill="#444444"/>
<rect x="1196.7" y="418.3" width="1.3" height="5.7" fill="#4b4b4b"/>
<rect x="1211.4" y="412.8" width="1.5" height="11.2" fill="#696969"/>
<rect x="142.8" y="418.5" width="1.8" height="5.5" fill="#525252"/>
<rect x="288.4" y="417.0" width="1.2" height="7.0" fill="#5a5a5a"/>
<rect x="985.6" y="414.8" width="1.6" height="9.2" fill="#5a5a5a"/>
<rect x="1782.8" y="414.1" width="1.8" height="9.9" fill="#525252"/>
<rect x="1687.4" y="418.8" width="1.1" height="5.2" fill="#5a5a5a"/>
<rect x="969.1" y="410.0" width="1.3" height="14.0" fill="#525252"/>
<rect x="1654.5" y="410.6" width="1.5" height="13.4" fill="#444444"/>
<rect x="359.0" y="414.3" width="1.1" height="9.7" fill="#525252"/>
<rect x="1493.4" y="414.4" width="1.6" height="9.6" fill="#444444"/>
<rect x="508.9" y="410.9" width="1.3" height="13.1" fill="#5a5a5a"/>
<rect x="388.0" y="410.5" width="1.4" height="13.5" fill="#787878"/>
<rect x="626.9" y="417.7" width="1.3" height="6.3" fill="#525252"/>
<rect x="324.2" y="416.0" width="1.6" height="8.0" fill="#525252"/>
<rect x="1525.0" y="417.9" width="1.6" height="6.1" fill="#4b4b4b"/>
<rect x="1629.4" y="416.4" width="1.1" height="7.6" fill="#525252"/>
<rect x="774.3" y="411.2" width="1.3" height="12.8" fill="#444444"/>
<rect x="837.7" y="416.5" width="1.2" height="7.5" fill="#444444"/>
<rect x="208.3" y="413.0" width="1.7" height="11.0" fill="#787878"/>
<rect x="538.9" y="416.6" width="1.3" height="7.4" fill="#696969"/>
<rect x="1414.8" y="411.9" width="1.7" height="12.1" fill="#5a5a5a"/>
<rect x="1479.6" y="413.3" width="1.4" height="10.7" fill="#696969"/>
<rect x="1325.1" y="418.6" width="1.3" height="5.4" fill="#787878"/>
<rect x="1150.1" y="417.8" width="1.2" height="6.2" fill="#969696"/>
<rect x="203.9" y="410.7" width="1.1" height="13.3" fill="#4b4b4b"/>
<rect x="815.7" y="416.5" width="1.6" height="7.5" fill="#525252"/>
<rect x="1754.4" y="416.7" width="1.2" height="7.3" fill="#787878"/>
<rect x="929.9" y="413.0" width="1.1" height="11.0" fill="#444444"/>
<rect x="392.3" y="417.1" width="1.4" height="6.9" fill="#969696"/>
<rect x="489.9" y="410.8" width="1.4" height="13.2" fill="#969696"/>
<rect x="355.4" y="417.3" width="1.1" height="6.7" fill="#444444"/>
<rect x="1051.4" y="416.1" width="1.2" height="7.9" fill="#525252"/>
<rect x="1074.4" y="411.0" width="1.7" height="13.0" fill="#787878"/>
<rect x="762.1" y="412.3" width="1.3" height="11.7" fill="#4b4b4b"/>
<rect x="687.5" y="418.4" width="1.5" height="5.6" fill="#525252"/>
<rect x="724.2" y="412.8" width="1.5" height="11.2" fill="#696969"/>
<rect x="1564.7" y="417.1" width="1.7" height="6.9" fill="#525252"/>
<rect x="765.0" y="413.2" width="1.8" height="10.8" fill="#5a5a5a"/>
<rect x="1541.0" y="411.1" width="1.1" height="12.9" fill="#444444"/>
<rect x="832.9" y="412.1" width="1.4" height="11.9" fill="#969696"/>
<rect x="1103.8" y="419.0" width="1.7" height="5.0" fill="#5a5a5a"/>
<rect x="1673.9" y="414.2" width="1.8" height="9.8" fill="#5a5a5a"/>
<rect x="537.4" y="418.0" width="1.1" height="6.0" fill="#4b4b4b"/>
<rect x="1747.0" y="418.0" width="1.6" height="6.0" fill="#969696"/>
<rect x="1204.4" y="412.1" width="1.1" height="11.9" fill="#5a5a5a"/>
<rect x="1420.9" y="419.0" width="1.2" height="5.0" fill="#4b4b4b"/>
<rect x="1660.1" y="413.2" width="1.8" height="10.8" fill="#525252"/>
<rect x="1169.5" y="414.2" width="1.6" height="9.8" fill="#5a5a5a"/>
<rect x="309.5" y="418.4" width="1.8" height="5.6" fill="#696969"/>
<rect x="442.5" y="416.7" width="1.5" height="7.3" fill="#969696"/>
<rect x="139.5" y="416.3" width="1.2" height="7.7" fill="#5a5a5a"/>
<rect x="650.3" y="556.7" width="4.7" height="7.6" fill="#3c3c3c"/>
<rect x="170.0" y="484.0" width="7.5" height="5.3" fill="#3c3c3c"/>
<rect x="954.7" y="528.7" width="5.9" height="6.3" fill="#525252"/>
<rect x="784.1" y="415.1" width="5.0" height="9.2" fill="#303030"/>
<rect x="464.3" y="578.9" width="5.2" height="9.1" fill="#3c3c3c"/>
<rect x="899.1" y="459.1" width="9.2" height="5.5" fill="#626262"/>
<rect x="1620.8" y="496.5" width="9.4" height="5.3" fill="#363636"/>
<rect x="1663.4" y="423.2" width="3.2" height="8.0" fill="#525252"/>
<rect x="207.7" y="424.2" width="5.8" height="9.5" fill="#4b4b4b"/>
<rect x="1789.9" y="572.4" width="5.3" height="5.9" fill="#626262"/>
<rect x="174.4" y="527.0" width="5.7" height="6.9" fill="#4b4b4b"/>
<rect x="861.2" y="432.5" width="3.5" height="5.4" fill="#525252"/>
<rect x="328.0" y="577.9" width="4.5" height="6.8" fill="#444444"/>
<rect x="1496.2" y="487.5" width="3.3" height="7.4" fill="#4b4b4b"/>
<rect x="1027.0" y="489.9" width="5.3" height="8.7" fill="#626262"/>
<rect x="171.7" y="483.8" width="8.7" height="8.8" fill="#2a2a2a"/>
<rect x="749.3" y="492.9" width="8.6" height="5.3" fill="#3c3c3c"/>
<rect x="1371.2" y="566.8" width="5.4" height="6.4" fill="#2a2a2a"/>
<rect x="559.6" y="535.8" width="5.2" height="6.4" fill="#2a2a2a"/>
<rect x="1328.2" y="515.2" width="8.6" height="9.7" fill="#303030"/>
<rect x="161.6" y="453.8" width="6.3" height="9.8" fill="#525252"/>
<rect x="1649.4" y="552.5" width="3.9" height="7.5" fill="#2a2a2a"/>
<rect x="1463.7" y="539.5" width="8.8" height="8.9" fill="#3c3c3c"/>
<rect x="669.4" y="468.3" width="5.5" height="8.9" fill="#303030"/>
<rect x="977.4" y="480.6" width="4.1" height="7.0" fill="#2a2a2a"/>
<rect x="926.9" y="506.6" width="4.1" height="7.1" fill="#303030"/>
<rect x="1773.6" y="459.0" width="3.6" height="5.5" fill="#626262"/>
<rect x="1747.4" y="443.4" width="3.9" height="7.3" fill="#3c3c3c"/>
<rect x="1538.0" y="527.0" width="3.8" height="9.2" fill="#444444"/>
<rect x="542.0" y="455.8" width="6.7" height="8.2" fill="#303030"/>
<rect x="1778.9" y="431.4" width="6.3" height="9.1" fill="#626262"/>
<rect x="188.5" y="463.9" width="3.8" height="5.9" fill="#3c3c3c"/>
<rect x="743.8" y="561.2" width="6.1" height="6.3" fill="#2a2a2a"/>
<rect x="298.0" y="515.3" width="7.3" height="6.1" fill="#4b4b4b"/>
<rect x="689.8" y="421.5" width="10.0" height="5.2" fill="#3c3c3c"/>
<rect x="1484.1" y="553.2" width="5.9" height="6.9" fill="#444444"/>
<rect x="251.4" y="419.3" width="6.5" height="7.4" fill="#525252"/>
<rect x="290.6" y="481.2" width="6.9" height="8.2" fill="#303030"/>
<rect x="1213.6" y="481.6" width="4.9" height="9.9" fill="#444444"/>
<rect x="820.1" y="422.7" width="8.2" height="9.4" fill="#525252"/>
<rect x="817.7" y="560.9" width="10.0" height="6.8" fill="#3c3c3c"/>
<rect x="774.7" y="482.8" width="9.6" height="7.2" fill="#363636"/>
<rect x="829.9" y="553.5" width="5.8" height="9.4" fill="#626262"/>
<rect x="1161.9" y="477.0" width="6.5" height="5.7" fill="#444444"/>
<rect x="1521.8" y="421.4" width="9.4" height="6.6" fill="#525252"/>
<rect x="265.4" y="535.1" width="7.8" height="9.5" fill="#3c3c3c"/>
<rect x="1160.0" y="518.5" width="4.4" height="7.4" fill="#3c3c3c"/>
<rect x="190.8" y="573.6" width="4.1" height="6.8" fill="#363636"/>
<rect x="534.3" y="537.2" width="9.3" height="5.2" fill="#2a2a2a"/>
<rect x="1238.4" y="469.1" width="5.7" height="7.3" fill="#444444"/>
<rect x="1206.8" y="466.4" width="4.7" height="6.9" fill="#4b4b4b"/>
<rect x="868.5" y="488.5" width="3.2" height="8.1" fill="#626262"/>
<rect x="899.4" y="490.0" width="7.3" height="9.1" fill="#363636"/>
<rect x="1477.0" y="482.1" width="3.5" height="6.8" fill="#4b4b4b"/>
<rect x="274.4" y="489.1" width="6.6" height="5.2" fill="#363636"/>
<rect x="258.6" y="538.7" width="8.4" height="7.6" fill="#2a2a2a"/>
<rect x="1379.2" y="566.1" width="7.6" height="8.9" fill="#2a2a2a"/>
<rect x="1554.9" y="583.3" width="8.1" height="9.1" fill="#3c3c3c"/>
<rect x="341.2" y="564.6" width="5.0" height="9.1" fill="#363636"/>
<rect x="1268.9" y="536.6" width="4.5" height="9.2" fill="#444444"/>
<rect x="386.6" y="566.4" width="4.9" height="9.1" fill="#363636"/>
<rect x="546.2" y="577.9" width="6.4" height="8.0" fill="#3c3c3c"/>
<rect x="654.8" y="420.3" width="4.3" height="5.8" fill="#444444"/>
<rect x="1258.1" y="566.2" width="4.2" height="8.9" fill="#303030"/>
<rect x="1406.3" y="422.3" width="9.0" height="9.8" fill="#626262"/>
<rect x="1049.8" y="512.6" width="9.2" height="5.5" fill="#525252"/>
<rect x="1355.5" y="477.1" width="5.6" height="6.8" fill="#363636"/>
<rect x="723.7" y="544.0" width="6.1" height="5.9" fill="#2a2a2a"/>
<rect x="616.8" y="501.7" width="5.2" height="9.8" fill="#4b4b4b"/>
<rect x="1347.4" y="541.0" width="4.6" height="6.5" fill="#525252"/>
<rect x="819.8" y="475.9" width="3.3" height="7.4" fill="#2a2a2a"/>
<rect x="158.3" y="414.4" width="5.5" height="5.5" fill="#4b4b4b"/>
<rect x="1014.6" y="484.3" width="5.1" height="5.7" fill="#4b4b4b"/>
<rect x="1164.8" y="494.7" width="3.9" height="9.7" fill="#3c3c3c"/>
<rect x="1304.6" y="490.6" width="3.4" height="5.7" fill="#444444"/>
<rect x="1088.8" y="516.3" width="6.6" height="7.5" fill="#363636"/>
<rect x="1632.6" y="421.5" width="6.7" height="7.0" fill="#3c3c3c"/>
<rect x="387.4" y="569.0" width="3.7" height="8.1" fill="#3c3c3c"/>
<rect x="359.0" y="447.9" width="7.3" height="7.5" fill="#525252"/>
<rect x="413.2" y="466.6" width="5.1" height="5.2" fill="#626262"/>
<rect x="1317.9" y="415.1" width="8.9" height="8.7" fill="#626262"/>
<rect x="255.6" y="525.4" width="4.2" height="10.0" fill="#444444"/>
<rect x="509.6" y="420.6" width="5.3" height="8.7" fill="#444444"/>
<rect x="1674.5" y="566.0" width="3.6" height="7.5" fill="#363636"/>
<rect x="771.3" y="516.2" width="5.7" height="9.3" fill="#626262"/>
<rect x="910.9" y="504.2" width="3.0" height="5.1" fill="#3c3c3c"/>
<rect x="1075.2" y="466.3" width="4.5" height="8.1" fill="#303030"/>
<rect x="358.3" y="418.9" width="3.3" height="8.5" fill="#2a2a2a"/>
<rect x="1287.1" y="539.3" width="3.5" height="8.0" fill="#4b4b4b"/>
<rect x="454.4" y="576.3" width="6.7" height="8.3" fill="#525252"/>
<rect x="300.2" y="449.0" width="3.8" height="5.2" fill="#303030"/>
<rect x="684.0" y="458.4" width="5.5" height="9.7" fill="#2a2a2a"/>
<rect x="736.7" y="468.5" width="9.7" height="7.5" fill="#444444"/>
<rect x="1155.4" y="419.3" width="5.9" height="7.2" fill="#303030"/>
<rect x="701.2" y="533.8" width="6.8" height="6.1" fill="#303030"/>
<rect x="1082.2" y="462.8" width="6.1" height="7.6" fill="#444444"/>
<rect x="1757.0" y="414.7" width="6.4" height="7.5" fill="#363636"/>
<rect x="1739.1" y="514.7" width="9.7" height="7.6" fill="#363636"/>
<rect x="595.7" y="450.5" width="7.9" height="7.5" fill="#303030"/>
<rect x="1403.9" y="497.3" width="9.9" height="7.8" fill="#303030"/>
<rect x="1171.5" y="474.5" width="5.8" height="7.0" fill="#303030"/>
<rect x="827.2" y="523.8" width="5.6" height="6.5" fill="#525252"/>
<rect x="1628.7" y="499.2" width="5.7" height="9.4" fill="#3c3c3c"/>
<rect x="855.1" y="545.5" width="7.1" height="5.6" fill="#626262"/>
<rect x="1196.2" y="532.4" width="6.6" height="6.3" fill="#363636"/>
<rect x="1331.1" y="579.7" width="8.1" height="8.0" fill="#4b4b4b"/>
<rect x="390.2" y="469.8" width="4.3" height="9.9" fill="#303030"/>
<rect x="396.4" y="525.8" width="4.4" height="5.8" fill="#363636"/>
<rect x="1450.8" y="538.7" width="6.0" height="6.0" fill="#303030"/>
<rect x="590.8" y="564.5" width="6.2" height="5.1" fill="#525252"/>
<rect x="1281.1" y="499.1" width="7.4" height="7.3" fill="#363636"/>
<rect x="551.3" y="539.5" width="3.0" height="6.2" fill="#525252"/>
<rect x="1294.0" y="513.9" width="7.5" height="9.2" fill="#3c3c3c"/>
<rect x="1258.0" y="523.1" width="6.2" height="6.6" fill="#303030"/>
<rect x="829.6" y="491.4" width="7.4" height="7.0" fill="#363636"/>
<rect x="1617.5" y="469.8" width="3.1" height="9.2" fill="#303030"/>
<rect x="184.8" y="506.4" width="4.1" height="8.9" fill="#3c3c3c"/>
<rect x="1190.5" y="554.9" width="6.7" height="7.1" fill="#626262"/>
<rect x="472.5" y="530.3" width="5.7" height="8.8" fill="#303030"/>
<rect x="1340.8" y="518.4" width="7.5" height="6.3" fill="#525252"/>
<rect x="789.7" y="416.3" width="5.9" height="7.1" fill="#4b4b4b"/>
<rect x="1091.6" y="432.6" width="5.1" height="7.0" fill="#3c3c3c"/>
<rect x="1728.5" y="492.6" width="4.2" height="9.6" fill="#303030"/>
<rect x="1475.4" y="521.8" width="6.3" height="7.8" fill="#3c3c3c"/>
<rect x="613.4" y="507.2" width="3.9" height="9.2" fill="#4b4b4b"/>
<rect x="1432.0" y="453.2" width="7.9" height="8.4" fill="#525252"/>
<rect x="926.7" y="550.9" width="8.6" height="6.8" fill="#444444"/>
<rect x="656.9" y="496.4" width="7.4" height="5.4" fill="#4b4b4b"/>
<rect x="376.6" y="465.5" width="5.7" height="5.4" fill="#4b4b4b"/>
<rect x="355.9" y="555.3" width="7.4" height="5.1" fill="#2a2a2a"/>
<rect x="471.9" y="426.2" width="5.1" height="8.0" fill="#363636"/>
<rect x="431.6" y="490.8" width="8.5" height="6.0" fill="#525252"/>
<rect x="1445.5" y="442.5" width="9.2" height="8.0" fill="#303030"/>
<rect x="1616.5" y="548.0" width="8.9" height="6.0" fill="#3c3c3c"/>
<rect x="1009.0" y="540.1" width="6.1" height="9.4" fill="#303030"/>
<rect x="1635.8" y="533.1" width="4.7" height="5.8" fill="#2a2a2a"/>
<rect x="389.3" y="468.5" width="7.9" height="7.5" fill="#444444"/>
<rect x="1527.3" y="477.7" width="5.9" height="9.8" fill="#303030"/>
<rect x="423.0" y="475.3" width="7.5" height="5.1" fill="#2a2a2a"/>
<rect x="1263.0" y="572.4" width="5.3" height="9.9" fill="#626262"/>
<rect x="931.9" y="566.6" width="3.2" height="8.6" fill="#363636"/>
<rect x="687.5" y="560.5" width="5.6" height="7.4" fill="#3c3c3c"/>
<rect x="596.4" y="472.1" width="4.8" height="5.3" fill="#444444"/>
<rect x="611.0" y="554.7" width="5.8" height="7.5" fill="#444444"/>
<rect x="1581.5" y="472.6" width="4.4" height="7.5" fill="#303030"/>
<rect x="674.6" y="467.9" width="5.1" height="7.9" fill="#303030"/>
<rect x="1433.0" y="420.8" width="8.1" height="9.4" fill="#2a2a2a"/>
<rect x="787.7" y="432.4" width="3.3" height="9.1" fill="#626262"/>
<rect x="1221.9" y="548.1" width="9.4" height="8.1" fill="#363636"/>
<rect x="1169.7" y="532.4" width="7.2" height="8.4" fill="#3c3c3c"/>
<rect x="187.0" y="521.7" width="7.4" height="5.9" fill="#363636"/>
<rect x="1575.2" y="485.7" width="3.7" height="9.7" fill="#2a2a2a"/>
<rect x="738.1" y="553.8" width="8.5" height="7.8" fill="#444444"/>
<rect x="994.6" y="554.2" width="8.4" height="7.1" fill="#525252"/>
<rect x="867.9" y="416.4" width="5.7" height="8.0" fill="#363636"/>
<rect x="916.4" y="484.1" width="3.7" height="8.2" fill="#3c3c3c"/>
<rect x="1619.6" y="520.6" width="6.0" height="5.0" fill="#303030"/>
<rect x="1771.7" y="559.9" width="4.5" height="5.6" fill="#626262"/>
<rect x="150.7" y="536.3" width="4.7" height="8.7" fill="#363636"/>
<rect x="1664.8" y="476.2" width="8.2" height="8.5" fill="#363636"/>
<rect x="1341.8" y="428.3" width="7.4" height="8.5" fill="#626262"/>
<rect x="1610.0" y="569.3" width="3.4" height="5.2" fill="#2a2a2a"/>
<rect x="145.6" y="524.6" width="8.7" height="5.4" fill="#444444"/>
<rect x="643.8" y="516.0" width="9.7" height="9.2" fill="#2a2a2a"/>
<rect x="650.1" y="575.3" width="8.1" height="7.3" fill="#363636"/>
<rect x="363.4" y="549.6" width="5.5" height="8.2" fill="#525252"/>
<rect x="919.0" y="546.3" width="6.2" height="6.4" fill="#4b4b4b"/>
<rect x="610.2" y="424.3" width="9.8" height="8.5" fill="#4b4b4b"/>
<rect x="1335.1" y="416.6" width="4.1" height="9.2" fill="#525252"/>
<rect x="1754.5" y="455.8" width="5.7" height="6.9" fill="#3c3c3c"/>
<rect x="595.0" y="414.3" width="4.8" height="7.1" fill="#2a2a2a"/>
<rect x="1545.0" y="551.2" width="7.8" height="9.6" fill="#4b4b4b"/>
<rect x="1015.3" y="505.8" width="6.4" height="6.9" fill="#3c3c3c"/>
<rect x="638.7" y="423.8" width="5.8" height="8.5" fill="#444444"/>
<rect x="1102.0" y="415.6" width="5.7" height="7.7" fill="#4b4b4b"/>
<rect x="1065.3" y="482.4" width="6.6" height="5.7" fill="#2a2a2a"/>
<rect x="1664.5" y="497.9" width="9.1" height="6.9" fill="#626262"/>
<rect x="463.4" y="562.0" width="7.0" height="7.9" fill="#3c3c3c"/>
<rect x="558.7" y="546.5" width="6.0" height="9.7" fill="#363636"/>
<rect x="545.9" y="420.4" width="4.4" height="5.9" fill="#303030"/>
<rect x="167.0" y="419.9" width="5.6" height="8.5" fill="#626262"/>
<rect x="1705.7" y="568.7" width="3.4" height="8.0" fill="#525252"/>
<rect x="1663.8" y="534.1" width="3.6" height="6.6" fill="#3c3c3c"/>
<rect x="1192.8" y="576.6" width="7.7" height="7.0" fill="#626262"/>
<rect x="1542.5" y="477.1" width="4.6" height="8.6" fill="#363636"/>
<rect x="185.6" y="457.5" width="5.5" height="9.5" fill="#2a2a2a"/>
<rect x="199.7" y="547.7" width="8.0" height="8.2" fill="#626262"/>
<rect x="859.3" y="524.9" width="6.3" height="6.9" fill="#525252"/>
<rect x="328.7" y="495.8" width="4.2" height="6.2" fill="#363636"/>
<rect x="1650.6" y="565.7" width="6.3" height="9.6" fill="#2a2a2a"/>
<rect x="383.6" y="555.6" width="3.5" height="8.1" fill="#4b4b4b"/>
<rect x="1607.8" y="437.8" width="6.1" height="5.5" fill="#525252"/>
<rect x="1172.3" y="490.9" width="5.4" height="9.1" fill="#626262"/>
<rect x="314.4" y="476.2" width="5.3" height="8.7" fill="#363636"/>
<rect x="1315.1" y="508.1" width="4.0" height="9.4" fill="#444444"/>
<rect x="401.7" y="497.5" width="5.2" height="9.5" fill="#303030"/>
<rect x="377.6" y="501.3" width="7.4" height="8.9" fill="#3c3c3c"/>
<rect x="1057.8" y="556.0" width="3.8" height="8.8" fill="#4b4b4b"/>
<rect x="1620.3" y="423.8" width="8.1" height="6.5" fill="#2a2a2a"/>
<rect x="860.6" y="500.3" width="6.6" height="7.2" fill="#444444"/>
<rect x="431.9" y="488.0" width="9.4" height="6.1" fill="#363636"/>
<rect x="352.0" y="444.6" width="8.4" height="8.6" fill="#3c3c3c"/>
<rect x="1507.9" y="565.2" width="8.1" height="8.8" fill="#363636"/>
<rect x="465.7" y="518.1" width="8.0" height="9.1" fill="#444444"/>
<rect x="1643.8" y="495.0" width="9.1" height="6.3" fill="#363636"/>
<rect x="1063.1" y="581.6" width="3.3" height="8.5" fill="#2a2a2a"/>
<rect x="716.9" y="572.5" width="9.8" height="5.4" fill="#4b4b4b"/>
<rect x="1316.5" y="552.8" width="9.1" height="6.6" fill="#525252"/>
<rect x="1085.2" y="566.7" width="5.0" height="5.5" fill="#626262"/>
<rect x="867.9" y="418.4" width="8.6" height="5.7" fill="#3c3c3c"/>
<rect x="1719.3" y="417.3" width="9.5" height="8.7" fill="#444444"/>
<rect x="150.6" y="515.9" width="7.0" height="7.6" fill="#626262"/>
<rect x="293.1" y="561.8" width="8.0" height="5.2" fill="#303030"/>
<rect x="898.7" y="513.6" width="8.3" height="5.6" fill="#303030"/>
<rect x="799.7" y="437.3" width="7.1" height="9.3" fill="#363636"/>
<rect x="894.0" y="481.4" width="9.6" height="5.1" fill="#525252"/>
<rect x="1281.8" y="515.5" width="7.2" height="5.2" fill="#2a2a2a"/>
<rect x="1420.8" y="471.6" width="4.7" height="6.7" fill="#525252"/>
<rect x="1531.4" y="510.0" width="9.9" height="6.6" fill="#525252"/>
<rect x="1539.1" y="423.1" width="6.6" height="9.8" fill="#4b4b4b"/>
<rect x="538.1" y="485.8" width="7.4" height="6.8" fill="#363636"/>
<rect x="236.9" y="487.6" width="6.5" height="5.1" fill="#363636"/>
<rect x="824.9" y="481.5" width="10.0" height="7.3" fill="#2a2a2a"/>
<rect x="1474.9" y="564.3" width="9.2" height="5.2" fill="#444444"/>
<rect x="1656.7" y="520.0" width="7.4" height="9.0" fill="#2a2a2a"/>
<rect x="632.0" y="524.1" width="3.8" height="8.0" fill="#444444"/>
<rect x="262.3" y="514.3" width="9.5" height="7.2" fill="#363636"/>
<rect x="1601.9" y="569.6" width="7.0" height="6.4" fill="#303030"/>
<rect x="1359.7" y="462.8" width="6.2" height="8.5" fill="#3c3c3c"/>
<rect x="457.6" y="534.8" width="6.2" height="7.7" fill="#626262"/>
<rect x="905.6" y="466.8" width="4.7" height="6.1" fill="#525252"/>
<rect x="1743.2" y="481.4" width="9.5" height="5.8" fill="#3c3c3c"/>
<rect x="663.0" y="469.3" width="4.9" height="9.4" fill="#3c3c3c"/>
<rect x="615.4" y="545.3" width="4.1" height="5.3" fill="#4b4b4b"/>
<rect x="1776.1" y="529.2" width="9.5" height="7.1" fill="#4b4b4b"/>
<rect x="355.8" y="448.4" width="7.3" height="6.4" fill="#303030"/>
<rect x="1364.5" y="543.1" width="6.3" height="8.9" fill="#363636"/>
<rect x="1731.7" y="511.2" width="5.9" height="8.9" fill="#303030"/>
<rect x="756.0" y="490.9" width="6.2" height="8.6" fill="#444444"/>
<rect x="711.5" y="503.4" width="7.2" height="8.2" fill="#2a2a2a"/>
<rect x="1437.8" y="558.4" width="6.5" height="7.2" fill="#363636"/>
<rect x="1019.2" y="550.5" width="6.0" height="6.9" fill="#3c3c3c"/>
<rect x="268.1" y="570.4" width="5.3" height="9.2" fill="#3c3c3c"/>
<rect x="550.2" y="566.3" width="5.1" height="7.7" fill="#444444"/>
<rect x="1021.9" y="583.7" width="6.6" height="7.6" fill="#525252"/>
<rect x="772.7" y="474.8" width="7.2" height="6.8" fill="#2a2a2a"/>
<rect x="1252.7" y="503.3" width="3.7" height="6.9" fill="#525252"/>
<rect x="1206.0" y="571.8" width="4.1" height="5.9" fill="#525252"/>
<rect x="935.3" y="488.8" width="7.4" height="10.0" fill="#4b4b4b"/>
<rect x="1278.0" y="540.9" width="3.6" height="6.8" fill="#4b4b4b"/>
<rect x="1757.9" y="554.4" width="6.6" height="5.6" fill="#444444"/>
<rect x="1275.2" y="553.5" width="9.9" height="9.4" fill="#525252"/>
<rect x="1176.8" y="503.1" width="8.7" height="6.0" fill="#3c3c3c"/>
<rect x="810.7" y="424.2" width="7.0" height="5.5" fill="#2a2a2a"/>
<rect x="139.0" y="414.5" width="8.0" height="7.8" fill="#444444"/>
<rect x="248.4" y="575.1" width="6.4" height="7.3" fill="#525252"/>
<rect x="873.6" y="479.6" width="3.4" height="9.5" fill="#2a2a2a"/>
<rect x="856.5" y="519.4" width="4.7" height="5.2" fill="#363636"/>
<rect x="647.6" y="566.8" width="8.7" height="6.5" fill="#444444"/>
<rect x="1727.1" y="498.2" width="9.6" height="6.2" fill="#525252"/>
<rect x="1250.1" y="513.4" width="5.9" height="7.0" fill="#626262"/>
<rect x="158.5" y="561.6" width="3.6" height="5.8" fill="#525252"/>
<rect x="433.1" y="579.2" width="5.0" height="7.8" fill="#303030"/>
<rect x="681.5" y="562.2" width="5.4" height="8.3" fill="#303030"/>
<rect x="827.5" y="569.2" width="6.9" height="6.9" fill="#626262"/>
<rect x="595.4" y="454.3" width="3.2" height="8.3" fill="#4b4b4b"/>
<rect x="902.4" y="549.1" width="4.7" height="6.8" fill="#3c3c3c"/>
<rect x="1329.7" y="478.1" width="9.7" height="6.0" fill="#626262"/>
<rect x="857.7" y="582.3" width="6.7" height="7.0" fill="#3c3c3c"/>
<rect x="331.0" y="541.6" width="7.7" height="5.5" fill="#444444"/>
<rect x="1352.2" y="544.0" width="3.2" height="8.6" fill="#363636"/>
<rect x="640.9" y="480.3" width="3.6" height="5.9" fill="#3c3c3c"/>
<rect x="658.1" y="526.7" width="3.8" height="7.8" fill="#4b4b4b"/>
<rect x="1468.1" y="542.9" width="4.3" height="8.6" fill="#303030"/>
<rect x="499.8" y="435.4" width="8.0" height="6.4" fill="#525252"/>
<rect x="898.0" y="520.8" width="7.4" height="9.3" fill="#444444"/>
<rect x="416.1" y="476.3" width="8.6" height="8.5" fill="#525252"/>
<rect x="163.3" y="533.6" width="6.2" height="10.0" fill="#525252"/>
<rect x="710.1" y="520.9" width="4.3" height="5.6" fill="#3c3c3c"/>
<rect x="1313.2" y="420.9" width="3.3" height="5.8" fill="#3c3c3c"/>
<rect x="501.9" y="498.6" width="6.6" height="9.6" fill="#4b4b4b"/>
<rect x="1686.4" y="433.0" width="8.3" height="8.3" fill="#2a2a2a"/>
<rect x="1099.9" y="532.3" width="9.8" height="8.4" fill="#2a2a2a"/>
<rect x="1365.6" y="583.7" width="7.3" height="6.1" fill="#303030"/>
<rect x="704.9" y="575.4" width="6.1" height="6.7" fill="#626262"/>
<rect x="972.0" y="529.0" width="4.4" height="8.4" fill="#363636"/>
<rect x="394.9" y="546.7" width="4.7" height="6.3" fill="#2a2a2a"/>
<rect x="402.1" y="473.0" width="3.6" height="8.2" fill="#363636"/>
<rect x="349.5" y="534.2" width="7.7" height="6.2" fill="#3c3c3c"/>
<rect x="130.8" y="531.6" width="3.9" height="8.2" fill="#444444"/>
<rect x="344.2" y="534.3" width="7.1" height="6.2" fill="#303030"/>
<rect x="1038.2" y="543.3" width="4.2" height="8.3" fill="#626262"/>
<rect x="1525.5" y="483.0" width="4.4" height="8.5" fill="#2a2a2a"/>
<rect x="637.8" y="577.7" width="4.1" height="7.2" fill="#4b4b4b"/>
<rect x="605.3" y="508.8" width="3.3" height="7.3" fill="#626262"/>
<rect x="261.5" y="535.9" width="9.9" height="7.8" fill="#303030"/>
<rect x="1200.3" y="576.6" width="6.4" height="8.9" fill="#4b4b4b"/>
<rect x="134.9" y="570.3" width="7.5" height="8.1" fill="#444444"/>
<rect x="1213.6" y="427.3" width="8.2" height="5.1" fill="#525252"/>
<rect x="1323.6" y="466.8" width="7.3" height="6.9" fill="#4b4b4b"/>
<rect x="656.6" y="476.6" width="6.9" height="6.8" fill="#444444"/>
<rect x="521.5" y="421.0" width="7.0" height="8.1" fill="#525252"/>
<rect x="1635.4" y="574.6" width="6.5" height="7.5" fill="#363636"/>
<rect x="1786.7" y="516.4" width="7.4" height="5.7" fill="#3c3c3c"/>
<rect x="394.8" y="489.3" width="9.8" height="5.4" fill="#2a2a2a"/>
<rect x="1544.2" y="495.5" width="4.5" height="6.9" fill="#2a2a2a"/>
<rect x="1527.7" y="559.4" width="8.5" height="7.1" fill="#444444"/>
<rect x="241.4" y="423.4" width="8.0" height="9.5" fill="#303030"/>
<rect x="854.9" y="527.2" width="8.8" height="9.5" fill="#363636"/>
<rect x="754.8" y="414.7" width="8.6" height="8.4" fill="#3c3c3c"/>
<rect x="905.4" y="506.3" width="6.6" height="7.1" fill="#363636"/>
<rect x="1751.1" y="577.5" width="7.3" height="9.1" fill="#2a2a2a"/>
<rect x="1330.2" y="470.4" width="7.6" height="7.8" fill="#525252"/>
<rect x="1715.1" y="495.7" width="7.5" height="6.5" fill="#4b4b4b"/>
<rect x="1008.4" y="521.7" width="8.9" height="6.1" fill="#626262"/>
<rect x="522.9" y="489.0" width="4.8" height="6.1" fill="#3c3c3c"/>
<rect x="1242.3" y="534.5" width="4.6" height="7.3" fill="#303030"/>
<rect x="1351.6" y="568.6" width="7.0" height="9.3" fill="#303030"/>
<rect x="1460.0" y="436.8" width="6.5" height="7.5" fill="#303030"/>
<rect x="1727.7" y="501.6" width="6.2" height="8.4" fill="#363636"/>
<rect x="1740.4" y="446.6" width="6.3" height="5.5" fill="#4b4b4b"/>
<rect x="1656.0" y="562.0" width="4.2" height="8.7" fill="#4b4b4b"/>
<rect x="1466.3" y="539.1" width="3.1" height="6.3" fill="#3c3c3c"/>
<rect x="745.1" y="539.3" width="9.6" height="8.6" fill="#2a2a2a"/>
<rect x="1487.1" y="474.1" width="5.5" height="6.6" fill="#303030"/>
<rect x="178.1" y="568.7" width="4.7" height="6.8" fill="#626262"/>
<rect x="156.6" y="582.1" width="6.1" height="9.0" fill="#626262"/>
<rect x="305.7" y="550.1" width="4.3" height="7.8" fill="#444444"/>
<rect x="1582.8" y="527.8" width="8.9" height="7.9" fill="#444444"/>
<rect x="1021.8" y="531.2" width="8.7" height="9.7" fill="#2a2a2a"/>
<rect x="162.4" y="583.1" width="6.4" height="7.4" fill="#2a2a2a"/>
<rect x="1460.2" y="420.0" width="4.3" height="9.1" fill="#525252"/>
<rect x="1531.3" y="578.5" width="7.9" height="7.2" fill="#3c3c3c"/>
<rect x="1581.6" y="517.8" width="3.5" height="6.6" fill="#3c3c3c"/>
<rect x="641.7" y="436.3" width="7.4" height="6.1" fill="#4b4b4b"/>
<rect x="675.4" y="493.6" width="9.6" height="6.6" fill="#4b4b4b"/>
<rect x="1089.9" y="470.7" width="3.1" height="7.3" fill="#2a2a2a"/>
<rect x="1176.5" y="537.6" width="4.0" height="6.9" fill="#303030"/>
<rect x="957.5" y="458.6" width="7.0" height="7.6" fill="#363636"/>
<rect x="178.1" y="509.3" width="8.4" height="9.4" fill="#525252"/>
<rect x="1180.2" y="521.9" width="5.5" height="6.4" fill="#3c3c3c"/>
<rect x="1581.2" y="573.6" width="7.8" height="6.5" fill="#4b4b4b"/>
<rect x="1358.2" y="500.5" width="7.4" height="6.8" fill="#525252"/>
<rect x="680.5" y="533.7" width="7.7" height="9.4" fill="#626262"/>
<rect x="963.7" y="566.0" width="8.7" height="10.0" fill="#363636"/>
<rect x="347.9" y="415.2" width="9.1" height="7.3" fill="#626262"/>
<rect x="783.6" y="545.3" width="9.5" height="7.9" fill="#363636"/>
<rect x="625.4" y="466.4" width="8.1" height="7.8" fill="#4b4b4b"/>
<rect x="1773.0" y="474.7" width="8.4" height="7.1" fill="#303030"/>
<rect x="1524.0" y="468.3" width="4.2" height="9.5" fill="#2a2a2a"/>
<rect x="1390.0" y="520.5" width="4.7" height="5.1" fill="#2a2a2a"/>
<rect x="1348.8" y="577.7" width="7.2" height="5.4" fill="#4b4b4b"/>
<rect x="1323.9" y="414.9" width="4.9" height="8.2" fill="#2a2a2a"/>
<rect x="1191.5" y="570.9" width="4.5" height="6.6" fill="#2a2a2a"/>
<rect x="1206.7" y="482.9" width="7.8" height="6.7" fill="#2a2a2a"/>
<rect x="1565.3" y="549.4" width="3.6" height="8.1" fill="#626262"/>
<rect x="1773.6" y="481.9" width="9.6" height="9.4" fill="#2a2a2a"/>
<rect x="1669.0" y="509.9" width="9.9" height="5.3" fill="#4b4b4b"/>
<rect x="383.1" y="417.2" width="4.5" height="7.6" fill="#303030"/>
<rect x="719.7" y="475.5" width="5.4" height="8.4" fill="#363636"/>
<rect x="1220.8" y="516.3" width="5.3" height="8.7" fill="#444444"/>
<rect x="1481.9" y="495.2" width="3.2" height="8.2" fill="#626262"/>
<rect x="1056.7" y="475.4" width="6.7" height="6.4" fill="#444444"/>
<rect x="136.1" y="494.9" width="7.6" height="8.9" fill="#4b4b4b"/>
<rect x="372.9" y="520.9" width="5.8" height="9.9" fill="#2a2a2a"/>
<rect x="1135.0" y="539.4" width="9.3" height="9.4" fill="#363636"/>
<rect x="1005.2" y="473.6" width="8.0" height="7.2" fill="#626262"/>
<rect x="477.6" y="569.1" width="9.3" height="6.9" fill="#3c3c3c"/>
<rect x="662.8" y="567.6" width="3.8" height="8.7" fill="#303030"/>
<rect x="1470.7" y="569.3" width="7.7" height="6.8" fill="#3c3c3c"/>
<rect x="1064.9" y="483.7" width="9.4" height="9.7" fill="#3c3c3c"/>
<rect x="172.4" y="417.5" width="8.0" height="6.2" fill="#4b4b4b"/>
<rect x="461.0" y="543.1" width="7.5" height="6.5" fill="#626262"/>
<rect x="483.4" y="510.8" width="4.1" height="9.3" fill="#444444"/>
<rect x="208.2" y="547.0" width="9.0" height="8.7" fill="#2a2a2a"/>
<rect x="1425.6" y="560.8" width="4.3" height="9.3" fill="#444444"/>
<rect x="1267.3" y="550.9" width="4.1" height="9.6" fill="#363636"/>
<rect x="785.5" y="484.4" width="7.5" height="8.3" fill="#525252"/>
<rect x="1596.5" y="580.5" width="3.2" height="6.2" fill="#2a2a2a"/>
<rect x="184.4" y="499.8" width="4.6" height="7.2" fill="#303030"/>
<rect x="1339.8" y="422.2" width="9.3" height="5.3" fill="#303030"/>
<rect x="322.5" y="496.9" width="4.0" height="7.1" fill="#363636"/>
<rect x="495.6" y="505.9" width="7.4" height="7.7" fill="#303030"/>
<rect x="1007.6" y="556.7" width="9.7" height="5.4" fill="#3c3c3c"/>
<rect x="1548.4" y="579.3" width="4.6" height="5.4" fill="#363636"/>
<rect x="1052.2" y="475.6" width="3.1" height="8.4" fill="#626262"/>
<rect x="1031.1" y="507.3" width="7.8" height="9.9" fill="#444444"/>
<rect x="789.0" y="468.1" width="5.9" height="9.9" fill="#525252"/>
<rect x="1394.1" y="563.9" width="8.6" height="9.5" fill="#2a2a2a"/>
<rect x="521.0" y="499.2" width="9.9" height="8.5" fill="#525252"/>
<rect x="1779.0" y="554.3" width="7.6" height="5.4" fill="#2a2a2a"/>
<rect x="1641.0" y="422.4" width="7.9" height="6.6" fill="#626262"/>
<rect x="1039.4" y="467.7" width="9.8" height="5.0" fill="#626262"/>
<rect x="974.4" y="514.7" width="10.0" height="6.2" fill="#525252"/>
<rect x="1454.9" y="526.9" width="9.5" height="8.8" fill="#444444"/>
<rect x="1641.3" y="494.5" width="8.1" height="7.6" fill="#626262"/>
<rect x="1075.8" y="583.9" width="3.5" height="8.8" fill="#4b4b4b"/>
<rect x="997.5" y="503.7" width="8.7" height="6.2" fill="#363636"/>
<rect x="376.1" y="526.5" width="4.2" height="9.7" fill="#2a2a2a"/>
<rect x="659.6" y="475.5" width="9.0" height="7.1" fill="#525252"/>
<rect x="268.2" y="481.2" width="10.0" height="8.5" fill="#626262"/>
<rect x="1182.7" y="538.2" width="4.2" height="7.6" fill="#2a2a2a"/>
<rect x="1258.9" y="476.4" width="6.6" height="6.2" fill="#4b4b4b"/>
<rect x="996.6" y="550.3" width="4.8" height="7.8" fill="#2a2a2a"/>
<rect x="1075.5" y="423.8" width="4.2" height="8.6" fill="#444444"/>
<rect x="1655.0" y="457.5" width="4.9" height="7.2" fill="#626262"/>
<rect x="458.4" y="485.9" width="8.5" height="8.1" fill="#4b4b4b"/>
<rect x="1661.0" y="536.0" width="5.6" height="5.2" fill="#444444"/>
<rect x="1743.4" y="487.3" width="7.3" height="6.3" fill="#3c3c3c"/>
<rect x="765.7" y="512.4" width="9.5" height="6.0" fill="#4b4b4b"/>
<rect x="1000.7" y="498.4" width="9.3" height="8.8" fill="#2a2a2a"/>
<rect x="301.4" y="509.8" width="9.5" height="8.5" fill="#525252"/>
<rect x="815.1" y="494.5" width="9.2" height="7.2" fill="#626262"/>
<rect x="347.3" y="542.0" width="3.1" height="6.2" fill="#3c3c3c"/>
<rect x="793.0" y="420.9" width="7.8" height="7.8" fill="#525252"/>
<rect x="268.6" y="542.1" width="7.0" height="5.3" fill="#3c3c3c"/>
<rect x="1310.6" y="496.1" width="3.4" height="8.5" fill="#525252"/>
<rect x="439.3" y="581.0" width="4.3" height="7.7" fill="#444444"/>
<rect x="265.9" y="479.2" width="7.6" height="6.5" fill="#525252"/>
<rect x="975.9" y="485.4" width="3.4" height="6.5" fill="#525252"/>
<rect x="1462.7" y="559.6" width="4.8" height="6.0" fill="#2a2a2a"/>
<rect x="468.2" y="524.9" width="9.5" height="8.3" fill="#363636"/>
<rect x="732.9" y="550.2" width="4.4" height="9.6" fill="#2a2a2a"/>
<rect x="1341.1" y="415.4" width="3.5" height="9.8" fill="#4b4b4b"/>
<rect x="180.1" y="451.3" width="6.1" height="6.0" fill="#3c3c3c"/>
<rect x="1111.6" y="491.3" width="9.5" height="7.2" fill="#3c3c3c"/>
<rect x="217.6" y="487.7" width="7.5" height="5.2" fill="#303030"/>
<rect x="1483.3" y="498.5" width="3.1" height="8.6" fill="#363636"/>
<rect x="954.5" y="528.6" width="7.7" height="6.5" fill="#3c3c3c"/>
<rect x="458.3" y="429.6" width="3.4" height="6.1" fill="#444444"/>
<rect x="861.1" y="486.2" width="9.1" height="9.6" fill="#363636"/>
<rect x="190.9" y="556.1" width="5.1" height="6.2" fill="#4b4b4b"/>
<rect x="1303.7" y="536.3" width="5.2" height="6.3" fill="#3c3c3c"/>
<rect x="375.1" y="549.9" width="9.9" height="7.0" fill="#2a2a2a"/>
<rect x="370.1" y="445.3" width="5.3" height="7.0" fill="#2a2a2a"/>
<rect x="325.3" y="571.0" width="10.0" height="9.7" fill="#303030"/>
<rect x="607.4" y="473.2" width="8.3" height="7.5" fill="#303030"/>
<rect x="908.1" y="544.5" width="8.4" height="9.5" fill="#444444"/>
<rect x="175.2" y="515.8" width="9.8" height="6.7" fill="#363636"/>
<rect x="1219.4" y="422.5" width="5.3" height="7.2" fill="#3c3c3c"/>
<rect x="672.3" y="475.9" width="3.8" height="9.2" fill="#303030"/>
<rect x="1331.7" y="491.3" width="8.2" height="5.6" fill="#363636"/>
<rect x="1117.4" y="492.4" width="3.2" height="7.6" fill="#303030"/>
<rect x="812.0" y="532.4" width="5.9" height="9.2" fill="#303030"/>
<rect x="747.9" y="526.7" width="4.1" height="5.8" fill="#303030"/>
<rect x="675.8" y="557.2" width="9.1" height="7.4" fill="#363636"/>
<rect x="317.7" y="493.5" width="4.1" height="7.7" fill="#444444"/>
<rect x="734.8" y="447.6" width="5.8" height="6.0" fill="#363636"/>
<rect x="1336.6" y="504.9" width="4.7" height="5.5" fill="#303030"/>
<rect x="1699.2" y="497.0" width="8.5" height="7.9" fill="#3c3c3c"/>
<rect x="1116.9" y="547.3" width="8.0" height="5.3" fill="#3c3c3c"/>
<rect x="243.2" y="471.3" width="3.7" height="6.1" fill="#363636"/>
<rect x="1483.9" y="472.2" width="8.7" height="7.3" fill="#363636"/>
<rect x="139.0" y="573.9" width="5.9" height="7.0" fill="#303030"/>
<rect x="1440.3" y="439.2" width="6.6" height="5.8" fill="#4b4b4b"/>
<rect x="461.9" y="571.2" width="7.8" height="8.5" fill="#303030"/>
<rect x="1789.5" y="548.6" width="6.4" height="7.5" fill="#4b4b4b"/>
<rect x="1640.2" y="541.7" width="7.5" height="6.0" fill="#2a2a2a"/>
<rect x="1535.9" y="547.7" width="3.6" height="8.6" fill="#4b4b4b"/>
<rect x="1096.0" y="550.6" width="6.4" height="8.9" fill="#626262"/>
<rect x="346.8" y="554.8" width="9.6" height="9.5" fill="#626262"/>
<rect x="1513.7" y="550.4" width="7.1" height="7.2" fill="#444444"/>
<rect x="1372.4" y="514.9" width="7.6" height="8.2" fill="#303030"/>
<rect x="1741.2" y="547.9" width="4.8" height="9.2" fill="#3c3c3c"/>
<rect x="522.7" y="513.9" width="6.9" height="9.4" fill="#2a2a2a"/>
<rect x="776.8" y="547.3" width="8.6" height="8.4" fill="#4b4b4b"/>
<rect x="1502.5" y="483.1" width="3.6" height="8.3" fill="#4b4b4b"/>
<rect x="1230.7" y="567.7" width="6.0" height="6.5" fill="#444444"/>
<rect x="939.2" y="416.8" width="3.8" height="9.1" fill="#525252"/>
<rect x="1533.9" y="519.3" width="5.0" height="5.4" fill="#444444"/>
<rect x="434.3" y="565.2" width="5.9" height="7.7" fill="#3c3c3c"/>
<rect x="322.9" y="530.1" width="3.3" height="9.1" fill="#363636"/>
<rect x="772.9" y="470.6" width="4.1" height="5.8" fill="#4b4b4b"/>
<rect x="1609.7" y="517.7" width="9.3" height="7.0" fill="#626262"/>
<rect x="653.8" y="563.0" width="8.5" height="8.0" fill="#363636"/>
<rect x="775.0" y="415.5" width="9.0" height="5.5" fill="#3c3c3c"/>
<rect x="881.5" y="551.6" width="4.8" height="6.8" fill="#303030"/>
<rect x="1768.1" y="538.9" width="8.3" height="8.3" fill="#363636"/>
<rect x="1674.6" y="565.9" width="7.7" height="5.4" fill="#4b4b4b"/>
<rect x="864.0" y="576.8" width="5.5" height="8.3" fill="#525252"/>
<rect x="1690.0" y="551.5" width="3.4" height="8.3" fill="#626262"/>
<rect x="729.5" y="580.0" width="3.4" height="9.2" fill="#303030"/>
<rect x="1053.6" y="490.1" width="8.3" height="9.5" fill="#626262"/>
<rect x="179.7" y="469.3" width="4.0" height="9.8" fill="#444444"/>
<rect x="362.8" y="513.9" width="7.0" height="5.2" fill="#525252"/>
<rect x="411.4" y="514.2" width="9.9" height="8.1" fill="#3c3c3c"/>
<rect x="608.1" y="506.5" width="5.9" height="9.9" fill="#303030"/>
<rect x="1467.6" y="529.0" width="5.7" height="9.8" fill="#4b4b4b"/>
<rect x="1276.8" y="461.2" width="4.1" height="7.9" fill="#2a2a2a"/>
<rect x="991.8" y="529.8" width="9.4" height="7.9" fill="#525252"/>
<rect x="1421.1" y="475.2" width="7.9" height="6.4" fill="#626262"/>
<rect x="451.2" y="468.6" width="6.1" height="5.5" fill="#444444"/>
<rect x="726.3" y="468.3" width="8.6" height="7.4" fill="#303030"/>
<rect x="462.2" y="568.5" width="6.2" height="9.2" fill="#363636"/>
<rect x="1423.7" y="467.5" width="4.1" height="8.8" fill="#626262"/>
<rect x="1227.5" y="558.2" width="5.9" height="5.4" fill="#525252"/>
<rect x="727.9" y="570.0" width="6.7" height="6.4" fill="#303030"/>
<rect x="555.5" y="545.1" width="3.3" height="9.1" fill="#444444"/>
<rect x="712.7" y="573.8" width="4.9" height="6.2" fill="#303030"/>
<rect x="1585.9" y="430.4" width="7.2" height="9.1" fill="#303030"/>
<rect x="398.6" y="444.0" width="8.1" height="8.7" fill="#303030"/>
<rect x="781.0" y="573.9" width="8.2" height="6.7" fill="#525252"/>
<rect x="957.2" y="471.3" width="9.1" height="8.6" fill="#363636"/>
<rect x="1010.7" y="502.6" width="7.7" height="9.5" fill="#363636"/>
<rect x="477.4" y="529.9" width="9.5" height="5.3" fill="#2a2a2a"/>
<rect x="1546.3" y="527.5" width="7.0" height="7.0" fill="#444444"/>
<rect x="1434.7" y="529.5" width="9.0" height="5.7" fill="#3c3c3c"/>
<rect x="1244.5" y="542.2" width="6.5" height="9.5" fill="#2a2a2a"/>
<rect x="1364.1" y="553.6" width="7.5" height="9.4" fill="#363636"/>
<rect x="1204.2" y="562.8" width="5.7" height="9.5" fill="#303030"/>
<rect x="1411.8" y="516.8" width="6.6" height="8.0" fill="#3c3c3c"/>
<rect x="638.4" y="475.2" width="7.0" height="9.4" fill="#303030"/>
<rect x="722.8" y="532.9" width="3.5" height="9.2" fill="#4b4b4b"/>
<rect x="486.4" y="491.8" width="8.3" height="7.2" fill="#2a2a2a"/>
<rect x="1756.0" y="514.3" width="7.2" height="5.2" fill="#626262"/>
<rect x="506.3" y="508.6" width="8.7" height="6.4" fill="#2a2a2a"/>
<rect x="1175.0" y="537.2" width="7.1" height="7.0" fill="#525252"/>
<rect x="499.6" y="561.5" width="10.0" height="9.0" fill="#4b4b4b"/>
<rect x="1263.1" y="534.4" width="6.2" height="6.7" fill="#3c3c3c"/>
<rect x="451.8" y="533.6" width="4.4" height="6.3" fill="#444444"/>
<rect x="1371.8" y="575.2" width="9.4" height="8.6" fill="#2a2a2a"/>
<rect x="1170.9" y="510.1" width="5.2" height="6.8" fill="#303030"/>
<rect x="195.0" y="443.8" width="5.5" height="9.5" fill="#626262"/>
<rect x="694.7" y="559.9" width="5.5" height="9.4" fill="#626262"/>
<rect x="1778.2" y="569.0" width="8.6" height="7.4" fill="#363636"/>
<rect x="1543.0" y="503.8" width="4.8" height="6.9" fill="#4b4b4b"/>
<rect x="542.5" y="417.6" width="9.4" height="8.6" fill="#525252"/>
<rect x="1416.6" y="537.4" width="4.1" height="9.5" fill="#525252"/>
<rect x="344.9" y="416.2" width="4.5" height="7.9" fill="#525252"/>
<rect x="167.2" y="552.2" width="9.8" height="5.4" fill="#2a2a2a"/>
<rect x="462.2" y="511.4" width="9.4" height="9.3" fill="#4b4b4b"/>
<rect x="1165.9" y="564.5" width="6.4" height="8.2" fill="#3c3c3c"/>
<rect x="332.2" y="448.0" width="6.2" height="7.9" fill="#626262"/>
<rect x="1074.9" y="536.3" width="9.0" height="5.8" fill="#3c3c3c"/>
<rect x="1320.3" y="493.8" width="9.2" height="8.0" fill="#303030"/>
<rect x="1641.8" y="515.8" width="3.4" height="6.2" fill="#3c3c3c"/>
<rect x="129.2" y="510.2" width="8.2" height="6.1" fill="#2a2a2a"/>
<rect x="526.9" y="568.4" width="4.4" height="5.0" fill="#626262"/>
<rect x="202.4" y="454.9" width="9.5" height="6.1" fill="#2a2a2a"/>
<rect x="1189.4" y="570.3" width="4.8" height="5.8" fill="#2a2a2a"/>
<rect x="922.1" y="576.6" width="8.3" height="9.4" fill="#303030"/>
<rect x="433.7" y="551.2" width="4.1" height="7.6" fill="#303030"/>
<rect x="973.9" y="576.7" width="5.7" height="9.4" fill="#303030"/>
<rect x="1545.4" y="508.5" width="8.7" height="7.5" fill="#303030"/>
<rect x="1302.0" y="526.4" width="7.3" height="7.3" fill="#2a2a2a"/>
<rect x="1305.7" y="539.0" width="7.7" height="9.9" fill="#303030"/>
<rect x="1034.7" y="473.9" width="3.7" height="8.7" fill="#303030"/>
<rect x="271.2" y="460.6" width="5.2" height="6.5" fill="#626262"/>
<rect x="1758.1" y="544.7" width="3.0" height="5.4" fill="#303030"/>
<rect x="1263.5" y="544.5" width="4.5" height="6.9" fill="#525252"/>
<rect x="1666.5" y="511.7" width="4.5" height="8.8" fill="#303030"/>
<rect x="1648.2" y="556.3" width="8.0" height="5.2" fill="#363636"/>
<rect x="1543.0" y="487.2" width="9.1" height="5.9" fill="#444444"/>
<rect x="860.0" y="534.1" width="4.8" height="6.5" fill="#4b4b4b"/>
<rect x="168.4" y="479.0" width="4.1" height="5.8" fill="#626262"/>
<rect x="1396.4" y="556.3" width="10.0" height="8.8" fill="#444444"/>
<rect x="1465.5" y="416.2" width="6.8" height="6.7" fill="#4b4b4b"/>
<rect x="1661.7" y="469.9" width="8.4" height="8.9" fill="#4b4b4b"/>
<rect x="1450.4" y="504.4" width="3.7" height="9.1" fill="#4b4b4b"/>
<rect x="832.0" y="471.3" width="3.4" height="5.6" fill="#626262"/>
<rect x="390.5" y="504.3" width="7.5" height="7.7" fill="#525252"/>
<rect x="1679.2" y="502.2" width="8.4" height="8.2" fill="#3c3c3c"/>
<rect x="485.8" y="542.4" width="9.2" height="8.6" fill="#525252"/>
<rect x="1318.5" y="582.2" width="4.2" height="7.2" fill="#363636"/>
<rect x="1276.4" y="540.8" width="8.3" height="6.2" fill="#444444"/>
<rect x="1728.1" y="429.6" width="9.1" height="8.2" fill="#363636"/>
<rect x="1121.2" y="532.1" width="5.1" height="5.3" fill="#303030"/>
<rect x="1017.2" y="426.5" width="3.5" height="7.8" fill="#626262"/>
<rect x="974.7" y="563.2" width="9.4" height="7.3" fill="#303030"/>
<rect x="547.5" y="481.1" width="7.9" height="5.9" fill="#303030"/>
<rect x="1562.0" y="492.3" width="5.3" height="6.0" fill="#525252"/>
<rect x="137.4" y="446.3" width="9.3" height="5.8" fill="#444444"/>
<rect x="269.8" y="513.2" width="3.4" height="6.5" fill="#444444"/>
<rect x="1439.3" y="456.8" width="5.6" height="7.6" fill="#303030"/>
<rect x="932.3" y="570.9" width="9.4" height="7.1" fill="#2a2a2a"/>
<rect x="1699.8" y="503.2" width="4.7" height="5.9" fill="#4b4b4b"/>
<rect x="476.3" y="428.1" width="4.9" height="9.6" fill="#626262"/>
<rect x="341.4" y="551.1" width="7.4" height="5.5" fill="#444444"/>
<rect x="1230.1" y="475.4" width="3.8" height="9.9" fill="#626262"/>
<rect x="551.5" y="500.6" width="7.4" height="9.1" fill="#2a2a2a"/>
<rect x="1197.7" y="530.8" width="3.2" height="8.2" fill="#626262"/>
<rect x="1232.6" y="437.7" width="5.6" height="6.9" fill="#4b4b4b"/>
<rect x="1555.3" y="476.5" width="9.3" height="5.9" fill="#3c3c3c"/>
<rect x="147.2" y="491.9" width="8.1" height="7.2" fill="#2a2a2a"/>
<rect x="598.1" y="579.8" width="8.9" height="6.5" fill="#4b4b4b"/>
<rect x="1096.9" y="573.7" width="5.8" height="8.4" fill="#2a2a2a"/>
<rect x="723.1" y="496.3" width="3.5" height="6.9" fill="#626262"/>
<rect x="1793.3" y="491.6" width="4.6" height="9.8" fill="#4b4b4b"/>
<rect x="174.1" y="444.2" width="5.9" height="8.5" fill="#4b4b4b"/>
<rect x="519.9" y="556.3" width="4.1" height="9.1" fill="#626262"/>
<rect x="915.8" y="507.1" width="5.7" height="6.3" fill="#303030"/>
<rect x="579.2" y="484.7" width="9.4" height="10.0" fill="#363636"/>
<rect x="1093.7" y="564.7" width="3.4" height="6.2" fill="#363636"/>
<rect x="255.2" y="553.3" width="8.5" height="6.3" fill="#3c3c3c"/>
<rect x="1560.1" y="576.7" width="4.9" height="9.7" fill="#525252"/>
<rect x="279.7" y="488.0" width="8.7" height="9.8" fill="#444444"/>
<rect x="239.0" y="542.1" width="4.2" height="5.7" fill="#303030"/>
<rect x="1006.7" y="558.3" width="8.6" height="8.3" fill="#303030"/>
<rect x="867.6" y="498.9" width="6.7" height="8.4" fill="#4b4b4b"/>
<rect x="1624.6" y="577.6" width="4.3" height="5.4" fill="#444444"/>
<rect x="1720.9" y="457.8" width="8.8" height="8.5" fill="#2a2a2a"/>
<rect x="910.1" y="528.3" width="8.6" height="5.0" fill="#626262"/>
<rect x="689.9" y="543.3" width="9.7" height="9.4" fill="#626262"/>
<rect x="1724.6" y="547.6" width="4.6" height="7.2" fill="#3c3c3c"/>
<rect x="1028.7" y="482.2" width="3.9" height="8.7" fill="#4b4b4b"/>
<rect x="1351.1" y="475.1" width="7.6" height="8.8" fill="#363636"/>
<rect x="1790.1" y="522.8" width="9.2" height="5.6" fill="#363636"/>
<rect x="1600.9" y="518.7" width="7.5" height="7.3" fill="#626262"/>
<rect x="1697.6" y="512.1" width="5.5" height="8.5" fill="#525252"/>
<rect x="647.1" y="551.9" width="7.9" height="8.4" fill="#363636"/>
<rect x="780.2" y="433.9" width="7.4" height="6.5" fill="#3c3c3c"/>
<rect x="1300.3" y="578.3" width="4.4" height="8.8" fill="#444444"/>
<rect x="146.1" y="504.9" width="8.1" height="6.4" fill="#303030"/>
<rect x="1456.7" y="556.3" width="3.6" height="6.2" fill="#363636"/>
<rect x="656.6" y="485.0" width="6.4" height="6.3" fill="#2a2a2a"/>
<rect x="1672.2" y="458.9" width="4.9" height="5.3" fill="#2a2a2a"/>
<rect x="560.9" y="548.6" width="8.1" height="6.7" fill="#626262"/>
<rect x="357.0" y="516.9" width="9.9" height="9.0" fill="#363636"/>
<rect x="1524.5" y="485.9" width="5.1" height="5.1" fill="#444444"/>
<rect x="1454.6" y="550.3" width="3.7" height="7.9" fill="#3c3c3c"/>
<rect x="1449.2" y="490.9" width="6.3" height="9.1" fill="#303030"/>
<rect x="1501.0" y="494.2" width="6.0" height="5.1" fill="#3c3c3c"/>
<rect x="301.5" y="521.8" width="4.7" height="6.3" fill="#525252"/>
<rect x="994.0" y="470.4" width="3.4" height="6.1" fill="#2a2a2a"/>
<rect x="490.7" y="463.4" width="7.5" height="8.5" fill="#3c3c3c"/>
<rect x="463.4" y="466.9" width="7.6" height="6.3" fill="#363636"/>
<rect x="224.8" y="492.7" width="5.4" height="8.5" fill="#444444"/>
<rect x="784.4" y="502.9" width="5.1" height="8.9" fill="#4b4b4b"/>
<rect x="270.1" y="422.3" width="6.6" height="5.8" fill="#3c3c3c"/>
<rect x="893.5" y="447.6" width="3.8" height="7.5" fill="#4b4b4b"/>
<rect x="918.1" y="466.8" width="3.5" height="8.3" fill="#525252"/>
<rect x="918.8" y="535.1" width="8.4" height="6.9" fill="#626262"/>
<rect x="1425.5" y="537.2" width="5.2" height="5.3" fill="#626262"/>
<rect x="268.0" y="570.8" width="3.9" height="9.3" fill="#363636"/>
<rect x="226.7" y="530.3" width="3.2" height="8.3" fill="#4b4b4b"/>
<rect x="1643.1" y="528.0" width="6.7" height="8.5" fill="#4b4b4b"/>
<rect x="395.3" y="504.4" width="8.8" height="5.8" fill="#363636"/>
<rect x="768.2" y="551.2" width="8.0" height="6.8" fill="#3c3c3c"/>
<rect x="887.4" y="507.8" width="3.6" height="9.7" fill="#525252"/>
<rect x="911.9" y="576.6" width="7.2" height="6.4" fill="#626262"/>
<rect x="1481.8" y="471.6" width="4.7" height="6.3" fill="#626262"/>
<rect x="1483.1" y="532.2" width="9.8" height="8.1" fill="#4b4b4b"/>
<rect x="410.1" y="540.6" width="5.4" height="5.9" fill="#525252"/>
<rect x="215.3" y="414.0" width="4.6" height="6.7" fill="#444444"/>
<rect x="1135.7" y="566.9" width="9.7" height="6.6" fill="#4b4b4b"/>
<rect x="596.1" y="574.3" width="3.1" height="8.4" fill="#3c3c3c"/>
<rect x="1487.8" y="523.5" width="3.4" height="9.4" fill="#363636"/>
<rect x="1383.8" y="552.2" width="4.8" height="8.3" fill="#525252"/>
<rect x="852.1" y="466.2" width="4.7" height="8.6" fill="#2a2a2a"/>
<rect x="698.7" y="557.5" width="8.9" height="9.4" fill="#363636"/>
<rect x="1555.1" y="576.3" width="9.1" height="7.7" fill="#2a2a2a"/>
<rect x="1448.7" y="557.2" width="9.9" height="9.7" fill="#626262"/>
<rect x="1430.8" y="547.0" width="9.1" height="6.1" fill="#4b4b4b"/>
<rect x="239.2" y="425.5" width="8.2" height="6.0" fill="#626262"/>
<rect x="641.5" y="495.0" width="5.6" height="8.2" fill="#626262"/>
<rect x="653.9" y="472.6" width="8.9" height="8.7" fill="#4b4b4b"/>
<rect x="817.7" y="563.7" width="7.7" height="6.0" fill="#4b4b4b"/>
<rect x="1029.1" y="571.7" width="7.6" height="9.3" fill="#2a2a2a"/>
<rect x="893.1" y="510.8" width="3.2" height="5.7" fill="#303030"/>
<rect x="1367.1" y="550.3" width="4.5" height="9.4" fill="#525252"/>
<rect x="384.9" y="522.3" width="3.5" height="7.1" fill="#4b4b4b"/>
<rect x="625.9" y="469.9" width="8.1" height="5.9" fill="#2a2a2a"/>
<rect x="1643.8" y="507.7" width="8.3" height="9.3" fill="#4b4b4b"/>
<rect x="210.4" y="423.4" width="6.5" height="9.5" fill="#3c3c3c"/>
<rect x="975.6" y="572.5" width="6.9" height="5.7" fill="#626262"/>
<rect x="1465.1" y="486.1" width="7.2" height="6.3" fill="#444444"/>
<rect x="512.1" y="450.8" width="7.4" height="5.3" fill="#2a2a2a"/>
<rect x="414.5" y="516.5" width="9.3" height="6.0" fill="#303030"/>
<rect x="1374.4" y="535.1" width="8.0" height="6.4" fill="#525252"/>
<rect x="1668.7" y="422.9" width="9.6" height="7.2" fill="#303030"/>
<rect x="1574.1" y="566.6" width="6.9" height="7.1" fill="#4b4b4b"/>
<rect x="890.5" y="522.6" width="10.0" height="6.7" fill="#3c3c3c"/>
<rect x="616.4" y="485.0" width="8.9" height="8.8" fill="#626262"/>
<rect x="510.7" y="473.8" width="5.7" height="5.3" fill="#303030"/>
<rect x="713.4" y="486.3" width="5.5" height="8.5" fill="#525252"/>
<rect x="1200.9" y="493.1" width="8.8" height="7.7" fill="#2a2a2a"/>
<rect x="1542.2" y="537.8" width="5.5" height="8.1" fill="#525252"/>
<rect x="1713.8" y="519.4" width="4.1" height="8.3" fill="#2a2a2a"/>
<rect x="1254.0" y="471.8" width="9.6" height="7.7" fill="#525252"/>
<rect x="1209.9" y="462.6" width="4.0" height="9.5" fill="#2a2a2a"/>
<rect x="1470.4" y="488.9" width="4.9" height="7.6" fill="#2a2a2a"/>
<rect x="706.3" y="504.4" width="9.5" height="8.2" fill="#626262"/>
<rect x="677.1" y="553.6" width="4.1" height="8.4" fill="#2a2a2a"/>
<rect x="217.3" y="458.9" width="8.1" height="8.6" fill="#303030"/>
<rect x="1042.6" y="570.7" width="3.6" height="9.6" fill="#525252"/>
<rect x="1522.2" y="420.8" width="6.5" height="8.7" fill="#525252"/>
<rect x="276.9" y="562.4" width="8.3" height="8.0" fill="#444444"/>
<rect x="184.7" y="423.5" width="3.9" height="5.1" fill="#363636"/>
<rect x="1758.9" y="487.9" width="5.7" height="6.3" fill="#3c3c3c"/>
<rect x="929.2" y="418.2" width="7.7" height="9.5" fill="#363636"/>
<rect x="1161.9" y="567.9" width="8.5" height="7.7" fill="#2a2a2a"/>
<rect x="876.5" y="563.8" width="7.2" height="6.7" fill="#525252"/>
<rect x="1272.6" y="440.6" width="7.5" height="7.5" fill="#2a2a2a"/>
<rect x="726.6" y="533.9" width="4.3" height="6.9" fill="#525252"/>
<rect x="679.4" y="495.5" width="7.1" height="9.9" fill="#363636"/>
<rect x="650.2" y="478.0" width="4.9" height="9.5" fill="#2a2a2a"/>
<rect x="1778.6" y="531.0" width="5.2" height="8.8" fill="#444444"/>
<rect x="1461.2" y="471.3" width="7.0" height="7.7" fill="#444444"/>
<rect x="1557.2" y="582.1" width="6.4" height="9.1" fill="#2a2a2a"/>
<rect x="370.4" y="543.4" width="7.0" height="9.5" fill="#525252"/>
<rect x="1300.5" y="414.7" width="7.1" height="5.7" fill="#525252"/>
<rect x="872.0" y="476.6" width="3.2" height="9.2" fill="#444444"/>
<rect x="479.9" y="525.2" width="4.9" height="6.9" fill="#525252"/>
<rect x="1407.3" y="531.8" width="7.5" height="6.4" fill="#4b4b4b"/>
<rect x="792.3" y="575.5" width="6.3" height="5.6" fill="#363636"/>
<rect x="1545.3" y="559.8" width="4.8" height="7.5" fill="#626262"/>
<rect x="1126.0" y="562.9" width="3.6" height="6.5" fill="#363636"/>
<rect x="1721.7" y="523.7" width="8.3" height="8.2" fill="#444444"/>
<rect x="1647.8" y="451.6" width="9.3" height="8.1" fill="#303030"/>
<rect x="1012.6" y="559.3" width="6.1" height="5.5" fill="#626262"/>
<rect x="1468.8" y="529.9" width="8.2" height="6.2" fill="#626262"/>
<rect x="925.5" y="504.1" width="4.4" height="6.3" fill="#303030"/>
<rect x="1048.0" y="482.9" width="4.2" height="5.7" fill="#626262"/>
<rect x="906.6" y="572.6" width="6.9" height="5.5" fill="#626262"/>
<rect x="1395.6" y="514.2" width="4.1" height="9.4" fill="#4b4b4b"/>
<rect x="756.2" y="433.1" width="9.8" height="7.5" fill="#444444"/>
<rect x="765.2" y="507.1" width="5.2" height="5.1" fill="#3c3c3c"/>
<rect x="887.7" y="576.7" width="6.2" height="6.8" fill="#4b4b4b"/>
<rect x="925.2" y="572.0" width="4.4" height="9.8" fill="#363636"/>
<rect x="723.9" y="516.8" width="5.1" height="9.8" fill="#3c3c3c"/>
<rect x="1307.6" y="513.7" width="5.9" height="6.0" fill="#303030"/>
<rect x="465.3" y="500.3" width="3.8" height="9.2" fill="#303030"/>
<rect x="1265.7" y="571.5" width="9.9" height="8.4" fill="#2a2a2a"/>
<rect x="567.0" y="579.7" width="3.6" height="6.4" fill="#2a2a2a"/>
<rect x="982.9" y="473.5" width="8.0" height="7.7" fill="#363636"/>
<rect x="324.5" y="513.5" width="8.2" height="9.8" fill="#525252"/>
<rect x="798.7" y="532.6" width="3.5" height="9.2" fill="#525252"/>
<rect x="305.9" y="540.9" width="4.9" height="5.7" fill="#4b4b4b"/>
<rect x="1577.9" y="417.8" width="3.2" height="5.3" fill="#525252"/>
<rect x="1163.8" y="525.1" width="4.1" height="8.6" fill="#363636"/>
<rect x="721.6" y="567.0" width="4.8" height="5.7" fill="#363636"/>
<rect x="1082.0" y="509.3" width="5.9" height="7.7" fill="#2a2a2a"/>
<rect x="918.0" y="421.1" width="9.8" height="10.0" fill="#2a2a2a"/>
<rect x="878.2" y="499.5" width="9.5" height="8.0" fill="#363636"/>
<rect x="452.6" y="458.2" width="8.4" height="8.8" fill="#4b4b4b"/>
<rect x="829.7" y="466.4" width="6.6" height="9.7" fill="#3c3c3c"/>
<rect x="1268.9" y="443.3" width="6.0" height="9.7" fill="#303030"/>
<rect x="838.5" y="442.2" width="3.3" height="5.6" fill="#363636"/>
<rect x="402.2" y="527.8" width="6.0" height="8.3" fill="#303030"/>
<rect x="522.8" y="493.4" width="7.9" height="8.3" fill="#303030"/>
<rect x="1227.6" y="470.1" width="3.3" height="7.1" fill="#525252"/>
<rect x="236.6" y="428.4" width="3.4" height="6.0" fill="#444444"/>
<rect x="288.1" y="499.4" width="6.4" height="6.0" fill="#626262"/>
<rect x="1062.4" y="490.1" width="3.4" height="7.9" fill="#626262"/>
<rect x="333.3" y="425.4" width="6.1" height="8.3" fill="#2a2a2a"/>
<rect x="1088.2" y="580.0" width="3.3" height="8.6" fill="#303030"/>
<rect x="309.9" y="468.7" width="3.4" height="7.9" fill="#444444"/>
<rect x="703.2" y="532.2" width="5.6" height="8.6" fill="#444444"/>
<rect x="391.7" y="488.4" width="4.3" height="5.7" fill="#525252"/>
<rect x="1567.7" y="522.2" width="4.1" height="9.4" fill="#303030"/>
<rect x="313.7" y="478.7" width="7.7" height="5.0" fill="#2a2a2a"/>
<rect x="1583.4" y="428.3" width="5.1" height="8.0" fill="#626262"/>
<rect x="1198.6" y="575.1" width="7.0" height="6.0" fill="#3c3c3c"/>
<rect x="929.0" y="471.4" width="5.6" height="7.6" fill="#3c3c3c"/>
<rect x="1157.5" y="526.1" width="3.9" height="5.1" fill="#525252"/>
<rect x="1232.1" y="445.5" width="6.7" height="6.4" fill="#626262"/>
<rect x="611.3" y="555.1" width="3.2" height="6.3" fill="#4b4b4b"/>
<rect x="265.2" y="475.3" width="7.6" height="9.1" fill="#525252"/>
<rect x="1216.1" y="528.9" width="7.4" height="8.5" fill="#444444"/>
<rect x="1038.5" y="472.1" width="5.9" height="7.2" fill="#444444"/>
<rect x="738.8" y="459.9" width="6.4" height="8.6" fill="#4b4b4b"/>
<rect x="1572.6" y="488.7" width="5.9" height="6.6" fill="#363636"/>
<rect x="1313.5" y="473.9" width="3.4" height="8.4" fill="#3c3c3c"/>
<rect x="675.6" y="558.8" width="9.2" height="7.1" fill="#3c3c3c"/>
<rect x="375.9" y="547.3" width="6.6" height="5.6" fill="#444444"/>
<rect x="856.3" y="481.6" width="7.2" height="6.3" fill="#2a2a2a"/>
<rect x="776.7" y="445.6" width="8.5" height="8.7" fill="#303030"/>
<rect x="678.0" y="529.5" width="7.4" height="5.9" fill="#2a2a2a"/>
<rect x="1090.4" y="511.4" width="4.6" height="5.5" fill="#3c3c3c"/>
<rect x="511.4" y="513.6" width="7.0" height="6.6" fill="#2a2a2a"/>
<rect x="1077.3" y="501.7" width="9.0" height="5.5" fill="#626262"/>
<rect x="502.9" y="470.4" width="5.8" height="8.3" fill="#525252"/>
<rect x="528.5" y="513.8" width="5.6" height="5.2" fill="#444444"/>
<rect x="571.3" y="545.9" width="6.4" height="9.9" fill="#2a2a2a"/>
<rect x="1230.8" y="492.5" width="7.2" height="5.9" fill="#626262"/>
<rect x="1038.4" y="479.8" width="8.6" height="5.5" fill="#444444"/>
<rect x="1390.4" y="541.2" width="9.6" height="9.4" fill="#444444"/>
<rect x="129.0" y="483.8" width="6.2" height="9.6" fill="#4b4b4b"/>
<rect x="150.6" y="394.7" width="14.9" height="18.4" fill="#454545"/>
<rect x="150.6" y="390.7" width="14.9" height="11.5" fill="#454545"/>
<rect x="150.6" y="355.4" width="14.9" height="15.7" fill="#454545"/>
<rect x="176.7" y="386.6" width="7.1" height="16.9" fill="#454545"/>
<rect x="141.5" y="385.0" width="5.0" height="15.9" fill="#454545"/>
<rect x="336.0" y="384.0" width="11.1" height="16.9" fill="#454545"/>
<rect x="122.5" y="420.5" width="7.8" height="11.5" fill="#454545"/>
<rect x="141.5" y="424.5" width="5.0" height="17.0" fill="#454545"/>
<rect x="176.7" y="424.5" width="7.1" height="17.7" fill="#454545"/>
<rect x="214.7" y="425.0" width="5.8" height="12.5" fill="#454545"/>
<rect x="151.0" y="435.4" width="9.0" height="21.7" fill="#454545"/>
<rect x="160.0" y="435.4" width="8.3" height="21.7" fill="#454545"/>
<rect x="170.0" y="438.0" width="5.0" height="18.5" fill="#454545"/>
<rect x="174.7" y="438.0" width="2.4" height="18.5" fill="#454545"/>
<rect x="179.5" y="435.4" width="7.7" height="21.7" fill="#454545"/>
<rect x="228.9" y="436.7" width="5.1" height="19.8" fill="#454545"/>
<rect x="258.7" y="423.9" width="5.0" height="14.9" fill="#454545"/>
<rect x="264.1" y="429.3" width="8.5" height="13.6" fill="#454545"/>
<rect x="264.1" y="438.0" width="16.0" height="22.5" fill="#454545"/>
<rect x="264.1" y="453.0" width="13.2" height="14.3" fill="#454545"/>
<rect x="256.0" y="450.3" width="3.7" height="17.0" fill="#454545"/>
<rect x="285.8" y="436.7" width="5.7" height="18.4" fill="#454545"/>
<rect x="287.9" y="450.0" width="9.8" height="15.9" fill="#454545"/>
<rect x="303.5" y="420.5" width="20.0" height="22.4" fill="#454545"/>
<rect x="303.5" y="424.5" width="20.0" height="14.3" fill="#454545"/>
<rect x="325.1" y="431.3" width="9.2" height="14.2" fill="#454545"/>
<rect x="336.0" y="420.5" width="11.1" height="21.0" fill="#454545"/>
<rect x="340.0" y="409.6" width="9.2" height="16.9" fill="#454545"/>
<rect x="351.5" y="423.0" width="12.6" height="15.8" fill="#454545"/>
<rect x="370.5" y="421.8" width="3.7" height="17.0" fill="#454545"/>
<rect x="383.5" y="431.3" width="14.5" height="23.8" fill="#454545"/>
<rect x="307.5" y="449.0" width="6.4" height="14.2" fill="#454545"/>
<rect x="310.2" y="453.0" width="10.5" height="14.3" fill="#454545"/>
<rect x="327.2" y="450.3" width="6.4" height="21.0" fill="#454545"/>
<rect x="344.1" y="445.0" width="7.8" height="16.9" fill="#454545"/>
<rect x="342.8" y="458.4" width="9.1" height="12.9" fill="#454545"/>
<rect x="121.9" y="453.0" width="12.5" height="18.3" fill="#454545"/>
<rect x="121.9" y="456.0" width="12.5" height="12.5" fill="#454545"/>
<rect x="139.5" y="455.7" width="4.4" height="21.1" fill="#454545"/>
<rect x="155.1" y="463.8" width="7.1" height="13.0" fill="#454545"/>
<rect x="167.3" y="463.8" width="10.4" height="13.0" fill="#454545"/>
<rect x="180.1" y="462.5" width="10.5" height="17.0" fill="#454545"/>
<rect x="204.5" y="461.0" width="6.4" height="15.8" fill="#454545"/>
<rect x="210.6" y="468.0" width="8.5" height="13.5" fill="#454545"/>
<rect x="219.5" y="461.0" width="7.0" height="15.8" fill="#454545"/>
<rect x="233.7" y="458.4" width="5.0" height="14.3" fill="#454545"/>
<rect x="389.5" y="462.5" width="12.0" height="14.3" fill="#454545"/>
<rect x="264.8" y="472.0" width="9.8" height="19.7" fill="#454545"/>
<rect x="277.7" y="472.0" width="3.8" height="18.3" fill="#454545"/>
<rect x="182.8" y="484.0" width="12.6" height="13.5" fill="#454545"/>
<rect x="202.5" y="484.0" width="5.7" height="13.5" fill="#454545"/>
<rect x="368.5" y="473.3" width="9.0" height="14.2" fill="#454545"/>
<rect x="473.7" y="394.7" width="9.1" height="18.7" fill="#454545"/>
<rect x="491.0" y="394.7" width="10.1" height="18.7" fill="#454545"/>
<rect x="507.2" y="394.7" width="6.5" height="18.7" fill="#454545"/>
<rect x="726.8" y="394.7" width="8.1" height="18.7" fill="#454545"/>
<rect x="815.2" y="385.6" width="6.3" height="17.7" fill="#454545"/>
<rect x="419.8" y="423.2" width="9.1" height="15.6" fill="#454545"/>
<rect x="433.0" y="424.2" width="6.1" height="13.6" fill="#454545"/>
<rect x="442.2" y="425.2" width="6.1" height="12.6" fill="#454545"/>
<rect x="467.6" y="425.2" width="7.1" height="13.6" fill="#454545"/>
<rect x="494.0" y="424.2" width="7.1" height="13.6" fill="#454545"/>
<rect x="492.0" y="434.4" width="9.1" height="12.6" fill="#454545"/>
<rect x="507.2" y="434.4" width="6.1" height="12.6" fill="#454545"/>
<rect x="522.5" y="435.4" width="8.1" height="23.8" fill="#454545"/>
<rect x="449.3" y="437.4" width="9.1" height="21.7" fill="#454545"/>
<rect x="467.6" y="435.4" width="9.1" height="21.7" fill="#454545"/>
<rect x="473.7" y="435.4" width="8.1" height="12.6" fill="#454545"/>
<rect x="558.1" y="435.4" width="6.1" height="23.8" fill="#454545"/>
<rect x="573.3" y="435.4" width="6.1" height="21.7" fill="#454545"/>
<rect x="588.5" y="439.4" width="6.1" height="17.7" fill="#454545"/>
<rect x="590.6" y="449.6" width="11.2" height="15.6" fill="#454545"/>
<rect x="608.9" y="449.6" width="7.1" height="15.6" fill="#454545"/>
<rect x="632.3" y="435.4" width="6.1" height="11.6" fill="#454545"/>
<rect x="644.5" y="435.4" width="7.1" height="11.6" fill="#454545"/>
<rect x="660.7" y="429.3" width="6.1" height="17.7" fill="#454545"/>
<rect x="686.1" y="420.1" width="14.2" height="13.6" fill="#454545"/>
<rect x="691.2" y="409.0" width="4.0" height="18.7" fill="#454545"/>
<rect x="715.6" y="420.1" width="9.1" height="12.6" fill="#454545"/>
<rect x="684.1" y="437.4" width="8.1" height="17.7" fill="#454545"/>
<rect x="682.1" y="451.6" width="7.1" height="15.6" fill="#454545"/>
<rect x="706.5" y="439.4" width="8.1" height="20.7" fill="#454545"/>
<rect x="725.8" y="437.4" width="9.1" height="19.7" fill="#454545"/>
<rect x="732.9" y="427.3" width="8.1" height="15.6" fill="#454545"/>
<rect x="744.1" y="435.4" width="15.2" height="19.7" fill="#454545"/>
<rect x="752.2" y="436.4" width="7.1" height="19.7" fill="#454545"/>
<rect x="735.9" y="417.1" width="13.2" height="15.6" fill="#454545"/>
<rect x="770.5" y="429.3" width="5.1" height="13.6" fill="#454545"/>
<rect x="779.6" y="447.6" width="8.1" height="17.7" fill="#454545"/>
<rect x="786.8" y="439.4" width="7.1" height="15.6" fill="#454545"/>
<rect x="800.0" y="449.6" width="8.1" height="17.7" fill="#454545"/>
<rect x="815.2" y="423.2" width="6.3" height="19.7" fill="#454545"/>
<rect x="784.7" y="463.8" width="8.1" height="11.6" fill="#454545"/>
<rect x="801.0" y="463.8" width="6.1" height="12.6" fill="#454545"/>
<rect x="638.4" y="463.8" width="6.1" height="12.6" fill="#454545"/>
<rect x="422.9" y="453.7" width="11.2" height="13.6" fill="#454545"/>
<rect x="446.2" y="451.6" width="22.3" height="15.6" fill="#454545"/>
<rect x="481.8" y="453.7" width="9.1" height="13.6" fill="#454545"/>
<rect x="491.0" y="449.6" width="22.3" height="11.6" fill="#454545"/>
<rect x="515.4" y="453.7" width="6.1" height="13.6" fill="#454545"/>
<rect x="406.6" y="439.4" width="9.1" height="15.6" fill="#454545"/>
<rect x="443.2" y="439.4" width="7.1" height="15.6" fill="#454545"/>
<rect x="409.6" y="485.2" width="12.2" height="14.6" fill="#454545"/>
<rect x="548.9" y="486.2" width="10.1" height="15.6" fill="#454545"/>
<rect x="700.4" y="476.0" width="8.1" height="14.6" fill="#454545"/>
<rect x="716.6" y="476.0" width="10.1" height="15.6" fill="#454545"/>
<rect x="731.9" y="472.0" width="3.0" height="19.7" fill="#454545"/>
<rect x="649.5" y="482.1" width="8.1" height="13.6" fill="#454545"/>
<rect x="776.6" y="486.2" width="8.1" height="15.6" fill="#454545"/>
<rect x="771.5" y="494.3" width="8.1" height="15.6" fill="#454545"/>
<rect x="752.2" y="493.3" width="9.1" height="16.6" fill="#454545"/>
<rect x="737.0" y="502.5" width="8.1" height="16.6" fill="#454545"/>
<rect x="762.4" y="502.5" width="6.1" height="16.6" fill="#454545"/>
<rect x="572.3" y="516.7" width="9.1" height="17.7" fill="#454545"/>
<rect x="563.1" y="516.7" width="4.0" height="17.7" fill="#454545"/>
<rect x="590.6" y="516.7" width="4.0" height="17.7" fill="#454545"/>
<rect x="634.3" y="522.8" width="7.1" height="17.7" fill="#454545"/>
<rect x="653.6" y="522.8" width="20.3" height="17.7" fill="#454545"/>
<rect x="667.8" y="512.6" width="6.1" height="17.7" fill="#454545"/>
<rect x="699.3" y="524.8" width="9.1" height="15.6" fill="#454545"/>
<rect x="714.6" y="524.8" width="4.0" height="15.6" fill="#454545"/>
<rect x="720.7" y="524.8" width="8.1" height="15.6" fill="#454545"/>
<rect x="734.9" y="524.8" width="3.0" height="15.6" fill="#454545"/>
<rect x="757.3" y="524.8" width="8.1" height="15.6" fill="#454545"/>
<rect x="631.2" y="541.1" width="6.1" height="17.7" fill="#454545"/>
<rect x="533.7" y="549.2" width="8.1" height="18.3" fill="#454545"/>
<rect x="683.1" y="551.3" width="7.1" height="16.2" fill="#454545"/>
<rect x="697.3" y="551.3" width="6.1" height="16.2" fill="#454545"/>
<rect x="419.8" y="553.3" width="10.1" height="14.2" fill="#454545"/>
<rect x="820.5" y="384.6" width="5.1" height="18.7" fill="#454545"/>
<rect x="837.8" y="384.6" width="8.1" height="18.7" fill="#454545"/>
<rect x="894.7" y="394.7" width="10.1" height="18.7" fill="#454545"/>
<rect x="982.1" y="385.6" width="8.1" height="17.7" fill="#454545"/>
<rect x="995.3" y="385.6" width="4.0" height="17.7" fill="#454545"/>
<rect x="1018.7" y="385.6" width="7.1" height="17.7" fill="#454545"/>
<rect x="1090.9" y="385.6" width="5.1" height="17.7" fill="#454545"/>
<rect x="1203.7" y="395.7" width="6.1" height="17.7" fill="#454545"/>
<rect x="820.5" y="423.2" width="5.1" height="19.7" fill="#454545"/>
<rect x="837.8" y="423.2" width="9.1" height="19.7" fill="#454545"/>
<rect x="843.9" y="435.4" width="6.1" height="11.6" fill="#454545"/>
<rect x="861.2" y="439.4" width="4.0" height="17.7" fill="#454545"/>
<rect x="867.3" y="447.6" width="8.1" height="19.7" fill="#454545"/>
<rect x="872.3" y="437.4" width="8.1" height="17.7" fill="#454545"/>
<rect x="885.6" y="431.3" width="21.3" height="15.6" fill="#454545"/>
<rect x="897.8" y="425.2" width="9.1" height="13.6" fill="#454545"/>
<rect x="885.6" y="449.6" width="9.1" height="13.6" fill="#454545"/>
<rect x="901.8" y="439.4" width="9.1" height="15.6" fill="#454545"/>
<rect x="916.0" y="425.2" width="7.1" height="15.6" fill="#454545"/>
<rect x="912.0" y="451.6" width="7.1" height="15.6" fill="#454545"/>
<rect x="936.4" y="431.3" width="9.1" height="17.7" fill="#454545"/>
<rect x="940.4" y="443.5" width="11.2" height="19.7" fill="#454545"/>
<rect x="928.2" y="451.6" width="7.1" height="15.6" fill="#454545"/>
<rect x="960.8" y="451.6" width="7.1" height="15.6" fill="#454545"/>
<rect x="975.0" y="449.6" width="6.1" height="15.6" fill="#454545"/>
<rect x="977.0" y="424.2" width="13.2" height="18.7" fill="#454545"/>
<rect x="979.1" y="437.4" width="9.1" height="19.7" fill="#454545"/>
<rect x="995.3" y="425.2" width="4.0" height="15.6" fill="#454545"/>
<rect x="1004.5" y="425.2" width="5.1" height="15.6" fill="#454545"/>
<rect x="991.3" y="449.6" width="8.1" height="15.6" fill="#454545"/>
<rect x="999.4" y="449.6" width="7.1" height="15.6" fill="#454545"/>
<rect x="1009.6" y="449.6" width="7.1" height="15.6" fill="#454545"/>
<rect x="1018.7" y="449.6" width="10.1" height="17.7" fill="#454545"/>
<rect x="1019.7" y="424.2" width="11.2" height="16.6" fill="#454545"/>
<rect x="1032.9" y="425.2" width="5.1" height="15.6" fill="#454545"/>
<rect x="1040.1" y="449.6" width="6.1" height="15.6" fill="#454545"/>
<rect x="1046.2" y="435.4" width="11.2" height="21.7" fill="#454545"/>
<rect x="1059.4" y="435.4" width="17.3" height="21.7" fill="#454545"/>
<rect x="1055.3" y="420.1" width="5.1" height="13.6" fill="#454545"/>
<rect x="1077.7" y="425.2" width="7.1" height="17.7" fill="#454545"/>
<rect x="1090.9" y="425.2" width="5.1" height="17.7" fill="#454545"/>
<rect x="1089.9" y="437.4" width="13.2" height="19.7" fill="#454545"/>
<rect x="1135.6" y="425.2" width="9.1" height="15.6" fill="#454545"/>
<rect x="1135.6" y="435.4" width="11.2" height="21.7" fill="#454545"/>
<rect x="1154.9" y="437.4" width="5.1" height="19.7" fill="#454545"/>
<rect x="1166.1" y="433.4" width="13.2" height="21.7" fill="#454545"/>
<rect x="1186.4" y="449.6" width="11.2" height="17.7" fill="#454545"/>
<rect x="1200.7" y="439.4" width="17.3" height="17.7" fill="#454545"/>
<rect x="1220.0" y="425.2" width="5.1" height="15.6" fill="#454545"/>
<rect x="1232.2" y="433.4" width="4.0" height="13.6" fill="#454545"/>
<rect x="833.7" y="449.6" width="7.1" height="13.6" fill="#454545"/>
<rect x="828.6" y="413.0" width="7.1" height="15.6" fill="#454545"/>
<rect x="868.3" y="409.0" width="7.1" height="15.6" fill="#454545"/>
<rect x="893.7" y="464.9" width="10.1" height="11.6" fill="#454545"/>
<rect x="912.0" y="463.8" width="11.2" height="17.7" fill="#454545"/>
<rect x="930.3" y="463.8" width="5.1" height="15.6" fill="#454545"/>
<rect x="880.5" y="478.1" width="5.1" height="13.6" fill="#454545"/>
<rect x="894.7" y="487.2" width="11.2" height="14.6" fill="#454545"/>
<rect x="1123.4" y="469.9" width="11.2" height="13.6" fill="#454545"/>
<rect x="1129.5" y="488.2" width="5.1" height="11.6" fill="#454545"/>
<rect x="1165.1" y="488.2" width="4.0" height="11.6" fill="#454545"/>
<rect x="880.5" y="502.5" width="22.3" height="17.7" fill="#454545"/>
<rect x="907.9" y="502.5" width="10.1" height="15.6" fill="#454545"/>
<rect x="927.2" y="502.5" width="5.1" height="17.7" fill="#454545"/>
<rect x="941.5" y="501.5" width="10.1" height="16.6" fill="#454545"/>
<rect x="954.7" y="502.5" width="10.1" height="15.6" fill="#454545"/>
<rect x="972.0" y="502.5" width="7.1" height="15.6" fill="#454545"/>
<rect x="1089.9" y="502.5" width="7.1" height="17.7" fill="#454545"/>
<rect x="1118.3" y="502.5" width="8.1" height="17.7" fill="#454545"/>
<rect x="1147.8" y="502.5" width="6.1" height="17.7" fill="#454545"/>
<rect x="1155.9" y="500.4" width="4.0" height="17.7" fill="#454545"/>
<rect x="1171.2" y="502.5" width="7.1" height="15.6" fill="#454545"/>
<rect x="1185.4" y="502.5" width="5.1" height="15.6" fill="#454545"/>
<rect x="1203.7" y="502.5" width="6.1" height="15.6" fill="#454545"/>
<rect x="1215.9" y="502.5" width="4.0" height="15.6" fill="#454545"/>
<rect x="1231.2" y="500.4" width="7.1" height="19.7" fill="#454545"/>
<rect x="822.5" y="500.4" width="3.0" height="15.6" fill="#454545"/>
<rect x="1080.7" y="511.6" width="6.1" height="13.6" fill="#454545"/>
<rect x="999.4" y="512.6" width="7.1" height="13.6" fill="#454545"/>
<rect x="1152.9" y="516.7" width="5.1" height="17.7" fill="#454545"/>
<rect x="1164.1" y="522.8" width="6.1" height="17.7" fill="#454545"/>
<rect x="827.6" y="526.9" width="12.2" height="13.6" fill="#454545"/>
<rect x="843.9" y="526.9" width="4.0" height="13.6" fill="#454545"/>
<rect x="1008.5" y="530.9" width="13.2" height="18.7" fill="#454545"/>
<rect x="1029.9" y="528.9" width="5.1" height="19.7" fill="#454545"/>
<rect x="1096.0" y="530.9" width="9.1" height="18.7" fill="#454545"/>
<rect x="1119.3" y="541.1" width="11.2" height="17.7" fill="#454545"/>
<rect x="1141.7" y="541.1" width="9.1" height="17.7" fill="#454545"/>
<rect x="1161.0" y="541.1" width="8.1" height="17.7" fill="#454545"/>
<rect x="995.3" y="541.1" width="11.2" height="17.7" fill="#454545"/>
<rect x="1301.5" y="384.6" width="15.2" height="17.7" fill="#454545"/>
<rect x="1336.0" y="383.5" width="16.2" height="19.7" fill="#454545"/>
<rect x="1367.6" y="384.6" width="10.1" height="17.7" fill="#454545"/>
<rect x="1262.9" y="395.7" width="5.1" height="17.7" fill="#454545"/>
<rect x="1278.1" y="395.7" width="7.1" height="17.7" fill="#454545"/>
<rect x="1289.3" y="424.2" width="6.1" height="16.6" fill="#454545"/>
<rect x="1300.5" y="423.2" width="17.3" height="18.7" fill="#454545"/>
<rect x="1336.0" y="423.2" width="16.2" height="18.7" fill="#454545"/>
<rect x="1367.6" y="423.2" width="10.1" height="18.7" fill="#454545"/>
<rect x="1393.0" y="423.2" width="31.5" height="15.6" fill="#454545"/>
<rect x="1415.3" y="431.3" width="13.2" height="23.8" fill="#454545"/>
<rect x="1414.3" y="451.6" width="9.1" height="15.6" fill="#454545"/>
<rect x="1409.2" y="462.8" width="15.2" height="14.6" fill="#454545"/>
<rect x="1445.8" y="420.1" width="11.2" height="18.7" fill="#454545"/>
<rect x="1473.3" y="423.2" width="5.1" height="17.7" fill="#454545"/>
<rect x="1258.8" y="423.2" width="10.1" height="17.7" fill="#454545"/>
<rect x="1255.7" y="439.4" width="14.2" height="23.8" fill="#454545"/>
<rect x="1253.7" y="447.6" width="6.1" height="17.7" fill="#454545"/>
<rect x="1274.0" y="439.4" width="11.2" height="17.7" fill="#454545"/>
<rect x="1300.5" y="449.6" width="9.1" height="17.7" fill="#454545"/>
<rect x="1319.8" y="439.4" width="6.1" height="17.7" fill="#454545"/>
<rect x="1353.3" y="439.4" width="14.2" height="17.7" fill="#454545"/>
<rect x="1377.7" y="439.4" width="8.1" height="17.7" fill="#454545"/>
<rect x="1386.9" y="451.6" width="5.1" height="15.6" fill="#454545"/>
<rect x="1399.1" y="451.6" width="5.1" height="15.6" fill="#454545"/>
<rect x="1406.2" y="439.4" width="6.1" height="17.7" fill="#454545"/>
<rect x="1448.9" y="449.6" width="7.1" height="17.7" fill="#454545"/>
<rect x="1467.2" y="449.6" width="10.1" height="17.7" fill="#454545"/>
<rect x="1476.3" y="439.4" width="29.5" height="17.7" fill="#454545"/>
<rect x="1512.9" y="429.3" width="7.1" height="27.8" fill="#454545"/>
<rect x="1521.0" y="439.4" width="14.2" height="17.7" fill="#454545"/>
<rect x="1547.5" y="447.6" width="8.1" height="20.7" fill="#454545"/>
<rect x="1555.6" y="437.4" width="9.1" height="19.7" fill="#454545"/>
<rect x="1571.9" y="439.4" width="8.1" height="15.6" fill="#454545"/>
<rect x="1580.0" y="435.4" width="9.1" height="21.7" fill="#454545"/>
<rect x="1594.2" y="435.4" width="21.3" height="21.7" fill="#454545"/>
<rect x="1618.6" y="439.4" width="5.1" height="25.8" fill="#454545"/>
<rect x="1630.8" y="439.4" width="13.2" height="17.7" fill="#454545"/>
<rect x="1653.2" y="439.4" width="8.3" height="21.7" fill="#454545"/>
<rect x="1606.4" y="462.8" width="11.2" height="14.6" fill="#454545"/>
<rect x="1523.1" y="462.8" width="4.0" height="18.7" fill="#454545"/>
<rect x="1493.6" y="463.8" width="15.2" height="15.6" fill="#454545"/>
<rect x="1444.8" y="463.8" width="9.1" height="13.6" fill="#454545"/>
<rect x="1464.1" y="472.0" width="8.1" height="18.7" fill="#454545"/>
<rect x="1590.2" y="477.1" width="9.1" height="13.6" fill="#454545"/>
<rect x="1301.5" y="469.9" width="6.1" height="15.6" fill="#454545"/>
<rect x="1313.7" y="467.9" width="6.1" height="17.7" fill="#454545"/>
<rect x="1352.3" y="463.8" width="7.1" height="15.6" fill="#454545"/>
<rect x="1339.1" y="463.8" width="6.1" height="15.6" fill="#454545"/>
<rect x="1275.1" y="463.8" width="5.1" height="13.6" fill="#454545"/>
<rect x="1274.0" y="488.2" width="13.2" height="12.6" fill="#454545"/>
<rect x="1298.4" y="488.2" width="6.1" height="12.6" fill="#454545"/>
<rect x="1253.7" y="498.4" width="5.1" height="12.6" fill="#454545"/>
<rect x="1262.9" y="501.5" width="4.0" height="17.7" fill="#454545"/>
<rect x="1301.5" y="502.5" width="7.1" height="15.6" fill="#454545"/>
<rect x="1317.8" y="502.5" width="6.1" height="12.6" fill="#454545"/>
<rect x="1334.0" y="482.1" width="5.1" height="13.6" fill="#454545"/>
<rect x="1346.2" y="482.1" width="6.1" height="13.6" fill="#454545"/>
<rect x="1380.8" y="502.5" width="6.1" height="12.6" fill="#454545"/>
<rect x="1408.2" y="502.5" width="6.1" height="12.6" fill="#454545"/>
<rect x="1476.3" y="502.5" width="9.1" height="12.6" fill="#454545"/>
<rect x="1504.8" y="498.4" width="7.1" height="12.6" fill="#454545"/>
<rect x="1512.9" y="492.3" width="8.1" height="18.7" fill="#454545"/>
<rect x="1530.2" y="492.3" width="7.1" height="18.7" fill="#454545"/>
<rect x="1565.8" y="498.4" width="6.1" height="12.6" fill="#454545"/>
<rect x="1618.6" y="497.4" width="8.1" height="13.6" fill="#454545"/>
<rect x="1627.8" y="487.2" width="10.1" height="14.6" fill="#454545"/>
<rect x="1643.0" y="487.2" width="6.1" height="14.6" fill="#454545"/>
<rect x="1315.7" y="516.7" width="8.1" height="18.7" fill="#454545"/>
<rect x="1335.0" y="516.7" width="10.1" height="17.7" fill="#454545"/>
<rect x="1351.3" y="516.7" width="7.1" height="17.7" fill="#454545"/>
<rect x="1421.4" y="516.7" width="10.1" height="17.7" fill="#454545"/>
<rect x="1441.8" y="516.7" width="19.3" height="17.7" fill="#454545"/>
<rect x="1468.2" y="516.7" width="6.1" height="17.7" fill="#454545"/>
<rect x="1485.5" y="516.7" width="5.1" height="17.7" fill="#454545"/>
<rect x="1507.8" y="516.7" width="5.1" height="17.7" fill="#454545"/>
<rect x="1533.2" y="516.7" width="4.0" height="17.7" fill="#454545"/>
<rect x="1600.3" y="516.7" width="7.1" height="19.7" fill="#454545"/>
<rect x="1273.0" y="526.9" width="15.2" height="14.6" fill="#454545"/>
<rect x="1266.9" y="533.0" width="9.1" height="15.6" fill="#454545"/>
<rect x="1298.4" y="526.9" width="6.1" height="13.6" fill="#454545"/>
<rect x="1316.7" y="530.9" width="7.1" height="18.7" fill="#454545"/>
<rect x="1633.9" y="530.9" width="10.1" height="18.7" fill="#454545"/>
<rect x="1643.0" y="528.9" width="3.0" height="19.7" fill="#454545"/>
<rect x="1701.5" y="385.4" width="5.9" height="17.3" fill="#454545"/>
<rect x="1725.2" y="383.5" width="5.9" height="19.3" fill="#454545"/>
<rect x="1675.0" y="420.9" width="6.9" height="17.3" fill="#454545"/>
<rect x="1685.8" y="420.9" width="5.9" height="17.3" fill="#454545"/>
<rect x="1701.5" y="422.8" width="6.9" height="19.3" fill="#454545"/>
<rect x="1725.2" y="422.8" width="5.9" height="19.3" fill="#454545"/>
<rect x="1738.0" y="434.6" width="6.9" height="13.4" fill="#454545"/>
<rect x="1751.7" y="428.7" width="4.9" height="17.3" fill="#454545"/>
<rect x="1769.5" y="420.9" width="6.9" height="21.3" fill="#454545"/>
<rect x="1719.3" y="436.6" width="7.9" height="19.3" fill="#454545"/>
<rect x="1781.3" y="450.4" width="11.8" height="17.3" fill="#454545"/>
<rect x="1775.4" y="438.6" width="4.9" height="23.2" fill="#454545"/>
<rect x="1758.6" y="422.8" width="5.9" height="13.4" fill="#454545"/>
<rect x="1661.2" y="438.6" width="12.8" height="17.3" fill="#454545"/>
<rect x="1659.2" y="450.4" width="8.9" height="17.3" fill="#454545"/>
<rect x="1661.2" y="460.2" width="10.8" height="31.1" fill="#454545"/>
<rect x="1676.9" y="450.4" width="4.9" height="17.3" fill="#454545"/>
<rect x="1686.8" y="452.4" width="4.9" height="19.3" fill="#454545"/>
<rect x="1759.6" y="499.6" width="8.9" height="17.3" fill="#454545"/>
<rect x="1785.2" y="493.7" width="8.9" height="17.3" fill="#454545"/>
<rect x="1747.8" y="531.1" width="8.9" height="19.3" fill="#454545"/>
<rect x="1767.5" y="531.1" width="4.9" height="19.3" fill="#454545"/>
<rect x="1790.1" y="531.1" width="4.9" height="19.3" fill="#454545"/>
<rect x="120.5" y="501.3" width="5.1" height="19.7" fill="#454545"/>
<rect x="132.7" y="515.5" width="6.1" height="21.7" fill="#454545"/>
<rect x="172.3" y="517.5" width="5.1" height="17.7" fill="#454545"/>
<rect x="237.4" y="512.4" width="8.1" height="12.6" fill="#454545"/>
<rect x="245.5" y="515.5" width="5.1" height="20.7" fill="#454545"/>
<rect x="266.9" y="515.5" width="9.1" height="20.7" fill="#454545"/>
<rect x="282.1" y="515.5" width="5.1" height="20.7" fill="#454545"/>
<rect x="306.5" y="515.5" width="7.1" height="19.7" fill="#454545"/>
<rect x="314.6" y="530.7" width="9.1" height="19.7" fill="#454545"/>
<rect x="357.3" y="503.3" width="10.1" height="11.6" fill="#454545"/>
<rect x="391.9" y="497.2" width="7.1" height="13.6" fill="#454545"/>
<rect x="233.3" y="555.1" width="8.1" height="18.7" fill="#454545"/>
<rect x="255.7" y="556.2" width="5.1" height="17.7" fill="#454545"/>
<rect x="238.4" y="575.5" width="12.2" height="17.7" fill="#454545"/>
<rect x="264.8" y="575.5" width="10.1" height="16.6" fill="#454545"/>
<rect x="367.5" y="580.5" width="11.2" height="12.6" fill="#454545"/>
<rect x="339.0" y="565.3" width="3.0" height="12.6" fill="#454545"/>
<rect x="419.3" y="559.2" width="11.2" height="14.6" fill="#454545"/>
<rect x="533.2" y="556.2" width="8.3" height="17.7" fill="#454545"/>
<rect x="682.8" y="560.0" width="8.1" height="15.8" fill="#454545"/>
<rect x="697.0" y="560.0" width="7.1" height="15.8" fill="#454545"/>
<rect x="626.9" y="574.4" width="7.1" height="17.7" fill="#454545"/>
<rect x="614.7" y="586.6" width="5.1" height="17.7" fill="#454545"/>
<rect x="858.7" y="576.5" width="12.2" height="19.7" fill="#454545"/>
<rect x="895.2" y="588.7" width="9.1" height="15.6" fill="#454545"/>
<rect x="906.4" y="588.7" width="4.0" height="15.6" fill="#454545"/>
<rect x="951.2" y="562.3" width="6.1" height="19.7" fill="#454545"/>
<rect x="964.6" y="578.5" width="6.1" height="17.7" fill="#454545"/>
<rect x="1080.4" y="578.5" width="11.2" height="17.7" fill="#454545"/>
<rect x="1299.0" y="556.2" width="4.0" height="19.7" fill="#454545"/>
<rect x="1328.5" y="576.5" width="16.2" height="19.7" fill="#454545"/>
<rect x="1353.9" y="574.4" width="13.2" height="21.7" fill="#454545"/>
<rect x="1312.2" y="586.6" width="6.1" height="19.7" fill="#454545"/>
<rect x="1377.3" y="558.2" width="4.3" height="15.6" fill="#454545"/>
<rect x="1384.6" y="576.5" width="16.2" height="20.7" fill="#454545"/>
<rect x="1400.8" y="576.5" width="4.0" height="20.7" fill="#454545"/>
<rect x="1404.9" y="576.5" width="8.1" height="20.7" fill="#454545"/>
<rect x="1414.0" y="576.5" width="5.1" height="20.7" fill="#454545"/>
<rect x="1432.3" y="574.4" width="14.2" height="22.7" fill="#454545"/>
<rect x="1486.2" y="576.5" width="18.3" height="20.7" fill="#454545"/>
<rect x="1540.1" y="578.5" width="15.2" height="17.7" fill="#454545"/>
<rect x="1566.5" y="576.5" width="14.2" height="20.7" fill="#454545"/>
<rect x="1586.8" y="578.5" width="3.0" height="16.6" fill="#454545"/>
<rect x="1595.0" y="578.5" width="10.1" height="16.6" fill="#454545"/>
<rect x="1607.2" y="578.5" width="6.1" height="16.6" fill="#454545"/>
<rect x="1619.4" y="578.5" width="10.1" height="16.6" fill="#454545"/>
<rect x="1634.6" y="578.5" width="11.2" height="16.6" fill="#454545"/>
<rect x="1656.0" y="578.5" width="12.2" height="16.6" fill="#454545"/>
<rect x="1713.9" y="578.5" width="6.1" height="16.6" fill="#454545"/>
<rect x="1721.0" y="576.5" width="8.1" height="20.7" fill="#454545"/>
<rect x="1731.2" y="578.5" width="3.0" height="16.6" fill="#454545"/>
<rect x="1734.2" y="578.5" width="3.0" height="16.6" fill="#454545"/>
<rect x="1737.3" y="578.5" width="5.1" height="16.6" fill="#454545"/>
<rect x="1748.5" y="578.5" width="4.0" height="16.6" fill="#454545"/>
<rect x="1762.7" y="578.5" width="9.1" height="16.6" fill="#454545"/>
<rect x="1780.0" y="578.5" width="5.1" height="16.6" fill="#454545"/>
<rect x="1787.1" y="578.5" width="6.1" height="16.6" fill="#454545"/>
<rect x="1391.7" y="559.2" width="13.2" height="14.6" fill="#454545"/>
<rect x="1422.2" y="560.2" width="10.1" height="13.6" fill="#454545"/>
<rect x="1477.1" y="556.2" width="8.1" height="17.7" fill="#454545"/>
<rect x="1575.7" y="560.2" width="9.1" height="13.6" fill="#454545"/>
<rect x="1602.1" y="559.2" width="8.1" height="14.6" fill="#454545"/>
<rect x="1620.4" y="559.2" width="6.1" height="14.6" fill="#454545"/>
<rect x="1622.4" y="566.3" width="19.3" height="17.7" fill="#454545"/>
<rect x="1691.5" y="588.7" width="7.1" height="14.6" fill="#454545"/>
<rect x="1702.7" y="588.7" width="3.0" height="14.6" fill="#454545"/>
<rect x="1684.4" y="564.3" width="2.0" height="19.7" fill="#454545"/>
<rect x="1380.5" y="560.2" width="3.0" height="13.6" fill="#454545"/>
<rect x="1601.7" y="254.7" width="5.1" height="16.8" fill="#454545"/>
<rect x="1614.7" y="257.1" width="6.7" height="23.7" fill="#454545"/>
<rect x="1626.9" y="264.0" width="5.9" height="15.6" fill="#454545"/>
<rect x="1639.8" y="263.2" width="11.5" height="16.4" fill="#454545"/>
<rect x="1750.9" y="254.7" width="5.9" height="17.2" fill="#454545"/>
<rect x="1761.4" y="254.7" width="8.3" height="17.2" fill="#454545"/>
<rect x="1403.2" y="262.0" width="5.1" height="17.6" fill="#454545"/>
<rect x="121.5" y="263.0" width="6.0" height="15.5" fill="#454545"/>
<rect x="151.1" y="396.9" width="13.9" height="14.9" fill="#6c6c6c"/>
<rect x="177.2" y="388.8" width="6.1" height="13.4" fill="#6c6c6c"/>
<rect x="142.0" y="387.2" width="4.0" height="12.4" fill="#6c6c6c"/>
<rect x="123.0" y="422.7" width="6.8" height="8.0" fill="#6c6c6c"/>
<rect x="142.0" y="426.7" width="4.0" height="13.5" fill="#6c6c6c"/>
<rect x="177.2" y="426.7" width="6.1" height="14.2" fill="#6c6c6c"/>
<rect x="151.5" y="437.6" width="8.0" height="18.2" fill="#6c6c6c"/>
<rect x="160.5" y="437.6" width="7.3" height="18.2" fill="#6c6c6c"/>
<rect x="170.5" y="440.2" width="4.0" height="15.0" fill="#6c6c6c"/>
<rect x="175.2" y="440.2" width="1.4" height="15.0" fill="#6c6c6c"/>
<rect x="180.0" y="437.6" width="6.7" height="18.2" fill="#6c6c6c"/>
<rect x="229.4" y="438.9" width="4.1" height="16.3" fill="#6c6c6c"/>
<rect x="259.2" y="426.1" width="4.0" height="11.4" fill="#6c6c6c"/>
<rect x="264.6" y="431.5" width="7.5" height="10.1" fill="#6c6c6c"/>
<rect x="264.6" y="455.2" width="12.2" height="10.8" fill="#6c6c6c"/>
<rect x="256.5" y="452.5" width="2.7" height="13.5" fill="#6c6c6c"/>
<rect x="286.3" y="438.9" width="4.7" height="14.9" fill="#6c6c6c"/>
<rect x="304.0" y="422.7" width="19.0" height="18.9" fill="#6c6c6c"/>
<rect x="304.0" y="426.7" width="19.0" height="10.8" fill="#6c6c6c"/>
<rect x="336.5" y="422.7" width="10.1" height="17.5" fill="#6c6c6c"/>
<rect x="340.5" y="411.8" width="8.2" height="13.4" fill="#6c6c6c"/>
<rect x="352.0" y="425.2" width="11.6" height="12.3" fill="#6c6c6c"/>
<rect x="371.0" y="424.0" width="2.7" height="13.5" fill="#6c6c6c"/>
<rect x="308.0" y="451.2" width="5.4" height="10.7" fill="#6c6c6c"/>
<rect x="310.7" y="455.2" width="9.5" height="10.8" fill="#6c6c6c"/>
<rect x="327.7" y="452.5" width="5.4" height="17.5" fill="#6c6c6c"/>
<rect x="344.6" y="447.2" width="6.8" height="13.4" fill="#6c6c6c"/>
<rect x="122.4" y="455.2" width="11.5" height="14.8" fill="#6c6c6c"/>
<rect x="122.4" y="458.2" width="11.5" height="9.0" fill="#6c6c6c"/>
<rect x="140.0" y="457.9" width="3.4" height="17.6" fill="#6c6c6c"/>
<rect x="155.6" y="466.0" width="6.1" height="9.5" fill="#6c6c6c"/>
<rect x="180.6" y="464.7" width="9.5" height="13.5" fill="#6c6c6c"/>
<rect x="205.0" y="463.2" width="5.4" height="12.3" fill="#6c6c6c"/>
<rect x="220.0" y="463.2" width="6.0" height="12.3" fill="#6c6c6c"/>
<rect x="234.2" y="460.6" width="4.0" height="10.8" fill="#6c6c6c"/>
<rect x="265.3" y="474.2" width="8.8" height="16.2" fill="#6c6c6c"/>
<rect x="278.2" y="474.2" width="2.8" height="14.8" fill="#6c6c6c"/>
<rect x="183.3" y="486.2" width="11.6" height="10.0" fill="#6c6c6c"/>
<rect x="203.0" y="486.2" width="4.7" height="10.0" fill="#6c6c6c"/>
<rect x="474.2" y="396.9" width="8.1" height="15.2" fill="#6c6c6c"/>
<rect x="491.5" y="396.9" width="9.1" height="15.2" fill="#6c6c6c"/>
<rect x="507.7" y="396.9" width="5.5" height="15.2" fill="#6c6c6c"/>
<rect x="727.3" y="396.9" width="7.1" height="15.2" fill="#6c6c6c"/>
<rect x="815.7" y="387.8" width="5.3" height="14.2" fill="#6c6c6c"/>
<rect x="420.3" y="425.4" width="8.1" height="12.1" fill="#6c6c6c"/>
<rect x="433.5" y="426.4" width="5.1" height="10.1" fill="#6c6c6c"/>
<rect x="468.1" y="427.4" width="6.1" height="10.1" fill="#6c6c6c"/>
<rect x="494.5" y="426.4" width="6.1" height="10.1" fill="#6c6c6c"/>
<rect x="492.5" y="436.6" width="8.1" height="9.1" fill="#6c6c6c"/>
<rect x="507.7" y="436.6" width="5.1" height="9.1" fill="#6c6c6c"/>
<rect x="523.0" y="437.6" width="7.1" height="20.3" fill="#6c6c6c"/>
<rect x="449.8" y="439.6" width="8.1" height="18.2" fill="#6c6c6c"/>
<rect x="468.1" y="437.6" width="8.1" height="18.2" fill="#6c6c6c"/>
<rect x="474.2" y="437.6" width="7.1" height="9.1" fill="#6c6c6c"/>
<rect x="558.6" y="437.6" width="5.1" height="20.3" fill="#6c6c6c"/>
<rect x="573.8" y="437.6" width="5.1" height="18.2" fill="#6c6c6c"/>
<rect x="589.0" y="441.6" width="5.1" height="14.2" fill="#6c6c6c"/>
<rect x="591.1" y="451.8" width="10.2" height="12.1" fill="#6c6c6c"/>
<rect x="609.4" y="451.8" width="6.1" height="12.1" fill="#6c6c6c"/>
<rect x="632.8" y="437.6" width="5.1" height="8.1" fill="#6c6c6c"/>
<rect x="645.0" y="437.6" width="6.1" height="8.1" fill="#6c6c6c"/>
<rect x="661.2" y="431.5" width="5.1" height="14.2" fill="#6c6c6c"/>
<rect x="686.6" y="422.3" width="13.2" height="10.1" fill="#6c6c6c"/>
<rect x="691.7" y="411.2" width="3.0" height="15.2" fill="#6c6c6c"/>
<rect x="716.1" y="422.3" width="8.1" height="9.1" fill="#6c6c6c"/>
<rect x="684.6" y="439.6" width="7.1" height="14.2" fill="#6c6c6c"/>
<rect x="682.6" y="453.8" width="6.1" height="12.1" fill="#6c6c6c"/>
<rect x="707.0" y="441.6" width="7.1" height="17.2" fill="#6c6c6c"/>
<rect x="726.3" y="439.6" width="8.1" height="16.2" fill="#6c6c6c"/>
<rect x="733.4" y="429.5" width="7.1" height="12.1" fill="#6c6c6c"/>
<rect x="744.6" y="437.6" width="14.2" height="16.2" fill="#6c6c6c"/>
<rect x="752.7" y="438.6" width="6.1" height="16.2" fill="#6c6c6c"/>
<rect x="771.0" y="431.5" width="4.1" height="10.1" fill="#6c6c6c"/>
<rect x="780.1" y="449.8" width="7.1" height="14.2" fill="#6c6c6c"/>
<rect x="787.3" y="441.6" width="6.1" height="12.1" fill="#6c6c6c"/>
<rect x="800.5" y="451.8" width="7.1" height="14.2" fill="#6c6c6c"/>
<rect x="815.7" y="425.4" width="5.3" height="16.2" fill="#6c6c6c"/>
<rect x="801.5" y="466.0" width="5.1" height="9.1" fill="#6c6c6c"/>
<rect x="638.9" y="466.0" width="5.1" height="9.1" fill="#6c6c6c"/>
<rect x="423.4" y="455.9" width="10.2" height="10.1" fill="#6c6c6c"/>
<rect x="446.7" y="453.8" width="21.3" height="12.1" fill="#6c6c6c"/>
<rect x="482.3" y="455.9" width="8.1" height="10.1" fill="#6c6c6c"/>
<rect x="491.5" y="451.8" width="21.3" height="8.1" fill="#6c6c6c"/>
<rect x="549.4" y="488.4" width="9.1" height="12.1" fill="#6c6c6c"/>
<rect x="700.9" y="478.2" width="7.1" height="11.1" fill="#6c6c6c"/>
<rect x="717.1" y="478.2" width="9.1" height="12.1" fill="#6c6c6c"/>
<rect x="732.4" y="474.2" width="2.0" height="16.2" fill="#6c6c6c"/>
<rect x="777.1" y="488.4" width="7.1" height="12.1" fill="#6c6c6c"/>
<rect x="772.0" y="496.5" width="7.1" height="12.1" fill="#6c6c6c"/>
<rect x="752.7" y="495.5" width="8.1" height="13.1" fill="#6c6c6c"/>
<rect x="737.5" y="504.7" width="7.1" height="13.1" fill="#6c6c6c"/>
<rect x="762.9" y="504.7" width="5.1" height="13.1" fill="#6c6c6c"/>
<rect x="572.8" y="518.9" width="8.1" height="14.2" fill="#6c6c6c"/>
<rect x="563.6" y="518.9" width="3.0" height="14.2" fill="#6c6c6c"/>
<rect x="591.1" y="518.9" width="3.0" height="14.2" fill="#6c6c6c"/>
<rect x="634.8" y="525.0" width="6.1" height="14.2" fill="#6c6c6c"/>
<rect x="654.1" y="525.0" width="19.3" height="14.2" fill="#6c6c6c"/>
<rect x="699.8" y="527.0" width="8.1" height="12.1" fill="#6c6c6c"/>
<rect x="715.1" y="527.0" width="3.0" height="12.1" fill="#6c6c6c"/>
<rect x="721.2" y="527.0" width="7.1" height="12.1" fill="#6c6c6c"/>
<rect x="735.4" y="527.0" width="2.0" height="12.1" fill="#6c6c6c"/>
<rect x="757.8" y="527.0" width="7.1" height="12.1" fill="#6c6c6c"/>
<rect x="631.7" y="543.3" width="5.1" height="14.2" fill="#6c6c6c"/>
<rect x="534.2" y="551.4" width="7.1" height="14.8" fill="#6c6c6c"/>
<rect x="683.6" y="553.5" width="6.1" height="12.7" fill="#6c6c6c"/>
<rect x="697.8" y="553.5" width="5.1" height="12.7" fill="#6c6c6c"/>
<rect x="420.3" y="555.5" width="9.1" height="10.7" fill="#6c6c6c"/>
<rect x="821.0" y="386.8" width="4.1" height="15.2" fill="#6c6c6c"/>
<rect x="838.3" y="386.8" width="7.1" height="15.2" fill="#6c6c6c"/>
<rect x="895.2" y="396.9" width="9.1" height="15.2" fill="#6c6c6c"/>
<rect x="982.6" y="387.8" width="7.1" height="14.2" fill="#6c6c6c"/>
<rect x="995.8" y="387.8" width="3.0" height="14.2" fill="#6c6c6c"/>
<rect x="1019.2" y="387.8" width="6.1" height="14.2" fill="#6c6c6c"/>
<rect x="1091.4" y="387.8" width="4.1" height="14.2" fill="#6c6c6c"/>
<rect x="1204.2" y="397.9" width="5.1" height="14.2" fill="#6c6c6c"/>
<rect x="821.0" y="425.4" width="4.1" height="16.2" fill="#6c6c6c"/>
<rect x="838.3" y="425.4" width="8.1" height="16.2" fill="#6c6c6c"/>
<rect x="844.4" y="437.6" width="5.1" height="8.1" fill="#6c6c6c"/>
<rect x="861.7" y="441.6" width="3.0" height="14.2" fill="#6c6c6c"/>
<rect x="867.8" y="449.8" width="7.1" height="16.2" fill="#6c6c6c"/>
<rect x="872.8" y="439.6" width="7.1" height="14.2" fill="#6c6c6c"/>
<rect x="886.1" y="433.5" width="20.3" height="12.1" fill="#6c6c6c"/>
<rect x="898.3" y="427.4" width="8.1" height="10.1" fill="#6c6c6c"/>
<rect x="886.1" y="451.8" width="8.1" height="10.1" fill="#6c6c6c"/>
<rect x="902.3" y="441.6" width="8.1" height="12.1" fill="#6c6c6c"/>
<rect x="916.5" y="427.4" width="6.1" height="12.1" fill="#6c6c6c"/>
<rect x="912.5" y="453.8" width="6.1" height="12.1" fill="#6c6c6c"/>
<rect x="936.9" y="433.5" width="8.1" height="14.2" fill="#6c6c6c"/>
<rect x="940.9" y="445.7" width="10.2" height="16.2" fill="#6c6c6c"/>
<rect x="928.7" y="453.8" width="6.1" height="12.1" fill="#6c6c6c"/>
<rect x="961.3" y="453.8" width="6.1" height="12.1" fill="#6c6c6c"/>
<rect x="975.5" y="451.8" width="5.1" height="12.1" fill="#6c6c6c"/>
<rect x="977.5" y="426.4" width="12.2" height="15.2" fill="#6c6c6c"/>
<rect x="979.6" y="439.6" width="8.1" height="16.2" fill="#6c6c6c"/>
<rect x="995.8" y="427.4" width="3.0" height="12.1" fill="#6c6c6c"/>
<rect x="1005.0" y="427.4" width="4.1" height="12.1" fill="#6c6c6c"/>
<rect x="991.8" y="451.8" width="7.1" height="12.1" fill="#6c6c6c"/>
<rect x="999.9" y="451.8" width="6.1" height="12.1" fill="#6c6c6c"/>
<rect x="1010.1" y="451.8" width="6.1" height="12.1" fill="#6c6c6c"/>
<rect x="1019.2" y="451.8" width="9.1" height="14.2" fill="#6c6c6c"/>
<rect x="1020.2" y="426.4" width="10.2" height="13.1" fill="#6c6c6c"/>
<rect x="1033.4" y="427.4" width="4.1" height="12.1" fill="#6c6c6c"/>
<rect x="1040.6" y="451.8" width="5.1" height="12.1" fill="#6c6c6c"/>
<rect x="1046.7" y="437.6" width="10.2" height="18.2" fill="#6c6c6c"/>
<rect x="1059.9" y="437.6" width="16.3" height="18.2" fill="#6c6c6c"/>
<rect x="1055.8" y="422.3" width="4.1" height="10.1" fill="#6c6c6c"/>
<rect x="1078.2" y="427.4" width="6.1" height="14.2" fill="#6c6c6c"/>
<rect x="1091.4" y="427.4" width="4.1" height="14.2" fill="#6c6c6c"/>
<rect x="1090.4" y="439.6" width="12.2" height="16.2" fill="#6c6c6c"/>
<rect x="1136.1" y="427.4" width="8.1" height="12.1" fill="#6c6c6c"/>
<rect x="1136.1" y="437.6" width="10.2" height="18.2" fill="#6c6c6c"/>
<rect x="1155.4" y="439.6" width="4.1" height="16.2" fill="#6c6c6c"/>
<rect x="1166.6" y="435.6" width="12.2" height="18.2" fill="#6c6c6c"/>
<rect x="1186.9" y="451.8" width="10.2" height="14.2" fill="#6c6c6c"/>
<rect x="1201.2" y="441.6" width="16.3" height="14.2" fill="#6c6c6c"/>
<rect x="1220.5" y="427.4" width="4.1" height="12.1" fill="#6c6c6c"/>
<rect x="834.2" y="451.8" width="6.1" height="10.1" fill="#6c6c6c"/>
<rect x="894.2" y="467.1" width="9.1" height="8.1" fill="#6c6c6c"/>
<rect x="881.0" y="480.3" width="4.1" height="10.1" fill="#6c6c6c"/>
<rect x="895.2" y="489.4" width="10.2" height="11.1" fill="#6c6c6c"/>
<rect x="1123.9" y="472.1" width="10.2" height="10.1" fill="#6c6c6c"/>
<rect x="881.0" y="504.7" width="21.3" height="14.2" fill="#6c6c6c"/>
<rect x="908.4" y="504.7" width="9.1" height="12.1" fill="#6c6c6c"/>
<rect x="927.7" y="504.7" width="4.1" height="14.2" fill="#6c6c6c"/>
<rect x="942.0" y="503.7" width="9.1" height="13.1" fill="#6c6c6c"/>
<rect x="955.2" y="504.7" width="9.1" height="12.1" fill="#6c6c6c"/>
<rect x="972.5" y="504.7" width="6.1" height="12.1" fill="#6c6c6c"/>
<rect x="1090.4" y="504.7" width="6.1" height="14.2" fill="#6c6c6c"/>
<rect x="1118.8" y="504.7" width="7.1" height="14.2" fill="#6c6c6c"/>
<rect x="1148.3" y="504.7" width="5.1" height="14.2" fill="#6c6c6c"/>
<rect x="1156.4" y="502.6" width="3.0" height="14.2" fill="#6c6c6c"/>
<rect x="1171.7" y="504.7" width="6.1" height="12.1" fill="#6c6c6c"/>
<rect x="1185.9" y="504.7" width="4.1" height="12.1" fill="#6c6c6c"/>
<rect x="1204.2" y="504.7" width="5.1" height="12.1" fill="#6c6c6c"/>
<rect x="1216.4" y="504.7" width="3.0" height="12.1" fill="#6c6c6c"/>
<rect x="1231.7" y="502.6" width="6.1" height="16.2" fill="#6c6c6c"/>
<rect x="823.0" y="502.6" width="2.0" height="12.1" fill="#6c6c6c"/>
<rect x="1081.2" y="513.8" width="5.1" height="10.1" fill="#6c6c6c"/>
<rect x="1153.4" y="518.9" width="4.1" height="14.2" fill="#6c6c6c"/>
<rect x="1164.6" y="525.0" width="5.1" height="14.2" fill="#6c6c6c"/>
<rect x="828.1" y="529.1" width="11.2" height="10.1" fill="#6c6c6c"/>
<rect x="844.4" y="529.1" width="3.0" height="10.1" fill="#6c6c6c"/>
<rect x="1009.0" y="533.1" width="12.2" height="15.2" fill="#6c6c6c"/>
<rect x="1030.4" y="531.1" width="4.1" height="16.2" fill="#6c6c6c"/>
<rect x="1096.5" y="533.1" width="8.1" height="15.2" fill="#6c6c6c"/>
<rect x="1119.8" y="543.3" width="10.2" height="14.2" fill="#6c6c6c"/>
<rect x="1142.2" y="543.3" width="8.1" height="14.2" fill="#6c6c6c"/>
<rect x="1161.5" y="543.3" width="7.1" height="14.2" fill="#6c6c6c"/>
<rect x="1278.6" y="397.9" width="6.1" height="14.2" fill="#6c6c6c"/>
<rect x="1289.8" y="426.4" width="5.1" height="13.1" fill="#6c6c6c"/>
<rect x="1301.0" y="425.4" width="16.3" height="15.2" fill="#6c6c6c"/>
<rect x="1336.5" y="425.4" width="15.2" height="15.2" fill="#6c6c6c"/>
<rect x="1368.1" y="425.4" width="9.1" height="15.2" fill="#6c6c6c"/>
<rect x="1393.5" y="425.4" width="30.5" height="12.1" fill="#6c6c6c"/>
<rect x="1415.8" y="433.5" width="12.2" height="20.3" fill="#6c6c6c"/>
<rect x="1414.8" y="453.8" width="8.1" height="12.1" fill="#6c6c6c"/>
<rect x="1409.7" y="465.0" width="14.2" height="11.1" fill="#6c6c6c"/>
<rect x="1446.3" y="422.3" width="10.2" height="15.2" fill="#6c6c6c"/>
<rect x="1473.8" y="425.4" width="4.1" height="14.2" fill="#6c6c6c"/>
<rect x="1259.3" y="425.4" width="9.1" height="14.2" fill="#6c6c6c"/>
<rect x="1256.2" y="441.6" width="13.2" height="20.3" fill="#6c6c6c"/>
<rect x="1254.2" y="449.8" width="5.1" height="14.2" fill="#6c6c6c"/>
<rect x="1274.5" y="441.6" width="10.2" height="14.2" fill="#6c6c6c"/>
<rect x="1301.0" y="451.8" width="8.1" height="14.2" fill="#6c6c6c"/>
<rect x="1353.8" y="441.6" width="13.2" height="14.2" fill="#6c6c6c"/>
<rect x="1378.2" y="441.6" width="7.1" height="14.2" fill="#6c6c6c"/>
<rect x="1387.4" y="453.8" width="4.1" height="12.1" fill="#6c6c6c"/>
<rect x="1399.6" y="453.8" width="4.1" height="12.1" fill="#6c6c6c"/>
<rect x="1449.4" y="451.8" width="6.1" height="14.2" fill="#6c6c6c"/>
<rect x="1467.7" y="451.8" width="9.1" height="14.2" fill="#6c6c6c"/>
<rect x="1476.8" y="441.6" width="28.5" height="14.2" fill="#6c6c6c"/>
<rect x="1513.4" y="431.5" width="6.1" height="24.3" fill="#6c6c6c"/>
<rect x="1521.5" y="441.6" width="13.2" height="14.2" fill="#6c6c6c"/>
<rect x="1548.0" y="449.8" width="7.1" height="17.2" fill="#6c6c6c"/>
<rect x="1556.1" y="439.6" width="8.1" height="16.2" fill="#6c6c6c"/>
<rect x="1572.4" y="441.6" width="7.1" height="12.1" fill="#6c6c6c"/>
<rect x="1580.5" y="437.6" width="8.1" height="18.2" fill="#6c6c6c"/>
<rect x="1594.7" y="437.6" width="20.3" height="18.2" fill="#6c6c6c"/>
<rect x="1619.1" y="441.6" width="4.1" height="22.3" fill="#6c6c6c"/>
<rect x="1631.3" y="441.6" width="12.2" height="14.2" fill="#6c6c6c"/>
<rect x="1653.7" y="441.6" width="7.3" height="18.2" fill="#6c6c6c"/>
<rect x="1606.9" y="465.0" width="10.2" height="11.1" fill="#6c6c6c"/>
<rect x="1523.6" y="465.0" width="3.0" height="15.2" fill="#6c6c6c"/>
<rect x="1445.3" y="466.0" width="8.1" height="10.1" fill="#6c6c6c"/>
<rect x="1464.6" y="474.2" width="7.1" height="15.2" fill="#6c6c6c"/>
<rect x="1590.7" y="479.3" width="8.1" height="10.1" fill="#6c6c6c"/>
<rect x="1302.0" y="472.1" width="5.1" height="12.1" fill="#6c6c6c"/>
<rect x="1314.2" y="470.1" width="5.1" height="14.2" fill="#6c6c6c"/>
<rect x="1274.5" y="490.4" width="12.2" height="9.1" fill="#6c6c6c"/>
<rect x="1298.9" y="490.4" width="5.1" height="9.1" fill="#6c6c6c"/>
<rect x="1254.2" y="500.6" width="4.1" height="9.1" fill="#6c6c6c"/>
<rect x="1263.4" y="503.7" width="3.0" height="14.2" fill="#6c6c6c"/>
<rect x="1302.0" y="504.7" width="6.1" height="12.1" fill="#6c6c6c"/>
<rect x="1318.3" y="504.7" width="5.1" height="9.1" fill="#6c6c6c"/>
<rect x="1381.3" y="504.7" width="5.1" height="9.1" fill="#6c6c6c"/>
<rect x="1476.8" y="504.7" width="8.1" height="9.1" fill="#6c6c6c"/>
<rect x="1505.3" y="500.6" width="6.1" height="9.1" fill="#6c6c6c"/>
<rect x="1513.4" y="494.5" width="7.1" height="15.2" fill="#6c6c6c"/>
<rect x="1530.7" y="494.5" width="6.1" height="15.2" fill="#6c6c6c"/>
<rect x="1619.1" y="499.6" width="7.1" height="10.1" fill="#6c6c6c"/>
<rect x="1628.3" y="489.4" width="9.1" height="11.1" fill="#6c6c6c"/>
<rect x="1643.5" y="489.4" width="5.1" height="11.1" fill="#6c6c6c"/>
<rect x="1316.2" y="518.9" width="7.1" height="15.2" fill="#6c6c6c"/>
<rect x="1335.5" y="518.9" width="9.1" height="14.2" fill="#6c6c6c"/>
<rect x="1351.8" y="518.9" width="6.1" height="14.2" fill="#6c6c6c"/>
<rect x="1421.9" y="518.9" width="9.1" height="14.2" fill="#6c6c6c"/>
<rect x="1442.3" y="518.9" width="18.3" height="14.2" fill="#6c6c6c"/>
<rect x="1468.7" y="518.9" width="5.1" height="14.2" fill="#6c6c6c"/>
<rect x="1486.0" y="518.9" width="4.1" height="14.2" fill="#6c6c6c"/>
<rect x="1508.3" y="518.9" width="4.1" height="14.2" fill="#6c6c6c"/>
<rect x="1533.7" y="518.9" width="3.0" height="14.2" fill="#6c6c6c"/>
<rect x="1600.8" y="518.9" width="6.1" height="16.2" fill="#6c6c6c"/>
<rect x="1273.5" y="529.1" width="14.2" height="11.1" fill="#6c6c6c"/>
<rect x="1267.4" y="535.2" width="8.1" height="12.1" fill="#6c6c6c"/>
<rect x="1298.9" y="529.1" width="5.1" height="10.1" fill="#6c6c6c"/>
<rect x="1317.2" y="533.1" width="6.1" height="15.2" fill="#6c6c6c"/>
<rect x="1634.4" y="533.1" width="9.1" height="15.2" fill="#6c6c6c"/>
<rect x="1643.5" y="531.1" width="2.0" height="16.2" fill="#6c6c6c"/>
<rect x="1702.0" y="387.6" width="4.9" height="13.8" fill="#6c6c6c"/>
<rect x="1725.7" y="385.7" width="4.9" height="15.8" fill="#6c6c6c"/>
<rect x="1675.5" y="423.1" width="5.9" height="13.8" fill="#6c6c6c"/>
<rect x="1686.3" y="423.1" width="4.9" height="13.8" fill="#6c6c6c"/>
<rect x="1702.0" y="425.0" width="5.9" height="15.8" fill="#6c6c6c"/>
<rect x="1725.7" y="425.0" width="4.9" height="15.8" fill="#6c6c6c"/>
<rect x="1738.5" y="436.8" width="5.9" height="9.9" fill="#6c6c6c"/>
<rect x="1752.2" y="430.9" width="3.9" height="13.8" fill="#6c6c6c"/>
<rect x="1770.0" y="423.1" width="5.9" height="17.8" fill="#6c6c6c"/>
<rect x="1719.8" y="438.8" width="6.9" height="15.8" fill="#6c6c6c"/>
<rect x="1781.8" y="452.6" width="10.8" height="13.8" fill="#6c6c6c"/>
<rect x="1775.9" y="440.8" width="3.9" height="19.7" fill="#6c6c6c"/>
<rect x="1661.7" y="440.8" width="11.8" height="13.8" fill="#6c6c6c"/>
<rect x="1659.7" y="452.6" width="7.9" height="13.8" fill="#6c6c6c"/>
<rect x="1687.3" y="454.6" width="3.9" height="15.8" fill="#6c6c6c"/>
<rect x="1760.1" y="501.8" width="7.9" height="13.8" fill="#6c6c6c"/>
<rect x="1785.7" y="495.9" width="7.9" height="13.8" fill="#6c6c6c"/>
<rect x="1748.3" y="533.3" width="7.9" height="15.8" fill="#6c6c6c"/>
<rect x="1768.0" y="533.3" width="3.9" height="15.8" fill="#6c6c6c"/>
<rect x="1790.6" y="533.3" width="3.9" height="15.8" fill="#6c6c6c"/>
<rect x="121.0" y="503.5" width="4.1" height="16.2" fill="#6c6c6c"/>
<rect x="133.2" y="517.7" width="5.1" height="18.2" fill="#6c6c6c"/>
<rect x="237.9" y="514.6" width="7.1" height="9.1" fill="#6c6c6c"/>
<rect x="246.0" y="517.7" width="4.1" height="17.2" fill="#6c6c6c"/>
<rect x="267.4" y="517.7" width="8.1" height="17.2" fill="#6c6c6c"/>
<rect x="282.6" y="517.7" width="4.1" height="17.2" fill="#6c6c6c"/>
<rect x="307.0" y="517.7" width="6.1" height="16.2" fill="#6c6c6c"/>
<rect x="315.1" y="532.9" width="8.1" height="16.2" fill="#6c6c6c"/>
<rect x="357.8" y="505.5" width="9.1" height="8.1" fill="#6c6c6c"/>
<rect x="392.4" y="499.4" width="6.1" height="10.1" fill="#6c6c6c"/>
<rect x="233.8" y="557.3" width="7.1" height="15.2" fill="#6c6c6c"/>
<rect x="256.2" y="558.4" width="4.1" height="14.2" fill="#6c6c6c"/>
<rect x="238.9" y="577.7" width="11.2" height="14.2" fill="#6c6c6c"/>
<rect x="265.3" y="577.7" width="9.1" height="13.1" fill="#6c6c6c"/>
<rect x="368.0" y="582.7" width="10.2" height="9.1" fill="#6c6c6c"/>
<rect x="419.8" y="561.4" width="10.2" height="11.1" fill="#6c6c6c"/>
<rect x="533.7" y="558.4" width="7.3" height="14.2" fill="#6c6c6c"/>
<rect x="683.3" y="562.2" width="7.1" height="12.3" fill="#6c6c6c"/>
<rect x="697.5" y="562.2" width="6.1" height="12.3" fill="#6c6c6c"/>
<rect x="627.4" y="576.6" width="6.1" height="14.2" fill="#6c6c6c"/>
<rect x="615.2" y="588.8" width="4.1" height="14.2" fill="#6c6c6c"/>
<rect x="859.2" y="578.7" width="11.2" height="16.2" fill="#6c6c6c"/>
<rect x="895.7" y="590.9" width="8.1" height="12.1" fill="#6c6c6c"/>
<rect x="906.9" y="590.9" width="3.0" height="12.1" fill="#6c6c6c"/>
<rect x="951.7" y="564.5" width="5.1" height="16.2" fill="#6c6c6c"/>
<rect x="965.1" y="580.7" width="5.1" height="14.2" fill="#6c6c6c"/>
<rect x="1080.9" y="580.7" width="10.2" height="14.2" fill="#6c6c6c"/>
<rect x="1329.0" y="578.7" width="15.2" height="16.2" fill="#6c6c6c"/>
<rect x="1354.4" y="576.6" width="12.2" height="18.2" fill="#6c6c6c"/>
<rect x="1312.7" y="588.8" width="5.1" height="16.2" fill="#6c6c6c"/>
<rect x="1377.8" y="560.4" width="3.3" height="12.1" fill="#6c6c6c"/>
<rect x="1385.1" y="578.7" width="15.2" height="17.2" fill="#6c6c6c"/>
<rect x="1401.3" y="578.7" width="3.0" height="17.2" fill="#6c6c6c"/>
<rect x="1405.4" y="578.7" width="7.1" height="17.2" fill="#6c6c6c"/>
<rect x="1414.5" y="578.7" width="4.1" height="17.2" fill="#6c6c6c"/>
<rect x="1432.8" y="576.6" width="13.2" height="19.2" fill="#6c6c6c"/>
<rect x="1486.7" y="578.7" width="17.3" height="17.2" fill="#6c6c6c"/>
<rect x="1540.6" y="580.7" width="14.2" height="14.2" fill="#6c6c6c"/>
<rect x="1567.0" y="578.7" width="13.2" height="17.2" fill="#6c6c6c"/>
<rect x="1587.3" y="580.7" width="2.0" height="13.1" fill="#6c6c6c"/>
<rect x="1595.5" y="580.7" width="9.1" height="13.1" fill="#6c6c6c"/>
<rect x="1607.7" y="580.7" width="5.1" height="13.1" fill="#6c6c6c"/>
<rect x="1619.9" y="580.7" width="9.1" height="13.1" fill="#6c6c6c"/>
<rect x="1635.1" y="580.7" width="10.2" height="13.1" fill="#6c6c6c"/>
<rect x="1656.5" y="580.7" width="11.2" height="13.1" fill="#6c6c6c"/>
<rect x="1714.4" y="580.7" width="5.1" height="13.1" fill="#6c6c6c"/>
<rect x="1721.5" y="578.7" width="7.1" height="17.2" fill="#6c6c6c"/>
<rect x="1731.7" y="580.7" width="2.0" height="13.1" fill="#6c6c6c"/>
<rect x="1734.7" y="580.7" width="2.0" height="13.1" fill="#6c6c6c"/>
<rect x="1737.8" y="580.7" width="4.1" height="13.1" fill="#6c6c6c"/>
<rect x="1749.0" y="580.7" width="3.0" height="13.1" fill="#6c6c6c"/>
<rect x="1763.2" y="580.7" width="8.1" height="13.1" fill="#6c6c6c"/>
<rect x="1780.5" y="580.7" width="4.1" height="13.1" fill="#6c6c6c"/>
<rect x="1787.6" y="580.7" width="5.1" height="13.1" fill="#6c6c6c"/>
<rect x="1392.2" y="561.4" width="12.2" height="11.1" fill="#6c6c6c"/>
<rect x="1422.7" y="562.4" width="9.1" height="10.1" fill="#6c6c6c"/>
<rect x="1477.6" y="558.4" width="7.1" height="14.2" fill="#6c6c6c"/>
<rect x="1620.9" y="561.4" width="5.1" height="11.1" fill="#6c6c6c"/>
<rect x="1381.0" y="562.4" width="2.0" height="10.1" fill="#6c6c6c"/>
<rect x="1602.2" y="256.9" width="4.1" height="13.3" fill="#6c6c6c"/>
<rect x="1615.2" y="259.3" width="5.7" height="20.2" fill="#6c6c6c"/>
<rect x="1627.4" y="266.2" width="4.9" height="12.1" fill="#6c6c6c"/>
<rect x="1640.3" y="265.4" width="10.5" height="12.9" fill="#6c6c6c"/>
<rect x="1751.4" y="256.9" width="4.9" height="13.7" fill="#6c6c6c"/>
<rect x="1761.9" y="256.9" width="7.3" height="13.7" fill="#6c6c6c"/>
<rect x="1403.7" y="264.2" width="4.1" height="14.1" fill="#6c6c6c"/>
<rect x="151.1" y="399.7" width="13.9" height="10.9" fill="#ffffff"/>
<rect x="151.1" y="395.7" width="13.9" height="4.0" fill="#696969"/>
<rect x="151.1" y="360.4" width="13.9" height="8.2" fill="#696969"/>
<rect x="177.2" y="391.6" width="6.1" height="9.4" fill="#dadada"/>
<rect x="177.2" y="386.0" width="6.1" height="5.6" fill="#4b4b4b"/>
<rect x="142.0" y="390.0" width="4.0" height="8.4" fill="#969696"/>
<rect x="304.0" y="389.0" width="19.0" height="9.4" fill="#626262"/>
<rect x="336.5" y="389.0" width="10.1" height="9.4" fill="#696969"/>
<rect x="285.7" y="399.7" width="5.3" height="9.5" fill="#4b4b4b"/>
<rect x="265.3" y="400.0" width="4.7" height="12.0" fill="#444444"/>
<rect x="123.0" y="425.5" width="6.8" height="4.0" fill="#969696"/>
<rect x="142.0" y="429.5" width="4.0" height="9.5" fill="#f8f8f8"/>
<rect x="152.0" y="420.0" width="7.0" height="5.5" fill="#525252"/>
<rect x="177.2" y="429.5" width="6.1" height="10.2" fill="#ffffff"/>
<rect x="215.2" y="430.0" width="4.8" height="5.0" fill="#696969"/>
<rect x="151.5" y="440.4" width="8.0" height="14.2" fill="#ffffff"/>
<rect x="160.5" y="440.4" width="7.3" height="14.2" fill="#ffffff"/>
<rect x="170.5" y="443.0" width="4.0" height="11.0" fill="#ffffff"/>
<rect x="175.2" y="443.0" width="1.4" height="11.0" fill="#e8e8e8"/>
<rect x="180.0" y="440.4" width="6.7" height="14.2" fill="#ffffff"/>
<rect x="229.4" y="441.7" width="4.1" height="12.3" fill="#a5a5a5"/>
<rect x="259.2" y="428.9" width="4.0" height="7.4" fill="#a5a5a5"/>
<rect x="264.6" y="434.3" width="7.5" height="6.1" fill="#dadada"/>
<rect x="264.6" y="443.0" width="15.0" height="15.0" fill="#787878"/>
<rect x="264.6" y="458.0" width="12.2" height="6.8" fill="#e8e8e8"/>
<rect x="256.5" y="455.3" width="2.7" height="9.5" fill="#ffffff"/>
<rect x="286.3" y="441.7" width="4.7" height="10.9" fill="#b4b4b4"/>
<rect x="288.4" y="455.0" width="8.8" height="8.4" fill="#696969"/>
<rect x="304.0" y="425.5" width="19.0" height="14.9" fill="#dadada"/>
<rect x="304.0" y="429.5" width="19.0" height="6.8" fill="#ffffff"/>
<rect x="325.6" y="436.3" width="8.2" height="6.7" fill="#696969"/>
<rect x="336.5" y="425.5" width="10.1" height="13.5" fill="#ffffff"/>
<rect x="340.5" y="414.6" width="8.2" height="9.4" fill="#969696"/>
<rect x="352.0" y="428.0" width="11.6" height="8.3" fill="#dadada"/>
<rect x="371.0" y="426.8" width="2.7" height="9.5" fill="#e8e8e8"/>
<rect x="384.0" y="436.3" width="13.5" height="16.3" fill="#878787"/>
<rect x="308.0" y="454.0" width="5.4" height="6.7" fill="#f8f8f8"/>
<rect x="310.7" y="458.0" width="9.5" height="6.8" fill="#b4b4b4"/>
<rect x="327.7" y="455.3" width="5.4" height="13.5" fill="#b4b4b4"/>
<rect x="344.6" y="450.0" width="6.8" height="9.4" fill="#969696"/>
<rect x="343.3" y="463.4" width="8.1" height="5.4" fill="#696969"/>
<rect x="122.4" y="458.0" width="11.5" height="10.8" fill="#e8e8e8"/>
<rect x="122.4" y="461.0" width="11.5" height="5.0" fill="#ffffff"/>
<rect x="140.0" y="460.7" width="3.4" height="13.6" fill="#ffffff"/>
<rect x="155.6" y="468.8" width="6.1" height="5.5" fill="#969696"/>
<rect x="167.8" y="468.8" width="9.4" height="5.5" fill="#878787"/>
<rect x="180.6" y="467.5" width="9.5" height="9.5" fill="#969696"/>
<rect x="205.0" y="466.0" width="5.4" height="8.3" fill="#b4b4b4"/>
<rect x="211.1" y="473.0" width="7.5" height="6.0" fill="#787878"/>
<rect x="220.0" y="466.0" width="6.0" height="8.3" fill="#f8f8f8"/>
<rect x="234.2" y="463.4" width="4.0" height="6.8" fill="#969696"/>
<rect x="241.0" y="459.4" width="8.0" height="5.4" fill="#4b4b4b"/>
<rect x="390.0" y="467.5" width="11.0" height="6.8" fill="#696969"/>
<rect x="265.3" y="477.0" width="8.8" height="12.2" fill="#f8f8f8"/>
<rect x="278.2" y="477.0" width="2.8" height="10.8" fill="#a5a5a5"/>
<rect x="183.3" y="489.0" width="11.6" height="6.0" fill="#f8f8f8"/>
<rect x="203.0" y="489.0" width="4.7" height="6.0" fill="#ffffff"/>
<rect x="369.0" y="478.3" width="8.0" height="6.7" fill="#787878"/>
<rect x="139.3" y="486.5" width="12.9" height="8.5" fill="#4b4b4b"/>
<rect x="350.0" y="477.0" width="6.8" height="6.7" fill="#4b4b4b"/>
<rect x="474.2" y="399.7" width="8.1" height="11.2" fill="#a5a5a5"/>
<rect x="491.5" y="399.7" width="9.1" height="11.2" fill="#a5a5a5"/>
<rect x="507.7" y="399.7" width="5.5" height="11.2" fill="#a5a5a5"/>
<rect x="727.3" y="399.7" width="7.1" height="11.2" fill="#a5a5a5"/>
<rect x="815.7" y="390.6" width="5.3" height="10.2" fill="#a5a5a5"/>
<rect x="686.6" y="384.5" width="13.2" height="7.1" fill="#525252"/>
<rect x="632.8" y="399.7" width="5.1" height="10.2" fill="#4b4b4b"/>
<rect x="420.3" y="428.2" width="8.1" height="8.1" fill="#ffffff"/>
<rect x="433.5" y="429.2" width="5.1" height="6.1" fill="#e8e8e8"/>
<rect x="442.7" y="430.2" width="5.1" height="5.1" fill="#787878"/>
<rect x="468.1" y="430.2" width="6.1" height="6.1" fill="#969696"/>
<rect x="494.5" y="429.2" width="6.1" height="6.1" fill="#a5a5a5"/>
<rect x="492.5" y="439.4" width="8.1" height="5.1" fill="#dadada"/>
<rect x="507.7" y="439.4" width="5.1" height="5.1" fill="#dadada"/>
<rect x="523.0" y="440.4" width="7.1" height="16.3" fill="#ffffff"/>
<rect x="449.8" y="442.4" width="8.1" height="14.2" fill="#ffffff"/>
<rect x="468.1" y="440.4" width="8.1" height="14.2" fill="#ffffff"/>
<rect x="474.2" y="440.4" width="7.1" height="5.1" fill="#dadada"/>
<rect x="558.6" y="440.4" width="5.1" height="16.3" fill="#ffffff"/>
<rect x="573.8" y="440.4" width="5.1" height="14.2" fill="#ffffff"/>
<rect x="589.0" y="444.4" width="5.1" height="10.2" fill="#b4b4b4"/>
<rect x="591.1" y="454.6" width="10.2" height="8.1" fill="#f8f8f8"/>
<rect x="609.4" y="454.6" width="6.1" height="8.1" fill="#ffffff"/>
<rect x="632.8" y="440.4" width="5.1" height="4.1" fill="#dadada"/>
<rect x="645.0" y="440.4" width="6.1" height="4.1" fill="#b4b4b4"/>
<rect x="661.2" y="434.3" width="5.1" height="10.2" fill="#ffffff"/>
<rect x="686.6" y="425.1" width="13.2" height="6.1" fill="#ffffff"/>
<rect x="691.7" y="414.0" width="3.0" height="11.2" fill="#a5a5a5"/>
<rect x="716.1" y="425.1" width="8.1" height="5.1" fill="#e8e8e8"/>
<rect x="684.6" y="442.4" width="7.1" height="10.2" fill="#e8e8e8"/>
<rect x="682.6" y="456.6" width="6.1" height="8.1" fill="#ffffff"/>
<rect x="707.0" y="444.4" width="7.1" height="13.2" fill="#ffffff"/>
<rect x="726.3" y="442.4" width="8.1" height="12.2" fill="#f8f8f8"/>
<rect x="733.4" y="432.3" width="7.1" height="8.1" fill="#f8f8f8"/>
<rect x="744.6" y="440.4" width="14.2" height="12.2" fill="#b4b4b4"/>
<rect x="752.7" y="441.4" width="6.1" height="12.2" fill="#ffffff"/>
<rect x="736.4" y="422.1" width="12.2" height="8.1" fill="#878787"/>
<rect x="771.0" y="434.3" width="4.1" height="6.1" fill="#e8e8e8"/>
<rect x="780.1" y="452.6" width="7.1" height="10.2" fill="#ffffff"/>
<rect x="787.3" y="444.4" width="6.1" height="8.1" fill="#a5a5a5"/>
<rect x="800.5" y="454.6" width="7.1" height="10.2" fill="#969696"/>
<rect x="815.7" y="428.2" width="5.3" height="12.2" fill="#ffffff"/>
<rect x="785.2" y="468.8" width="7.1" height="4.1" fill="#878787"/>
<rect x="801.5" y="468.8" width="5.1" height="5.1" fill="#a5a5a5"/>
<rect x="638.9" y="468.8" width="5.1" height="5.1" fill="#a5a5a5"/>
<rect x="664.3" y="468.8" width="5.1" height="8.1" fill="#4b4b4b"/>
<rect x="423.4" y="458.7" width="10.2" height="6.1" fill="#969696"/>
<rect x="446.7" y="456.6" width="21.3" height="8.1" fill="#a5a5a5"/>
<rect x="482.3" y="458.7" width="8.1" height="6.1" fill="#a5a5a5"/>
<rect x="491.5" y="454.6" width="21.3" height="4.1" fill="#b4b4b4"/>
<rect x="515.9" y="458.7" width="5.1" height="6.1" fill="#878787"/>
<rect x="407.1" y="444.4" width="8.1" height="8.1" fill="#696969"/>
<rect x="443.7" y="444.4" width="6.1" height="8.1" fill="#696969"/>
<rect x="434.5" y="468.8" width="6.1" height="10.2" fill="#4b4b4b"/>
<rect x="511.8" y="468.8" width="9.1" height="10.2" fill="#4b4b4b"/>
<rect x="410.1" y="490.2" width="11.2" height="7.1" fill="#878787"/>
<rect x="549.4" y="491.2" width="9.1" height="8.1" fill="#e8e8e8"/>
<rect x="700.9" y="481.0" width="7.1" height="7.1" fill="#b4b4b4"/>
<rect x="717.1" y="481.0" width="9.1" height="8.1" fill="#dadada"/>
<rect x="732.4" y="477.0" width="2.0" height="12.2" fill="#a5a5a5"/>
<rect x="650.0" y="487.1" width="7.1" height="6.1" fill="#878787"/>
<rect x="777.1" y="491.2" width="7.1" height="8.1" fill="#a5a5a5"/>
<rect x="772.0" y="499.3" width="7.1" height="8.1" fill="#969696"/>
<rect x="752.7" y="498.3" width="8.1" height="9.1" fill="#969696"/>
<rect x="737.5" y="507.5" width="7.1" height="9.1" fill="#a5a5a5"/>
<rect x="762.9" y="507.5" width="5.1" height="9.1" fill="#969696"/>
<rect x="602.3" y="507.5" width="8.1" height="8.1" fill="#4b4b4b"/>
<rect x="795.4" y="515.6" width="6.1" height="8.1" fill="#4b4b4b"/>
<rect x="572.8" y="521.7" width="8.1" height="10.2" fill="#a5a5a5"/>
<rect x="563.6" y="521.7" width="3.0" height="10.2" fill="#a5a5a5"/>
<rect x="591.1" y="521.7" width="3.0" height="10.2" fill="#969696"/>
<rect x="634.8" y="527.8" width="6.1" height="10.2" fill="#f8f8f8"/>
<rect x="654.1" y="527.8" width="19.3" height="10.2" fill="#ffffff"/>
<rect x="668.3" y="517.6" width="5.1" height="10.2" fill="#878787"/>
<rect x="699.8" y="529.8" width="8.1" height="8.1" fill="#f8f8f8"/>
<rect x="715.1" y="529.8" width="3.0" height="8.1" fill="#ffffff"/>
<rect x="721.2" y="529.8" width="7.1" height="8.1" fill="#dadada"/>
<rect x="735.4" y="529.8" width="2.0" height="8.1" fill="#f8f8f8"/>
<rect x="757.8" y="529.8" width="7.1" height="8.1" fill="#f8f8f8"/>
<rect x="631.7" y="546.1" width="5.1" height="10.2" fill="#969696"/>
<rect x="534.2" y="554.2" width="7.1" height="10.8" fill="#ffffff"/>
<rect x="683.6" y="556.3" width="6.1" height="8.7" fill="#f8f8f8"/>
<rect x="697.8" y="556.3" width="5.1" height="8.7" fill="#f8f8f8"/>
<rect x="420.3" y="558.3" width="9.1" height="6.7" fill="#a5a5a5"/>
<rect x="409.1" y="546.1" width="8.1" height="10.2" fill="#4b4b4b"/>
<rect x="821.0" y="389.6" width="4.1" height="11.2" fill="#a5a5a5"/>
<rect x="838.3" y="389.6" width="7.1" height="11.2" fill="#dadada"/>
<rect x="895.2" y="399.7" width="9.1" height="11.2" fill="#969696"/>
<rect x="982.6" y="390.6" width="7.1" height="10.2" fill="#b4b4b4"/>
<rect x="995.8" y="390.6" width="3.0" height="10.2" fill="#a5a5a5"/>
<rect x="1019.2" y="390.6" width="6.1" height="10.2" fill="#969696"/>
<rect x="1034.5" y="390.6" width="3.0" height="8.1" fill="#5a5a5a"/>
<rect x="1091.4" y="390.6" width="4.1" height="10.2" fill="#969696"/>
<rect x="1204.2" y="400.7" width="5.1" height="10.2" fill="#a5a5a5"/>
<rect x="1171.7" y="400.7" width="4.1" height="10.2" fill="#4b4b4b"/>
<rect x="917.6" y="390.6" width="4.1" height="8.1" fill="#4b4b4b"/>
<rect x="821.0" y="428.2" width="4.1" height="12.2" fill="#ffffff"/>
<rect x="838.3" y="428.2" width="8.1" height="12.2" fill="#ffffff"/>
<rect x="844.4" y="440.4" width="5.1" height="4.1" fill="#a5a5a5"/>
<rect x="861.7" y="444.4" width="3.0" height="10.2" fill="#ffffff"/>
<rect x="867.8" y="452.6" width="7.1" height="12.2" fill="#ffffff"/>
<rect x="872.8" y="442.4" width="7.1" height="10.2" fill="#e8e8e8"/>
<rect x="886.1" y="436.3" width="20.3" height="8.1" fill="#f8f8f8"/>
<rect x="898.3" y="430.2" width="8.1" height="6.1" fill="#e8e8e8"/>
<rect x="886.1" y="454.6" width="8.1" height="6.1" fill="#e8e8e8"/>
<rect x="902.3" y="444.4" width="8.1" height="8.1" fill="#dadada"/>
<rect x="916.5" y="430.2" width="6.1" height="8.1" fill="#f8f8f8"/>
<rect x="912.5" y="456.6" width="6.1" height="8.1" fill="#b4b4b4"/>
<rect x="936.9" y="436.3" width="8.1" height="10.2" fill="#e8e8e8"/>
<rect x="940.9" y="448.5" width="10.2" height="12.2" fill="#ffffff"/>
<rect x="928.7" y="456.6" width="6.1" height="8.1" fill="#969696"/>
<rect x="961.3" y="456.6" width="6.1" height="8.1" fill="#dadada"/>
<rect x="975.5" y="454.6" width="5.1" height="8.1" fill="#e8e8e8"/>
<rect x="977.5" y="429.2" width="12.2" height="11.2" fill="#ffffff"/>
<rect x="979.6" y="442.4" width="8.1" height="12.2" fill="#ffffff"/>
<rect x="995.8" y="430.2" width="3.0" height="8.1" fill="#ffffff"/>
<rect x="1005.0" y="430.2" width="4.1" height="8.1" fill="#e8e8e8"/>
<rect x="991.8" y="454.6" width="7.1" height="8.1" fill="#e8e8e8"/>
<rect x="999.9" y="454.6" width="6.1" height="8.1" fill="#dadada"/>
<rect x="1010.1" y="454.6" width="6.1" height="8.1" fill="#e8e8e8"/>
<rect x="1019.2" y="454.6" width="9.1" height="10.2" fill="#ffffff"/>
<rect x="1020.2" y="429.2" width="10.2" height="9.1" fill="#f8f8f8"/>
<rect x="1033.4" y="430.2" width="4.1" height="8.1" fill="#e8e8e8"/>
<rect x="1040.6" y="454.6" width="5.1" height="8.1" fill="#f8f8f8"/>
<rect x="1046.7" y="440.4" width="10.2" height="14.2" fill="#ffffff"/>
<rect x="1059.9" y="440.4" width="16.3" height="14.2" fill="#e8e8e8"/>
<rect x="1055.8" y="425.1" width="4.1" height="6.1" fill="#a5a5a5"/>
<rect x="1078.2" y="430.2" width="6.1" height="10.2" fill="#969696"/>
<rect x="1091.4" y="430.2" width="4.1" height="10.2" fill="#e8e8e8"/>
<rect x="1090.4" y="442.4" width="12.2" height="12.2" fill="#ffffff"/>
<rect x="1136.1" y="430.2" width="8.1" height="8.1" fill="#dadada"/>
<rect x="1136.1" y="440.4" width="10.2" height="14.2" fill="#ffffff"/>
<rect x="1155.4" y="442.4" width="4.1" height="12.2" fill="#ffffff"/>
<rect x="1166.6" y="438.4" width="12.2" height="14.2" fill="#b4b4b4"/>
<rect x="1186.9" y="454.6" width="10.2" height="10.2" fill="#ffffff"/>
<rect x="1201.2" y="444.4" width="16.3" height="10.2" fill="#e8e8e8"/>
<rect x="1220.5" y="430.2" width="4.1" height="8.1" fill="#f8f8f8"/>
<rect x="1232.7" y="438.4" width="3.0" height="6.1" fill="#787878"/>
<rect x="834.2" y="454.6" width="6.1" height="6.1" fill="#a5a5a5"/>
<rect x="829.1" y="418.0" width="6.1" height="8.1" fill="#696969"/>
<rect x="868.8" y="414.0" width="6.1" height="8.1" fill="#696969"/>
<rect x="982.6" y="401.8" width="5.1" height="20.3" fill="#5a5a5a"/>
<rect x="894.2" y="469.9" width="9.1" height="4.1" fill="#969696"/>
<rect x="912.5" y="468.8" width="10.2" height="10.2" fill="#878787"/>
<rect x="930.8" y="468.8" width="4.1" height="8.1" fill="#787878"/>
<rect x="881.0" y="483.1" width="4.1" height="6.1" fill="#969696"/>
<rect x="895.2" y="492.2" width="10.2" height="7.1" fill="#dadada"/>
<rect x="854.5" y="491.2" width="6.1" height="6.1" fill="#4b4b4b"/>
<rect x="1073.1" y="474.9" width="7.1" height="8.1" fill="#4b4b4b"/>
<rect x="1123.9" y="474.9" width="10.2" height="6.1" fill="#969696"/>
<rect x="1130.0" y="493.2" width="4.1" height="4.1" fill="#878787"/>
<rect x="1165.6" y="493.2" width="3.0" height="4.1" fill="#878787"/>
<rect x="881.0" y="507.5" width="21.3" height="10.2" fill="#dadada"/>
<rect x="908.4" y="507.5" width="9.1" height="8.1" fill="#b4b4b4"/>
<rect x="927.7" y="507.5" width="4.1" height="10.2" fill="#dadada"/>
<rect x="942.0" y="506.5" width="9.1" height="9.1" fill="#969696"/>
<rect x="955.2" y="507.5" width="9.1" height="8.1" fill="#b4b4b4"/>
<rect x="972.5" y="507.5" width="6.1" height="8.1" fill="#a5a5a5"/>
<rect x="1090.4" y="507.5" width="6.1" height="10.2" fill="#dadada"/>
<rect x="1118.8" y="507.5" width="7.1" height="10.2" fill="#dadada"/>
<rect x="1148.3" y="507.5" width="5.1" height="10.2" fill="#a5a5a5"/>
<rect x="1156.4" y="505.4" width="3.0" height="10.2" fill="#969696"/>
<rect x="1171.7" y="507.5" width="6.1" height="8.1" fill="#b4b4b4"/>
<rect x="1185.9" y="507.5" width="4.1" height="8.1" fill="#a5a5a5"/>
<rect x="1204.2" y="507.5" width="5.1" height="8.1" fill="#a5a5a5"/>
<rect x="1216.4" y="507.5" width="3.0" height="8.1" fill="#e8e8e8"/>
<rect x="1231.7" y="505.4" width="6.1" height="12.2" fill="#dadada"/>
<rect x="823.0" y="505.4" width="2.0" height="8.1" fill="#969696"/>
<rect x="1081.2" y="516.6" width="5.1" height="6.1" fill="#969696"/>
<rect x="999.9" y="517.6" width="6.1" height="6.1" fill="#787878"/>
<rect x="1153.4" y="521.7" width="4.1" height="10.2" fill="#969696"/>
<rect x="1164.6" y="527.8" width="5.1" height="10.2" fill="#ffffff"/>
<rect x="828.1" y="531.9" width="11.2" height="6.1" fill="#ffffff"/>
<rect x="844.4" y="531.9" width="3.0" height="6.1" fill="#f8f8f8"/>
<rect x="1009.0" y="535.9" width="12.2" height="11.2" fill="#f8f8f8"/>
<rect x="1030.4" y="533.9" width="4.1" height="12.2" fill="#e8e8e8"/>
<rect x="1096.5" y="535.9" width="8.1" height="11.2" fill="#ffffff"/>
<rect x="1119.8" y="546.1" width="10.2" height="10.2" fill="#a5a5a5"/>
<rect x="1142.2" y="546.1" width="8.1" height="10.2" fill="#a5a5a5"/>
<rect x="1161.5" y="546.1" width="7.1" height="10.2" fill="#a5a5a5"/>
<rect x="995.8" y="546.1" width="10.2" height="10.2" fill="#787878"/>
<rect x="972.5" y="546.1" width="7.1" height="10.2" fill="#4b4b4b"/>
<rect x="1206.2" y="523.7" width="4.1" height="8.1" fill="#5a5a5a"/>
<rect x="1480.9" y="398.7" width="180.1" height="16.3" fill="#292929"/>
<rect x="1480.9" y="402.2" width="180.1" height="9.8" fill="#333333"/>
<rect x="1480.9" y="405.0" width="180.1" height="4.1" fill="#424242"/>
<rect x="1302.0" y="389.6" width="14.2" height="10.2" fill="#878787"/>
<rect x="1336.5" y="388.5" width="15.2" height="12.2" fill="#878787"/>
<rect x="1368.1" y="389.6" width="9.1" height="10.2" fill="#878787"/>
<rect x="1263.4" y="400.7" width="4.1" height="10.2" fill="#696969"/>
<rect x="1278.6" y="400.7" width="6.1" height="10.2" fill="#969696"/>
<rect x="1424.0" y="399.7" width="4.1" height="11.2" fill="#5a5a5a"/>
<rect x="1451.4" y="390.6" width="4.1" height="9.1" fill="#5a5a5a"/>
<rect x="1289.8" y="429.2" width="5.1" height="9.1" fill="#f8f8f8"/>
<rect x="1301.0" y="428.2" width="16.3" height="11.2" fill="#ffffff"/>
<rect x="1336.5" y="428.2" width="15.2" height="11.2" fill="#ffffff"/>
<rect x="1368.1" y="428.2" width="9.1" height="11.2" fill="#ffffff"/>
<rect x="1393.5" y="428.2" width="30.5" height="8.1" fill="#ffffff"/>
<rect x="1415.8" y="436.3" width="12.2" height="16.3" fill="#f8f8f8"/>
<rect x="1414.8" y="456.6" width="8.1" height="8.1" fill="#ffffff"/>
<rect x="1409.7" y="467.8" width="14.2" height="7.1" fill="#a5a5a5"/>
<rect x="1446.3" y="425.1" width="10.2" height="11.2" fill="#ffffff"/>
<rect x="1473.8" y="428.2" width="4.1" height="10.2" fill="#e8e8e8"/>
<rect x="1259.3" y="428.2" width="9.1" height="10.2" fill="#969696"/>
<rect x="1256.2" y="444.4" width="13.2" height="16.3" fill="#ffffff"/>
<rect x="1254.2" y="452.6" width="5.1" height="10.2" fill="#a5a5a5"/>
<rect x="1274.5" y="444.4" width="10.2" height="10.2" fill="#f8f8f8"/>
<rect x="1301.0" y="454.6" width="8.1" height="10.2" fill="#dadada"/>
<rect x="1320.3" y="444.4" width="5.1" height="10.2" fill="#787878"/>
<rect x="1353.8" y="444.4" width="13.2" height="10.2" fill="#dadada"/>
<rect x="1378.2" y="444.4" width="7.1" height="10.2" fill="#a5a5a5"/>
<rect x="1387.4" y="456.6" width="4.1" height="8.1" fill="#969696"/>
<rect x="1399.6" y="456.6" width="4.1" height="8.1" fill="#f8f8f8"/>
<rect x="1406.7" y="444.4" width="5.1" height="10.2" fill="#878787"/>
<rect x="1449.4" y="454.6" width="6.1" height="10.2" fill="#ffffff"/>
<rect x="1467.7" y="454.6" width="9.1" height="10.2" fill="#ffffff"/>
<rect x="1476.8" y="444.4" width="28.5" height="10.2" fill="#b4b4b4"/>
<rect x="1513.4" y="434.3" width="6.1" height="20.3" fill="#e8e8e8"/>
<rect x="1521.5" y="444.4" width="13.2" height="10.2" fill="#a5a5a5"/>
<rect x="1548.0" y="452.6" width="7.1" height="13.2" fill="#ffffff"/>
<rect x="1556.1" y="442.4" width="8.1" height="12.2" fill="#969696"/>
<rect x="1572.4" y="444.4" width="7.1" height="8.1" fill="#e8e8e8"/>
<rect x="1580.5" y="440.4" width="8.1" height="14.2" fill="#ffffff"/>
<rect x="1594.7" y="440.4" width="20.3" height="14.2" fill="#b4b4b4"/>
<rect x="1619.1" y="444.4" width="4.1" height="18.3" fill="#a5a5a5"/>
<rect x="1631.3" y="444.4" width="12.2" height="10.2" fill="#969696"/>
<rect x="1653.7" y="444.4" width="7.3" height="14.2" fill="#969696"/>
<rect x="1606.9" y="467.8" width="10.2" height="7.1" fill="#ffffff"/>
<rect x="1523.6" y="467.8" width="3.0" height="11.2" fill="#e8e8e8"/>
<rect x="1494.1" y="468.8" width="14.2" height="8.1" fill="#878787"/>
<rect x="1445.3" y="468.8" width="8.1" height="6.1" fill="#969696"/>
<rect x="1464.6" y="477.0" width="7.1" height="11.2" fill="#e8e8e8"/>
<rect x="1590.7" y="482.1" width="8.1" height="6.1" fill="#a5a5a5"/>
<rect x="1302.0" y="474.9" width="5.1" height="8.1" fill="#a5a5a5"/>
<rect x="1314.2" y="472.9" width="5.1" height="10.2" fill="#969696"/>
<rect x="1352.8" y="468.8" width="6.1" height="8.1" fill="#787878"/>
<rect x="1339.6" y="468.8" width="5.1" height="8.1" fill="#696969"/>
<rect x="1275.6" y="468.8" width="4.1" height="6.1" fill="#696969"/>
<rect x="1274.5" y="493.2" width="12.2" height="5.1" fill="#b4b4b4"/>
<rect x="1298.9" y="493.2" width="5.1" height="5.1" fill="#a5a5a5"/>
<rect x="1254.2" y="503.4" width="4.1" height="5.1" fill="#b4b4b4"/>
<rect x="1263.4" y="506.5" width="3.0" height="10.2" fill="#969696"/>
<rect x="1302.0" y="507.5" width="6.1" height="8.1" fill="#b4b4b4"/>
<rect x="1318.3" y="507.5" width="5.1" height="5.1" fill="#969696"/>
<rect x="1334.5" y="487.1" width="4.1" height="6.1" fill="#787878"/>
<rect x="1346.7" y="487.1" width="5.1" height="6.1" fill="#696969"/>
<rect x="1381.3" y="507.5" width="5.1" height="5.1" fill="#a5a5a5"/>
<rect x="1408.7" y="507.5" width="5.1" height="5.1" fill="#878787"/>
<rect x="1476.8" y="507.5" width="8.1" height="5.1" fill="#969696"/>
<rect x="1505.3" y="503.4" width="6.1" height="5.1" fill="#a5a5a5"/>
<rect x="1513.4" y="497.3" width="7.1" height="11.2" fill="#ffffff"/>
<rect x="1530.7" y="497.3" width="6.1" height="11.2" fill="#ffffff"/>
<rect x="1566.3" y="503.4" width="5.1" height="5.1" fill="#878787"/>
<rect x="1619.1" y="502.4" width="7.1" height="6.1" fill="#f8f8f8"/>
<rect x="1628.3" y="492.2" width="9.1" height="7.1" fill="#ffffff"/>
<rect x="1643.5" y="492.2" width="5.1" height="7.1" fill="#ffffff"/>
<rect x="1645.6" y="509.5" width="4.1" height="6.1" fill="#4b4b4b"/>
<rect x="1316.2" y="521.7" width="7.1" height="11.2" fill="#ffffff"/>
<rect x="1335.5" y="521.7" width="9.1" height="10.2" fill="#ffffff"/>
<rect x="1351.8" y="521.7" width="6.1" height="10.2" fill="#b4b4b4"/>
<rect x="1421.9" y="521.7" width="9.1" height="10.2" fill="#e8e8e8"/>
<rect x="1442.3" y="521.7" width="18.3" height="10.2" fill="#f8f8f8"/>
<rect x="1468.7" y="521.7" width="5.1" height="10.2" fill="#f8f8f8"/>
<rect x="1486.0" y="521.7" width="4.1" height="10.2" fill="#b4b4b4"/>
<rect x="1508.3" y="521.7" width="4.1" height="10.2" fill="#a5a5a5"/>
<rect x="1533.7" y="521.7" width="3.0" height="10.2" fill="#a5a5a5"/>
<rect x="1600.8" y="521.7" width="6.1" height="12.2" fill="#ffffff"/>
<rect x="1273.5" y="531.9" width="14.2" height="7.1" fill="#ffffff"/>
<rect x="1267.4" y="538.0" width="8.1" height="8.1" fill="#b4b4b4"/>
<rect x="1298.9" y="531.9" width="5.1" height="6.1" fill="#ffffff"/>
<rect x="1317.2" y="535.9" width="6.1" height="11.2" fill="#ffffff"/>
<rect x="1634.4" y="535.9" width="9.1" height="11.2" fill="#b4b4b4"/>
<rect x="1643.5" y="533.9" width="2.0" height="12.2" fill="#e8e8e8"/>
<rect x="1586.6" y="532.9" width="20.3" height="5.1" fill="#4b4b4b"/>
<rect x="1453.4" y="546.1" width="7.1" height="10.2" fill="#4b4b4b"/>
<rect x="1478.9" y="556.3" width="6.1" height="8.7" fill="#5a5a5a"/>
<rect x="1660.9" y="397.9" width="136.6" height="17.1" fill="#292929"/>
<rect x="1660.9" y="401.5" width="136.6" height="10.6" fill="#333333"/>
<rect x="1660.9" y="404.6" width="136.6" height="3.9" fill="#424242"/>
<rect x="1702.0" y="390.4" width="4.9" height="9.8" fill="#a5a5a5"/>
<rect x="1725.7" y="388.5" width="4.9" height="11.8" fill="#a5a5a5"/>
<rect x="1675.5" y="425.9" width="5.9" height="9.8" fill="#e8e8e8"/>
<rect x="1686.3" y="425.9" width="4.9" height="9.8" fill="#dadada"/>
<rect x="1702.0" y="427.8" width="5.9" height="11.8" fill="#ffffff"/>
<rect x="1725.7" y="427.8" width="4.9" height="11.8" fill="#ffffff"/>
<rect x="1738.5" y="439.6" width="5.9" height="5.9" fill="#b4b4b4"/>
<rect x="1752.2" y="433.7" width="3.9" height="9.8" fill="#f8f8f8"/>
<rect x="1770.0" y="425.9" width="5.9" height="13.8" fill="#f8f8f8"/>
<rect x="1719.8" y="441.6" width="6.9" height="11.8" fill="#e8e8e8"/>
<rect x="1781.8" y="455.4" width="10.8" height="9.8" fill="#ffffff"/>
<rect x="1775.9" y="443.6" width="3.9" height="15.7" fill="#969696"/>
<rect x="1759.1" y="427.8" width="4.9" height="5.9" fill="#696969"/>
<rect x="1661.7" y="443.6" width="11.8" height="9.8" fill="#b4b4b4"/>
<rect x="1659.7" y="455.4" width="7.9" height="9.8" fill="#e8e8e8"/>
<rect x="1661.7" y="465.2" width="9.8" height="23.6" fill="#787878"/>
<rect x="1677.4" y="455.4" width="3.9" height="9.8" fill="#696969"/>
<rect x="1687.3" y="457.4" width="3.9" height="11.8" fill="#a5a5a5"/>
<rect x="1683.3" y="477.0" width="7.9" height="5.9" fill="#5a5a5a"/>
<rect x="1754.2" y="483.0" width="7.9" height="11.8" fill="#000000"/>
<rect x="1760.1" y="504.6" width="7.9" height="9.8" fill="#f8f8f8"/>
<rect x="1785.7" y="498.7" width="7.9" height="9.8" fill="#ffffff"/>
<rect x="1681.4" y="502.6" width="8.9" height="5.9" fill="#4b4b4b"/>
<rect x="1746.3" y="492.8" width="9.8" height="7.9" fill="#4b4b4b"/>
<rect x="1748.3" y="536.1" width="7.9" height="11.8" fill="#ffffff"/>
<rect x="1768.0" y="536.1" width="3.9" height="11.8" fill="#ffffff"/>
<rect x="1790.6" y="536.1" width="3.9" height="11.8" fill="#ffffff"/>
<rect x="121.0" y="506.3" width="4.1" height="12.2" fill="#dadada"/>
<rect x="133.2" y="520.5" width="5.1" height="14.2" fill="#f8f8f8"/>
<rect x="172.8" y="522.5" width="4.1" height="10.2" fill="#787878"/>
<rect x="237.9" y="517.4" width="7.1" height="5.1" fill="#a5a5a5"/>
<rect x="246.0" y="520.5" width="4.1" height="13.2" fill="#a5a5a5"/>
<rect x="267.4" y="520.5" width="8.1" height="13.2" fill="#b4b4b4"/>
<rect x="282.6" y="520.5" width="4.1" height="13.2" fill="#a5a5a5"/>
<rect x="290.7" y="522.5" width="5.1" height="8.1" fill="#5a5a5a"/>
<rect x="307.0" y="520.5" width="6.1" height="12.2" fill="#a5a5a5"/>
<rect x="315.1" y="535.7" width="8.1" height="12.2" fill="#ffffff"/>
<rect x="334.5" y="520.5" width="9.1" height="12.2" fill="#5a5a5a"/>
<rect x="357.8" y="508.3" width="9.1" height="4.1" fill="#969696"/>
<rect x="392.4" y="502.2" width="6.1" height="6.1" fill="#969696"/>
<rect x="362.9" y="504.2" width="4.1" height="8.1" fill="#5a5a5a"/>
<rect x="233.8" y="560.1" width="7.1" height="11.2" fill="#ffffff"/>
<rect x="256.2" y="561.2" width="4.1" height="10.2" fill="#ffffff"/>
<rect x="238.9" y="580.5" width="11.2" height="10.2" fill="#b4b4b4"/>
<rect x="265.3" y="580.5" width="9.1" height="9.1" fill="#b4b4b4"/>
<rect x="368.0" y="585.5" width="10.2" height="5.1" fill="#969696"/>
<rect x="375.1" y="546.9" width="6.1" height="8.1" fill="#4b4b4b"/>
<rect x="129.1" y="546.9" width="4.1" height="10.2" fill="#4b4b4b"/>
<rect x="339.5" y="570.3" width="2.0" height="5.1" fill="#878787"/>
<rect x="419.8" y="564.2" width="10.2" height="7.1" fill="#dadada"/>
<rect x="533.7" y="561.2" width="7.3" height="10.2" fill="#ffffff"/>
<rect x="451.4" y="571.3" width="7.1" height="4.1" fill="#4b4b4b"/>
<rect x="683.3" y="565.0" width="7.1" height="8.3" fill="#ffffff"/>
<rect x="697.5" y="565.0" width="6.1" height="8.3" fill="#ffffff"/>
<rect x="627.4" y="579.4" width="6.1" height="10.2" fill="#969696"/>
<rect x="615.2" y="591.6" width="4.1" height="10.2" fill="#dadada"/>
<rect x="859.2" y="581.5" width="11.2" height="12.2" fill="#ffffff"/>
<rect x="895.7" y="593.7" width="8.1" height="8.1" fill="#dadada"/>
<rect x="906.9" y="593.7" width="3.0" height="8.1" fill="#b4b4b4"/>
<rect x="951.7" y="567.3" width="5.1" height="12.2" fill="#dadada"/>
<rect x="541.0" y="570.3" width="8.1" height="5.1" fill="#4b4b4b"/>
<rect x="609.1" y="570.3" width="11.2" height="5.1" fill="#4b4b4b"/>
<rect x="965.1" y="583.5" width="5.1" height="10.2" fill="#e8e8e8"/>
<rect x="1080.9" y="583.5" width="10.2" height="10.2" fill="#969696"/>
<rect x="1080.9" y="571.3" width="12.2" height="4.1" fill="#4b4b4b"/>
<rect x="1209.0" y="579.4" width="8.1" height="6.1" fill="#4b4b4b"/>
<rect x="1278.1" y="561.2" width="8.1" height="12.2" fill="#5a5a5a"/>
<rect x="1299.5" y="561.2" width="3.0" height="12.2" fill="#696969"/>
<rect x="1329.0" y="581.5" width="15.2" height="12.2" fill="#ffffff"/>
<rect x="1354.4" y="579.4" width="12.2" height="14.2" fill="#ffffff"/>
<rect x="1312.7" y="591.6" width="5.1" height="12.2" fill="#e8e8e8"/>
<rect x="1377.8" y="563.2" width="3.3" height="8.1" fill="#969696"/>
<rect x="1259.8" y="571.3" width="4.1" height="4.1" fill="#5a5a5a"/>
<rect x="1385.1" y="581.5" width="15.2" height="13.2" fill="#ffffff"/>
<rect x="1401.3" y="581.5" width="3.0" height="13.2" fill="#f8f8f8"/>
<rect x="1405.4" y="581.5" width="7.1" height="13.2" fill="#ffffff"/>
<rect x="1414.5" y="581.5" width="4.1" height="13.2" fill="#ffffff"/>
<rect x="1432.8" y="579.4" width="13.2" height="15.2" fill="#ffffff"/>
<rect x="1486.7" y="581.5" width="17.3" height="13.2" fill="#ffffff"/>
<rect x="1540.6" y="583.5" width="14.2" height="10.2" fill="#e8e8e8"/>
<rect x="1567.0" y="581.5" width="13.2" height="13.2" fill="#ffffff"/>
<rect x="1587.3" y="583.5" width="2.0" height="9.1" fill="#f8f8f8"/>
<rect x="1595.5" y="583.5" width="9.1" height="9.1" fill="#f8f8f8"/>
<rect x="1607.7" y="583.5" width="5.1" height="9.1" fill="#f8f8f8"/>
<rect x="1619.9" y="583.5" width="9.1" height="9.1" fill="#f8f8f8"/>
<rect x="1635.1" y="583.5" width="10.2" height="9.1" fill="#e8e8e8"/>
<rect x="1656.5" y="583.5" width="11.2" height="9.1" fill="#ffffff"/>
<rect x="1714.4" y="583.5" width="5.1" height="9.1" fill="#b4b4b4"/>
<rect x="1721.5" y="581.5" width="7.1" height="13.2" fill="#ffffff"/>
<rect x="1731.7" y="583.5" width="2.0" height="9.1" fill="#e8e8e8"/>
<rect x="1734.7" y="583.5" width="2.0" height="9.1" fill="#f8f8f8"/>
<rect x="1737.8" y="583.5" width="4.1" height="9.1" fill="#dadada"/>
<rect x="1749.0" y="583.5" width="3.0" height="9.1" fill="#f8f8f8"/>
<rect x="1763.2" y="583.5" width="8.1" height="9.1" fill="#dadada"/>
<rect x="1780.5" y="583.5" width="4.1" height="9.1" fill="#f8f8f8"/>
<rect x="1787.6" y="583.5" width="5.1" height="9.1" fill="#dadada"/>
<rect x="1392.2" y="564.2" width="12.2" height="7.1" fill="#a5a5a5"/>
<rect x="1422.7" y="565.2" width="9.1" height="6.1" fill="#969696"/>
<rect x="1477.6" y="561.2" width="7.1" height="10.2" fill="#dadada"/>
<rect x="1576.2" y="565.2" width="8.1" height="6.1" fill="#696969"/>
<rect x="1602.6" y="564.2" width="7.1" height="7.1" fill="#696969"/>
<rect x="1620.9" y="564.2" width="5.1" height="7.1" fill="#969696"/>
<rect x="1622.9" y="571.3" width="18.3" height="10.2" fill="#787878"/>
<rect x="1692.0" y="593.7" width="6.1" height="7.1" fill="#878787"/>
<rect x="1703.2" y="593.7" width="2.0" height="7.1" fill="#787878"/>
<rect x="1684.9" y="569.3" width="1.0" height="12.2" fill="#787878"/>
<rect x="1381.0" y="565.2" width="2.0" height="6.1" fill="#969696"/>
<rect x="1602.2" y="259.7" width="4.1" height="9.3" fill="#969696"/>
<rect x="1615.2" y="262.1" width="5.7" height="16.2" fill="#a5a5a5"/>
<rect x="1627.4" y="269.0" width="4.9" height="8.1" fill="#a5a5a5"/>
<rect x="1640.3" y="268.2" width="10.5" height="8.9" fill="#dadada"/>
<rect x="1751.4" y="259.7" width="4.9" height="9.7" fill="#969696"/>
<rect x="1761.9" y="259.7" width="7.3" height="9.7" fill="#dadada"/>
<rect x="1403.7" y="267.0" width="4.1" height="10.1" fill="#969696"/>
<rect x="122.0" y="268.0" width="5.0" height="8.0" fill="#787878"/>
<rect x="1387.0" y="92.0" width="12.0" height="6.0" fill="#444444"/>
<rect x="111.0" y="609.0" width="1694.0" height="9.0" fill="#000" fill-opacity="0.038"/>
<rect x="111.0" y="611.5" width="1694.0" height="4.0" fill="#000" fill-opacity="0.111"/>
<rect x="111.0" y="658.0" width="1694.0" height="10.0" fill="#000" fill-opacity="0.038"/>
<rect x="111.0" y="660.5" width="1694.0" height="5.0" fill="#000" fill-opacity="0.111"/>
<rect x="111.0" y="856.0" width="1694.0" height="13.0" fill="#000" fill-opacity="0.038"/>
<rect x="111.0" y="858.5" width="1694.0" height="8.0" fill="#000" fill-opacity="0.111"/>
<rect x="1000.0" y="715.0" width="805.0" height="11.0" fill="#000" fill-opacity="0.038"/>
<rect x="1000.0" y="718.0" width="805.0" height="5.0" fill="#000" fill-opacity="0.111"/>
<rect x="700.0" y="950.0" width="600.0" height="25.0" fill="#000" fill-opacity="0.087"/>
<rect x="760.0" y="958.0" width="480.0" height="17.0" fill="#000" fill-opacity="0.135"/>
<polyline points="161.5,650.8 242.6,648.8 287.1,660.9 347.9,648.8 404.6,644.7 445.1,636.6" fill="none" stroke="#2c2c2c" stroke-width="3.5" stroke-linejoin="round"/>
<polyline points="364.1,671.0 404.6,658.9 437.0,646.7 465.4,638.6" fill="none" stroke="#2c2c2c" stroke-width="3.5" stroke-linejoin="round"/>
<polyline points="445.1,671.0 485.7,658.9 526.2,662.9 542.4,660.9 607.2,656.9 647.7,642.7" fill="none" stroke="#2c2c2c" stroke-width="3.5" stroke-linejoin="round"/>
<polyline points="728.8,665.0 769.3,650.8" fill="none" stroke="#2c2c2c" stroke-width="3.5" stroke-linejoin="round"/>
<polyline points="850.3,662.9 890.9,646.7 958.1,658.9" fill="none" stroke="#2c2c2c" stroke-width="3.5" stroke-linejoin="round"/>
<polyline points="242.6,869.6 299.3,853.4 364.1,849.3 404.6,837.2" fill="none" stroke="#2c2c2c" stroke-width="3.5" stroke-linejoin="round"/>
<polyline points="372.2,897.9 404.6,873.6 428.9,849.3 453.3,833.1" fill="none" stroke="#2c2c2c" stroke-width="3.5" stroke-linejoin="round"/>
<polyline points="380.3,930.4 428.9,902.0 469.5,873.6 526.2,857.4 566.7,849.3 627.5,857.4 688.3,865.5 728.8,853.4 753.1,833.1" fill="none" stroke="#2c2c2c" stroke-width="3.5" stroke-linejoin="round"/>
<polyline points="412.7,926.3 457.3,902.0 505.9,897.9 546.4,889.8 627.5,881.7" fill="none" stroke="#2c2c2c" stroke-width="3.5" stroke-linejoin="round"/>
<polyline points="477.6,926.3 526.2,914.1 558.6,897.9 627.5,897.9" fill="none" stroke="#2c2c2c" stroke-width="3.5" stroke-linejoin="round"/>
<polyline points="546.4,928.3 587.0,926.3 627.5,914.1 704.5,914.1" fill="none" stroke="#2c2c2c" stroke-width="3.5" stroke-linejoin="round"/>
<polyline points="769.3,873.6 809.8,857.4 850.3,869.6 890.9,869.6 958.1,853.4" fill="none" stroke="#2c2c2c" stroke-width="3.5" stroke-linejoin="round"/>
<polyline points="958.0,654.8 990.4,675.1 1039.0,650.8 1079.6,658.9 1128.2,650.8 1160.6,662.9 1201.1,658.9 1241.6,654.8 1282.1,646.7 1314.6,662.9 1363.2,675.1" fill="none" stroke="#2c2c2c" stroke-width="3.5" stroke-linejoin="round"/>
<polyline points="1363.2,650.8 1419.9,662.9 1464.5,667.0 1525.3,667.0 1565.8,650.8 1606.3,667.0 1667.1,654.8 1707.6,667.0 1795.1,662.9" fill="none" stroke="#2c2c2c" stroke-width="3.5" stroke-linejoin="round"/>
<polyline points="958.0,873.6 1018.8,853.4 1079.6,865.5 1128.2,849.3 1160.6,861.5 1209.2,853.4 1282.1,865.5 1363.2,881.7 1403.7,893.9 1444.2,873.6 1484.7,861.5 1545.5,865.5 1606.3,853.4 1687.3,857.4 1795.1,865.5" fill="none" stroke="#2c2c2c" stroke-width="3.5" stroke-linejoin="round"/>
<polyline points="1047.1,922.3 1128.2,877.7 1184.9,902.0 1217.3,897.9 1290.3,914.1 1322.7,906.0 1363.2,922.3 1411.8,926.3 1456.4,902.0" fill="none" stroke="#2c2c2c" stroke-width="3.5" stroke-linejoin="round"/>
<polyline points="1099.8,938.5 1132.2,918.2 1160.6,930.4" fill="none" stroke="#2c2c2c" stroke-width="3.5" stroke-linejoin="round"/>
</g></g>
<rect x="121.5" y="51.5" width="1674" height="924" fill="none" stroke="#000" stroke-width="1.1"/>
<line x1="116" y1="867.5" x2="121" y2="867.5" stroke="#000" stroke-width="1.1"/>
<text x="71" y="878.7" font-size="30.5" textLength="38.2" lengthAdjust="spacingAndGlyphs" stroke="#000" stroke-width="0.25">60</text>
<line x1="116" y1="725.0" x2="121" y2="725.0" stroke="#000" stroke-width="1.1"/>
<text x="71" y="736.2" font-size="30.5" textLength="38.2" lengthAdjust="spacingAndGlyphs" stroke="#000" stroke-width="0.25">80</text>
<line x1="116" y1="582.5" x2="121" y2="582.5" stroke="#000" stroke-width="1.1"/>
<text x="53" y="593.7" font-size="30.5" textLength="55.6" lengthAdjust="spacingAndGlyphs" stroke="#000" stroke-width="0.25">100</text>
<line x1="116" y1="440.0" x2="121" y2="440.0" stroke="#000" stroke-width="1.1"/>
<text x="53" y="451.2" font-size="30.5" textLength="55.6" lengthAdjust="spacingAndGlyphs" stroke="#000" stroke-width="0.25">120</text>
<line x1="116" y1="297.5" x2="121" y2="297.5" stroke="#000" stroke-width="1.1"/>
<text x="53" y="308.7" font-size="30.5" textLength="55.6" lengthAdjust="spacingAndGlyphs" stroke="#000" stroke-width="0.25">140</text>
<line x1="116" y1="155.0" x2="121" y2="155.0" stroke="#000" stroke-width="1.1"/>
<text x="53" y="166.2" font-size="30.5" textLength="55.6" lengthAdjust="spacingAndGlyphs" stroke="#000" stroke-width="0.25">160</text>
<line x1="121.0" y1="975" x2="121.0" y2="981" stroke="#000" stroke-width="1.1"/>
<text x="121.0" y="1009.8" font-size="30.5" text-anchor="middle" textLength="86.5" lengthAdjust="spacingAndGlyphs" stroke="#000" stroke-width="0.25">09:30</text>
<line x1="232.6" y1="975" x2="232.6" y2="981" stroke="#000" stroke-width="1.1"/>
<text x="232.6" y="1009.8" font-size="30.5" text-anchor="middle" textLength="86.5" lengthAdjust="spacingAndGlyphs" stroke="#000" stroke-width="0.25">09:31</text>
<line x1="344.2" y1="975" x2="344.2" y2="981" stroke="#000" stroke-width="1.1"/>
<text x="344.2" y="1009.8" font-size="30.5" text-anchor="middle" textLength="86.5" lengthAdjust="spacingAndGlyphs" stroke="#000" stroke-width="0.25">09:32</text>
<line x1="455.8" y1="975" x2="455.8" y2="981" stroke="#000" stroke-width="1.1"/>
<text x="455.8" y="1009.8" font-size="30.5" text-anchor="middle" textLength="86.5" lengthAdjust="spacingAndGlyphs" stroke="#000" stroke-width="0.25">09:33</text>
<line x1="567.4" y1="975" x2="567.4" y2="981" stroke="#000" stroke-width="1.1"/>
<text x="567.4" y="1009.8" font-size="30.5" text-anchor="middle" textLength="86.5" lengthAdjust="spacingAndGlyphs" stroke="#000" stroke-width="0.25">09:34</text>
<line x1="679.0" y1="975" x2="679.0" y2="981" stroke="#000" stroke-width="1.1"/>
<text x="679.0" y="1009.8" font-size="30.5" text-anchor="middle" textLength="86.5" lengthAdjust="spacingAndGlyphs" stroke="#000" stroke-width="0.25">09:35</text>
<line x1="790.6" y1="975" x2="790.6" y2="981" stroke="#000" stroke-width="1.1"/>
<text x="790.6" y="1009.8" font-size="30.5" text-anchor="middle" textLength="86.5" lengthAdjust="spacingAndGlyphs" stroke="#000" stroke-width="0.25">09:36</text>
<line x1="902.2" y1="975" x2="902.2" y2="981" stroke="#000" stroke-width="1.1"/>
<text x="902.2" y="1009.8" font-size="30.5" text-anchor="middle" textLength="86.5" lengthAdjust="spacingAndGlyphs" stroke="#000" stroke-width="0.25">09:37</text>
<line x1="1013.8" y1="975" x2="1013.8" y2="981" stroke="#000" stroke-width="1.1"/>
<text x="1013.8" y="1009.8" font-size="30.5" text-anchor="middle" textLength="86.5" lengthAdjust="spacingAndGlyphs" stroke="#000" stroke-width="0.25">09:38</text>
<line x1="1125.4" y1="975" x2="1125.4" y2="981" stroke="#000" stroke-width="1.1"/>
<text x="1125.4" y="1009.8" font-size="30.5" text-anchor="middle" textLength="86.5" lengthAdjust="spacingAndGlyphs" stroke="#000" stroke-width="0.25">09:39</text>
<line x1="1237.0" y1="975" x2="1237.0" y2="981" stroke="#000" stroke-width="1.1"/>
<text x="1237.0" y="1009.8" font-size="30.5" text-anchor="middle" textLength="86.5" lengthAdjust="spacingAndGlyphs" stroke="#000" stroke-width="0.25">09:40</text>
<line x1="1348.6" y1="975" x2="1348.6" y2="981" stroke="#000" stroke-width="1.1"/>
<text x="1348.6" y="1009.8" font-size="30.5" text-anchor="middle" textLength="86.5" lengthAdjust="spacingAndGlyphs" stroke="#000" stroke-width="0.25">09:41</text>
<line x1="1460.2" y1="975" x2="1460.2" y2="981" stroke="#000" stroke-width="1.1"/>
<text x="1460.2" y="1009.8" font-size="30.5" text-anchor="middle" textLength="86.5" lengthAdjust="spacingAndGlyphs" stroke="#000" stroke-width="0.25">09:42</text>
<line x1="1571.8" y1="975" x2="1571.8" y2="981" stroke="#000" stroke-width="1.1"/>
<text x="1571.8" y="1009.8" font-size="30.5" text-anchor="middle" textLength="86.5" lengthAdjust="spacingAndGlyphs" stroke="#000" stroke-width="0.25">09:43</text>
<line x1="1683.4" y1="975" x2="1683.4" y2="981" stroke="#000" stroke-width="1.1"/>
<text x="1683.4" y="1009.8" font-size="30.5" text-anchor="middle" textLength="86.5" lengthAdjust="spacingAndGlyphs" stroke="#000" stroke-width="0.25">09:44</text>
<text x="207.9" y="40.8" font-size="38" textLength="210.9" lengthAdjust="spacingAndGlyphs" stroke="#000" stroke-width="0.3">2025/07/03</text>
<text x="442.7" y="40.8" font-size="38" textLength="102.6" lengthAdjust="spacingAndGlyphs" stroke="#000" stroke-width="0.3">Radio</text>
<text x="558.0" y="40.8" font-size="38" textLength="67.1" lengthAdjust="spacingAndGlyphs" stroke="#000" stroke-width="0.3">flux</text>
<text x="636.6" y="40.8" font-size="38" textLength="148.1" lengthAdjust="spacingAndGlyphs" stroke="#000" stroke-width="0.3">density,</text>
<text x="795.2" y="40.8" font-size="38" textLength="212.1" lengthAdjust="spacingAndGlyphs" stroke="#000" stroke-width="0.3">e-CALLISTO</text>
<text x="1018.4" y="40.8" font-size="38" textLength="413.8" lengthAdjust="spacingAndGlyphs" stroke="#000" stroke-width="0.3">(SWISS-Landschlacht),</text>
<text x="1443.3" y="40.8" font-size="38" textLength="205.8" lengthAdjust="spacingAndGlyphs" stroke="#000" stroke-width="0.3">Focuscode:</text>
<text x="1659.5" y="40.8" font-size="38" textLength="46.3" lengthAdjust="spacingAndGlyphs" stroke="#000" stroke-width="0.3">63</text>
<text x="761" y="1048.6" font-size="34.5" textLength="392.5" lengthAdjust="spacingAndGlyphs" stroke="#000" stroke-width="0.3">Observation time [UTC]</text>
<text transform="translate(37.5,654.5) rotate(-90)" x="0" y="0" font-size="35.5" textLength="279.5" lengthAdjust="spacingAndGlyphs" stroke="#000" stroke-width="0.3">Frequency [MHz]</text>
<text transform="translate(2046,690) rotate(-90)" x="0" y="0" font-size="35" textLength="364" lengthAdjust="spacingAndGlyphs" stroke="#000" stroke-width="0.3">dB above background</text>
<rect x="1936" y="28" width="42" height="959" fill="url(#cbar)"/>
<rect x="1935.5" y="27.5" width="43" height="959.5" fill="none" stroke="#000" stroke-width="1.1"/>
<line x1="1978" y1="987.0" x2="1984" y2="987.0" stroke="#000" stroke-width="1.1"/>
<text x="1992" y="992.9" font-size="17">−2</text>
<line x1="1978" y1="874.0" x2="1984" y2="874.0" stroke="#000" stroke-width="1.1"/>
<text x="1992" y="879.9" font-size="17">0</text>
<line x1="1978" y1="761.1" x2="1984" y2="761.1" stroke="#000" stroke-width="1.1"/>
<text x="1992" y="767.0" font-size="17">2</text>
<line x1="1978" y1="648.1" x2="1984" y2="648.1" stroke="#000" stroke-width="1.1"/>
<text x="1992" y="654.0" font-size="17">4</text>
<line x1="1978" y1="535.2" x2="1984" y2="535.2" stroke="#000" stroke-width="1.1"/>
<text x="1992" y="541.1" font-size="17">6</text>
<line x1="1978" y1="422.2" x2="1984" y2="422.2" stroke="#000" stroke-width="1.1"/>
<text x="1992" y="428.1" font-size="17">8</text>
<line x1="1978" y1="309.3" x2="1984" y2="309.3" stroke="#000" stroke-width="1.1"/>
<text x="1992" y="315.2" font-size="17">10</text>
<line x1="1978" y1="196.4" x2="1984" y2="196.4" stroke="#000" stroke-width="1.1"/>
<text x="1992" y="202.3" font-size="17">12</text>
<line x1="1978" y1="83.4" x2="1984" y2="83.4" stroke="#000" stroke-width="1.1"/>
<text x="1992" y="89.3" font-size="17">14</text>
</svg></body></html>
